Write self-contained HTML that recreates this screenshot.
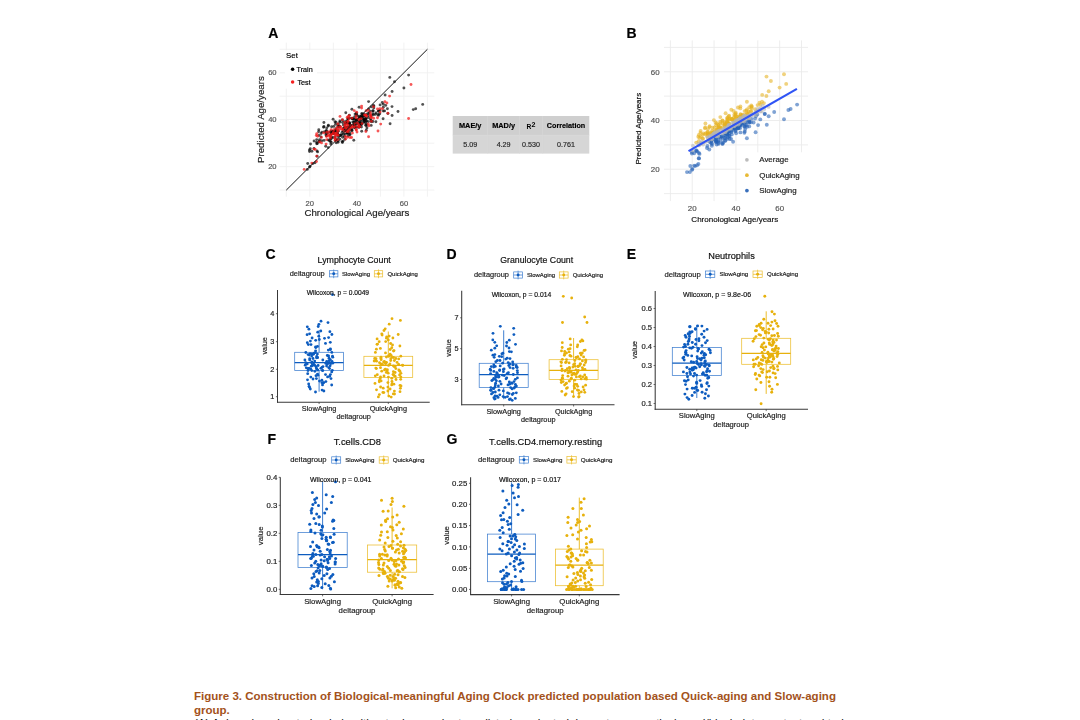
<!DOCTYPE html>
<html><head><meta charset="utf-8"><title>Figure 3</title>
<style>
html,body{margin:0;padding:0;background:#fff;}
body{width:1080px;height:720px;overflow:hidden;position:relative;font-family:'Liberation Sans', sans-serif;}
svg{position:absolute;left:0;top:0;}
svg text{font-family:'Liberation Sans', sans-serif;}
#fig{filter:blur(0.45px);}
.cap{position:absolute;left:194px;top:690.2px;width:700px;font-size:11.52px;line-height:13.7px;font-weight:bold;color:#a3521b;white-space:nowrap;}
.cap2{position:absolute;left:194px;top:716.6px;width:700px;font-size:11.52px;line-height:13.7px;color:#111;white-space:nowrap;}
</style></head>
<body>
<svg id="fig" width="1080" height="720" viewBox="0 0 1080 720">
<g id="A">
<line x1="286.30" y1="42.6" x2="286.30" y2="196.7" stroke="#f0f0f0" stroke-width="0.9"/>
<line x1="279.6" y1="190.10" x2="434.3" y2="190.10" stroke="#f0f0f0" stroke-width="0.9"/>
<line x1="309.82" y1="42.6" x2="309.82" y2="196.7" stroke="#f0f0f0" stroke-width="0.9"/>
<line x1="279.6" y1="166.63" x2="434.3" y2="166.63" stroke="#f0f0f0" stroke-width="0.9"/>
<line x1="333.34" y1="42.6" x2="333.34" y2="196.7" stroke="#f0f0f0" stroke-width="0.9"/>
<line x1="279.6" y1="143.16" x2="434.3" y2="143.16" stroke="#f0f0f0" stroke-width="0.9"/>
<line x1="356.86" y1="42.6" x2="356.86" y2="196.7" stroke="#f0f0f0" stroke-width="0.9"/>
<line x1="279.6" y1="119.69" x2="434.3" y2="119.69" stroke="#f0f0f0" stroke-width="0.9"/>
<line x1="380.38" y1="42.6" x2="380.38" y2="196.7" stroke="#f0f0f0" stroke-width="0.9"/>
<line x1="279.6" y1="96.22" x2="434.3" y2="96.22" stroke="#f0f0f0" stroke-width="0.9"/>
<line x1="403.90" y1="42.6" x2="403.90" y2="196.7" stroke="#f0f0f0" stroke-width="0.9"/>
<line x1="279.6" y1="72.75" x2="434.3" y2="72.75" stroke="#f0f0f0" stroke-width="0.9"/>
<line x1="427.42" y1="42.6" x2="427.42" y2="196.7" stroke="#f0f0f0" stroke-width="0.9"/>
<line x1="279.6" y1="49.28" x2="434.3" y2="49.28" stroke="#f0f0f0" stroke-width="0.9"/>
<rect x="284.9" y="50.3" width="32.1" height="38.4" fill="#fff"/>
<circle cx="330.4" cy="135.5" r="1.45" fill="#000" fill-opacity="0.68"/>
<circle cx="317.0" cy="150.9" r="1.45" fill="#000" fill-opacity="0.68"/>
<circle cx="356.6" cy="120.4" r="1.45" fill="#000" fill-opacity="0.68"/>
<circle cx="361.8" cy="113.5" r="1.45" fill="#000" fill-opacity="0.68"/>
<circle cx="340.1" cy="135.8" r="1.45" fill="#000" fill-opacity="0.68"/>
<circle cx="333.8" cy="131.7" r="1.45" fill="#000" fill-opacity="0.68"/>
<circle cx="349.8" cy="118.1" r="1.45" fill="#000" fill-opacity="0.68"/>
<circle cx="321.1" cy="133.5" r="1.45" fill="#000" fill-opacity="0.68"/>
<circle cx="378.4" cy="111.2" r="1.45" fill="#000" fill-opacity="0.68"/>
<circle cx="361.8" cy="124.3" r="1.45" fill="#000" fill-opacity="0.68"/>
<circle cx="331.5" cy="137.4" r="1.45" fill="#000" fill-opacity="0.68"/>
<circle cx="321.0" cy="137.0" r="1.45" fill="#000" fill-opacity="0.68"/>
<circle cx="356.7" cy="127.1" r="1.45" fill="#000" fill-opacity="0.68"/>
<circle cx="318.6" cy="131.8" r="1.45" fill="#000" fill-opacity="0.68"/>
<circle cx="337.7" cy="126.1" r="1.45" fill="#000" fill-opacity="0.68"/>
<circle cx="380.0" cy="110.4" r="1.45" fill="#000" fill-opacity="0.68"/>
<circle cx="360.9" cy="124.6" r="1.45" fill="#000" fill-opacity="0.68"/>
<circle cx="343.4" cy="134.3" r="1.45" fill="#000" fill-opacity="0.68"/>
<circle cx="348.0" cy="118.5" r="1.45" fill="#000" fill-opacity="0.68"/>
<circle cx="330.4" cy="138.9" r="1.45" fill="#000" fill-opacity="0.68"/>
<circle cx="353.8" cy="119.2" r="1.45" fill="#000" fill-opacity="0.68"/>
<circle cx="361.2" cy="123.2" r="1.45" fill="#000" fill-opacity="0.68"/>
<circle cx="343.2" cy="131.0" r="1.45" fill="#000" fill-opacity="0.68"/>
<circle cx="356.9" cy="124.1" r="1.45" fill="#000" fill-opacity="0.68"/>
<circle cx="347.1" cy="120.9" r="1.45" fill="#000" fill-opacity="0.68"/>
<circle cx="326.3" cy="131.2" r="1.45" fill="#000" fill-opacity="0.68"/>
<circle cx="378.5" cy="115.4" r="1.45" fill="#000" fill-opacity="0.68"/>
<circle cx="362.0" cy="114.1" r="1.45" fill="#000" fill-opacity="0.68"/>
<circle cx="373.0" cy="110.7" r="1.45" fill="#000" fill-opacity="0.68"/>
<circle cx="352.8" cy="118.6" r="1.45" fill="#000" fill-opacity="0.68"/>
<circle cx="345.3" cy="126.6" r="1.45" fill="#000" fill-opacity="0.68"/>
<circle cx="361.8" cy="117.0" r="1.45" fill="#000" fill-opacity="0.68"/>
<circle cx="331.6" cy="126.7" r="1.45" fill="#000" fill-opacity="0.68"/>
<circle cx="363.5" cy="119.6" r="1.45" fill="#000" fill-opacity="0.68"/>
<circle cx="329.3" cy="140.6" r="1.45" fill="#000" fill-opacity="0.68"/>
<circle cx="378.6" cy="110.9" r="1.45" fill="#000" fill-opacity="0.68"/>
<circle cx="357.5" cy="115.9" r="1.45" fill="#000" fill-opacity="0.68"/>
<circle cx="368.7" cy="109.0" r="1.45" fill="#000" fill-opacity="0.68"/>
<circle cx="365.9" cy="118.6" r="1.45" fill="#000" fill-opacity="0.68"/>
<circle cx="365.7" cy="118.9" r="1.45" fill="#000" fill-opacity="0.68"/>
<circle cx="371.1" cy="120.5" r="1.45" fill="#000" fill-opacity="0.68"/>
<circle cx="366.3" cy="130.3" r="1.45" fill="#000" fill-opacity="0.68"/>
<circle cx="349.3" cy="115.2" r="1.45" fill="#000" fill-opacity="0.68"/>
<circle cx="349.6" cy="127.1" r="1.45" fill="#000" fill-opacity="0.68"/>
<circle cx="325.7" cy="146.2" r="1.45" fill="#000" fill-opacity="0.68"/>
<circle cx="338.4" cy="131.1" r="1.45" fill="#000" fill-opacity="0.68"/>
<circle cx="366.9" cy="127.9" r="1.45" fill="#000" fill-opacity="0.68"/>
<circle cx="338.1" cy="136.5" r="1.45" fill="#000" fill-opacity="0.68"/>
<circle cx="335.7" cy="139.2" r="1.45" fill="#000" fill-opacity="0.68"/>
<circle cx="332.8" cy="131.4" r="1.45" fill="#000" fill-opacity="0.68"/>
<circle cx="339.8" cy="126.1" r="1.45" fill="#000" fill-opacity="0.68"/>
<circle cx="356.4" cy="120.0" r="1.45" fill="#000" fill-opacity="0.68"/>
<circle cx="345.6" cy="130.8" r="1.45" fill="#000" fill-opacity="0.68"/>
<circle cx="359.1" cy="107.2" r="1.45" fill="#000" fill-opacity="0.68"/>
<circle cx="384.6" cy="110.9" r="1.45" fill="#000" fill-opacity="0.68"/>
<circle cx="332.9" cy="133.7" r="1.45" fill="#000" fill-opacity="0.68"/>
<circle cx="349.9" cy="127.0" r="1.45" fill="#000" fill-opacity="0.68"/>
<circle cx="366.4" cy="118.0" r="1.45" fill="#000" fill-opacity="0.68"/>
<circle cx="368.1" cy="115.6" r="1.45" fill="#000" fill-opacity="0.68"/>
<circle cx="337.4" cy="133.5" r="1.45" fill="#000" fill-opacity="0.68"/>
<circle cx="330.4" cy="141.4" r="1.45" fill="#000" fill-opacity="0.68"/>
<circle cx="323.9" cy="126.5" r="1.45" fill="#000" fill-opacity="0.68"/>
<circle cx="347.2" cy="123.1" r="1.45" fill="#000" fill-opacity="0.68"/>
<circle cx="351.7" cy="125.6" r="1.45" fill="#000" fill-opacity="0.68"/>
<circle cx="326.7" cy="133.7" r="1.45" fill="#000" fill-opacity="0.68"/>
<circle cx="344.9" cy="139.3" r="1.45" fill="#000" fill-opacity="0.68"/>
<circle cx="349.6" cy="132.4" r="1.45" fill="#000" fill-opacity="0.68"/>
<circle cx="342.6" cy="137.2" r="1.45" fill="#000" fill-opacity="0.68"/>
<circle cx="358.6" cy="120.6" r="1.45" fill="#000" fill-opacity="0.68"/>
<circle cx="349.2" cy="122.3" r="1.45" fill="#000" fill-opacity="0.68"/>
<circle cx="344.6" cy="121.6" r="1.45" fill="#000" fill-opacity="0.68"/>
<circle cx="345.8" cy="112.7" r="1.45" fill="#000" fill-opacity="0.68"/>
<circle cx="351.9" cy="109.3" r="1.45" fill="#000" fill-opacity="0.68"/>
<circle cx="368.6" cy="117.5" r="1.45" fill="#000" fill-opacity="0.68"/>
<circle cx="345.2" cy="123.9" r="1.45" fill="#000" fill-opacity="0.68"/>
<circle cx="350.1" cy="134.6" r="1.45" fill="#000" fill-opacity="0.68"/>
<circle cx="344.5" cy="136.4" r="1.45" fill="#000" fill-opacity="0.68"/>
<circle cx="371.3" cy="121.8" r="1.45" fill="#000" fill-opacity="0.68"/>
<circle cx="363.9" cy="114.0" r="1.45" fill="#000" fill-opacity="0.68"/>
<circle cx="361.7" cy="131.2" r="1.45" fill="#000" fill-opacity="0.68"/>
<circle cx="361.0" cy="116.5" r="1.45" fill="#000" fill-opacity="0.68"/>
<circle cx="324.1" cy="140.4" r="1.45" fill="#000" fill-opacity="0.68"/>
<circle cx="347.9" cy="126.9" r="1.45" fill="#000" fill-opacity="0.68"/>
<circle cx="347.8" cy="130.9" r="1.45" fill="#000" fill-opacity="0.68"/>
<circle cx="331.0" cy="134.0" r="1.45" fill="#000" fill-opacity="0.68"/>
<circle cx="359.6" cy="118.0" r="1.45" fill="#000" fill-opacity="0.68"/>
<circle cx="359.9" cy="124.2" r="1.45" fill="#000" fill-opacity="0.68"/>
<circle cx="371.4" cy="115.7" r="1.45" fill="#000" fill-opacity="0.68"/>
<circle cx="335.3" cy="130.7" r="1.45" fill="#000" fill-opacity="0.68"/>
<circle cx="356.4" cy="115.1" r="1.45" fill="#000" fill-opacity="0.68"/>
<circle cx="359.7" cy="122.6" r="1.45" fill="#000" fill-opacity="0.68"/>
<circle cx="372.9" cy="121.5" r="1.45" fill="#000" fill-opacity="0.68"/>
<circle cx="344.4" cy="127.8" r="1.45" fill="#000" fill-opacity="0.68"/>
<circle cx="332.8" cy="131.6" r="1.45" fill="#000" fill-opacity="0.68"/>
<circle cx="335.0" cy="121.7" r="1.45" fill="#000" fill-opacity="0.68"/>
<circle cx="355.1" cy="126.4" r="1.45" fill="#000" fill-opacity="0.68"/>
<circle cx="363.7" cy="122.5" r="1.45" fill="#000" fill-opacity="0.68"/>
<circle cx="375.5" cy="114.4" r="1.45" fill="#000" fill-opacity="0.68"/>
<circle cx="349.2" cy="124.0" r="1.45" fill="#000" fill-opacity="0.68"/>
<circle cx="337.9" cy="131.4" r="1.45" fill="#000" fill-opacity="0.68"/>
<circle cx="375.9" cy="121.7" r="1.45" fill="#000" fill-opacity="0.68"/>
<circle cx="347.8" cy="133.4" r="1.45" fill="#000" fill-opacity="0.68"/>
<circle cx="333.1" cy="132.2" r="1.45" fill="#000" fill-opacity="0.68"/>
<circle cx="364.1" cy="120.3" r="1.45" fill="#000" fill-opacity="0.68"/>
<circle cx="333.2" cy="133.2" r="1.45" fill="#000" fill-opacity="0.68"/>
<circle cx="361.6" cy="117.6" r="1.45" fill="#000" fill-opacity="0.68"/>
<circle cx="341.0" cy="135.3" r="1.45" fill="#000" fill-opacity="0.68"/>
<circle cx="360.9" cy="119.8" r="1.45" fill="#000" fill-opacity="0.68"/>
<circle cx="336.2" cy="142.8" r="1.45" fill="#000" fill-opacity="0.68"/>
<circle cx="348.1" cy="135.9" r="1.45" fill="#000" fill-opacity="0.68"/>
<circle cx="345.0" cy="134.1" r="1.45" fill="#000" fill-opacity="0.68"/>
<circle cx="323.6" cy="127.2" r="1.45" fill="#000" fill-opacity="0.68"/>
<circle cx="344.8" cy="128.7" r="1.45" fill="#000" fill-opacity="0.68"/>
<circle cx="348.0" cy="118.6" r="1.45" fill="#000" fill-opacity="0.68"/>
<circle cx="343.4" cy="128.6" r="1.45" fill="#000" fill-opacity="0.68"/>
<circle cx="363.9" cy="120.1" r="1.45" fill="#000" fill-opacity="0.68"/>
<circle cx="354.7" cy="127.8" r="1.45" fill="#000" fill-opacity="0.68"/>
<circle cx="356.6" cy="122.5" r="1.45" fill="#000" fill-opacity="0.68"/>
<circle cx="354.9" cy="125.4" r="1.45" fill="#000" fill-opacity="0.68"/>
<circle cx="338.7" cy="135.2" r="1.45" fill="#000" fill-opacity="0.68"/>
<circle cx="349.4" cy="124.0" r="1.45" fill="#000" fill-opacity="0.68"/>
<circle cx="352.4" cy="118.7" r="1.45" fill="#000" fill-opacity="0.68"/>
<circle cx="361.2" cy="115.9" r="1.45" fill="#000" fill-opacity="0.68"/>
<circle cx="353.9" cy="122.3" r="1.45" fill="#000" fill-opacity="0.68"/>
<circle cx="383.1" cy="118.7" r="1.45" fill="#000" fill-opacity="0.68"/>
<circle cx="365.8" cy="120.8" r="1.45" fill="#000" fill-opacity="0.68"/>
<circle cx="350.0" cy="127.4" r="1.45" fill="#000" fill-opacity="0.68"/>
<circle cx="361.4" cy="121.6" r="1.45" fill="#000" fill-opacity="0.68"/>
<circle cx="358.6" cy="127.4" r="1.45" fill="#000" fill-opacity="0.68"/>
<circle cx="318.8" cy="129.8" r="1.45" fill="#000" fill-opacity="0.68"/>
<circle cx="354.4" cy="124.7" r="1.45" fill="#000" fill-opacity="0.68"/>
<circle cx="364.3" cy="121.8" r="1.45" fill="#000" fill-opacity="0.68"/>
<circle cx="343.4" cy="125.0" r="1.45" fill="#000" fill-opacity="0.68"/>
<circle cx="383.3" cy="111.0" r="1.45" fill="#000" fill-opacity="0.68"/>
<circle cx="354.1" cy="124.2" r="1.45" fill="#000" fill-opacity="0.68"/>
<circle cx="337.9" cy="134.5" r="1.45" fill="#000" fill-opacity="0.68"/>
<circle cx="359.6" cy="118.3" r="1.45" fill="#000" fill-opacity="0.68"/>
<circle cx="345.3" cy="123.4" r="1.45" fill="#000" fill-opacity="0.68"/>
<circle cx="380.1" cy="104.9" r="1.45" fill="#000" fill-opacity="0.68"/>
<circle cx="368.9" cy="113.5" r="1.45" fill="#000" fill-opacity="0.68"/>
<circle cx="352.3" cy="118.6" r="1.45" fill="#000" fill-opacity="0.68"/>
<circle cx="359.3" cy="125.9" r="1.45" fill="#000" fill-opacity="0.68"/>
<circle cx="373.4" cy="105.2" r="1.45" fill="#000" fill-opacity="0.68"/>
<circle cx="387.9" cy="113.5" r="1.45" fill="#000" fill-opacity="0.68"/>
<circle cx="349.8" cy="123.1" r="1.45" fill="#000" fill-opacity="0.68"/>
<circle cx="359.9" cy="119.1" r="1.45" fill="#000" fill-opacity="0.68"/>
<circle cx="366.8" cy="121.0" r="1.45" fill="#000" fill-opacity="0.68"/>
<circle cx="328.2" cy="140.0" r="1.45" fill="#000" fill-opacity="0.68"/>
<circle cx="356.5" cy="119.6" r="1.45" fill="#000" fill-opacity="0.68"/>
<circle cx="342.1" cy="132.3" r="1.45" fill="#000" fill-opacity="0.68"/>
<circle cx="333.1" cy="119.3" r="1.45" fill="#000" fill-opacity="0.68"/>
<circle cx="338.6" cy="126.2" r="1.45" fill="#000" fill-opacity="0.68"/>
<circle cx="392.0" cy="106.6" r="1.45" fill="#000" fill-opacity="0.68"/>
<circle cx="373.5" cy="114.7" r="1.45" fill="#000" fill-opacity="0.68"/>
<circle cx="373.1" cy="111.0" r="1.45" fill="#000" fill-opacity="0.68"/>
<circle cx="359.2" cy="117.8" r="1.45" fill="#000" fill-opacity="0.68"/>
<circle cx="366.7" cy="114.2" r="1.45" fill="#000" fill-opacity="0.68"/>
<circle cx="352.8" cy="121.9" r="1.45" fill="#000" fill-opacity="0.68"/>
<circle cx="343.3" cy="128.8" r="1.45" fill="#000" fill-opacity="0.68"/>
<circle cx="352.0" cy="129.0" r="1.45" fill="#000" fill-opacity="0.68"/>
<circle cx="354.1" cy="127.1" r="1.45" fill="#000" fill-opacity="0.68"/>
<circle cx="342.1" cy="141.6" r="1.45" fill="#000" fill-opacity="0.68"/>
<circle cx="331.2" cy="138.7" r="1.45" fill="#000" fill-opacity="0.68"/>
<circle cx="326.2" cy="132.5" r="1.45" fill="#000" fill-opacity="0.68"/>
<circle cx="330.3" cy="132.1" r="1.45" fill="#000" fill-opacity="0.68"/>
<circle cx="336.1" cy="131.9" r="1.45" fill="#000" fill-opacity="0.68"/>
<circle cx="363.3" cy="115.0" r="1.45" fill="#000" fill-opacity="0.68"/>
<circle cx="390.1" cy="123.7" r="1.45" fill="#000" fill-opacity="0.68"/>
<circle cx="368.6" cy="101.6" r="1.45" fill="#000" fill-opacity="0.68"/>
<circle cx="359.6" cy="123.5" r="1.45" fill="#000" fill-opacity="0.68"/>
<circle cx="349.8" cy="124.7" r="1.45" fill="#000" fill-opacity="0.68"/>
<circle cx="363.4" cy="115.9" r="1.45" fill="#000" fill-opacity="0.68"/>
<circle cx="351.7" cy="130.3" r="1.45" fill="#000" fill-opacity="0.68"/>
<circle cx="368.8" cy="112.6" r="1.45" fill="#000" fill-opacity="0.68"/>
<circle cx="366.4" cy="124.0" r="1.45" fill="#000" fill-opacity="0.68"/>
<circle cx="335.5" cy="124.3" r="1.45" fill="#000" fill-opacity="0.68"/>
<circle cx="354.7" cy="121.8" r="1.45" fill="#000" fill-opacity="0.68"/>
<circle cx="335.9" cy="128.8" r="1.45" fill="#000" fill-opacity="0.68"/>
<circle cx="346.8" cy="127.6" r="1.45" fill="#000" fill-opacity="0.68"/>
<circle cx="347.1" cy="122.5" r="1.45" fill="#000" fill-opacity="0.68"/>
<circle cx="361.7" cy="124.1" r="1.45" fill="#000" fill-opacity="0.68"/>
<circle cx="383.3" cy="104.2" r="1.45" fill="#000" fill-opacity="0.68"/>
<circle cx="365.6" cy="122.4" r="1.45" fill="#000" fill-opacity="0.68"/>
<circle cx="359.4" cy="126.8" r="1.45" fill="#000" fill-opacity="0.68"/>
<circle cx="342.4" cy="120.0" r="1.45" fill="#000" fill-opacity="0.68"/>
<circle cx="356.2" cy="113.0" r="1.45" fill="#000" fill-opacity="0.68"/>
<circle cx="361.1" cy="117.6" r="1.45" fill="#000" fill-opacity="0.68"/>
<circle cx="346.8" cy="128.8" r="1.45" fill="#000" fill-opacity="0.68"/>
<circle cx="363.2" cy="117.7" r="1.45" fill="#000" fill-opacity="0.68"/>
<circle cx="319.6" cy="139.7" r="1.45" fill="#000" fill-opacity="0.68"/>
<circle cx="359.5" cy="126.8" r="1.45" fill="#000" fill-opacity="0.68"/>
<circle cx="378.1" cy="114.5" r="1.45" fill="#000" fill-opacity="0.68"/>
<circle cx="335.4" cy="130.4" r="1.45" fill="#000" fill-opacity="0.68"/>
<circle cx="347.8" cy="127.2" r="1.45" fill="#000" fill-opacity="0.68"/>
<circle cx="364.5" cy="119.7" r="1.45" fill="#000" fill-opacity="0.68"/>
<circle cx="333.5" cy="132.3" r="1.45" fill="#000" fill-opacity="0.68"/>
<circle cx="392.1" cy="115.5" r="1.45" fill="#000" fill-opacity="0.68"/>
<circle cx="338.0" cy="142.3" r="1.45" fill="#000" fill-opacity="0.68"/>
<circle cx="335.3" cy="134.3" r="1.45" fill="#000" fill-opacity="0.68"/>
<circle cx="354.8" cy="123.5" r="1.45" fill="#000" fill-opacity="0.68"/>
<circle cx="339.8" cy="139.3" r="1.45" fill="#000" fill-opacity="0.68"/>
<circle cx="326.7" cy="128.0" r="1.45" fill="#000" fill-opacity="0.68"/>
<circle cx="385.7" cy="105.4" r="1.45" fill="#000" fill-opacity="0.68"/>
<circle cx="371.2" cy="125.4" r="1.45" fill="#000" fill-opacity="0.68"/>
<circle cx="349.5" cy="129.9" r="1.45" fill="#000" fill-opacity="0.68"/>
<circle cx="363.6" cy="119.0" r="1.45" fill="#000" fill-opacity="0.68"/>
<circle cx="338.7" cy="127.2" r="1.45" fill="#000" fill-opacity="0.68"/>
<circle cx="365.6" cy="125.2" r="1.45" fill="#000" fill-opacity="0.68"/>
<circle cx="319.0" cy="135.4" r="1.45" fill="#000" fill-opacity="0.68"/>
<circle cx="353.8" cy="140.3" r="1.45" fill="#000" fill-opacity="0.68"/>
<circle cx="314.1" cy="141.0" r="1.45" fill="#000" fill-opacity="0.68"/>
<circle cx="328.3" cy="126.0" r="1.45" fill="#000" fill-opacity="0.68"/>
<circle cx="347.7" cy="122.9" r="1.45" fill="#000" fill-opacity="0.68"/>
<circle cx="370.4" cy="111.1" r="1.45" fill="#000" fill-opacity="0.68"/>
<circle cx="338.2" cy="141.0" r="1.45" fill="#000" fill-opacity="0.68"/>
<circle cx="368.4" cy="121.6" r="1.45" fill="#000" fill-opacity="0.68"/>
<circle cx="352.2" cy="118.2" r="1.45" fill="#000" fill-opacity="0.68"/>
<circle cx="349.6" cy="134.5" r="1.45" fill="#000" fill-opacity="0.68"/>
<circle cx="371.2" cy="106.9" r="1.45" fill="#000" fill-opacity="0.68"/>
<circle cx="359.6" cy="116.1" r="1.45" fill="#000" fill-opacity="0.68"/>
<circle cx="354.8" cy="119.1" r="1.45" fill="#000" fill-opacity="0.68"/>
<circle cx="356.5" cy="119.9" r="1.45" fill="#000" fill-opacity="0.68"/>
<circle cx="379.8" cy="113.8" r="1.45" fill="#000" fill-opacity="0.68"/>
<circle cx="364.6" cy="116.1" r="1.45" fill="#000" fill-opacity="0.68"/>
<circle cx="347.0" cy="133.3" r="1.45" fill="#000" fill-opacity="0.68"/>
<circle cx="321.9" cy="132.1" r="1.45" fill="#000" fill-opacity="0.68"/>
<circle cx="335.2" cy="137.1" r="1.45" fill="#000" fill-opacity="0.68"/>
<circle cx="324.5" cy="131.8" r="1.45" fill="#000" fill-opacity="0.68"/>
<circle cx="343.1" cy="141.1" r="1.45" fill="#000" fill-opacity="0.68"/>
<circle cx="366.5" cy="125.8" r="1.45" fill="#000" fill-opacity="0.68"/>
<circle cx="339.8" cy="122.3" r="1.45" fill="#000" fill-opacity="0.68"/>
<circle cx="331.2" cy="131.2" r="1.45" fill="#000" fill-opacity="0.68"/>
<circle cx="328.2" cy="147.6" r="1.45" fill="#000" fill-opacity="0.68"/>
<circle cx="352.1" cy="130.7" r="1.45" fill="#000" fill-opacity="0.68"/>
<circle cx="372.8" cy="113.7" r="1.45" fill="#000" fill-opacity="0.68"/>
<circle cx="370.4" cy="119.1" r="1.45" fill="#000" fill-opacity="0.68"/>
<circle cx="319.2" cy="141.9" r="1.45" fill="#000" fill-opacity="0.68"/>
<circle cx="361.4" cy="127.0" r="1.45" fill="#000" fill-opacity="0.68"/>
<circle cx="356.7" cy="113.9" r="1.45" fill="#000" fill-opacity="0.68"/>
<circle cx="346.8" cy="120.9" r="1.45" fill="#000" fill-opacity="0.68"/>
<circle cx="355.1" cy="114.1" r="1.45" fill="#000" fill-opacity="0.68"/>
<circle cx="373.8" cy="107.9" r="1.45" fill="#000" fill-opacity="0.68"/>
<circle cx="325.9" cy="134.8" r="1.45" fill="#000" fill-opacity="0.68"/>
<circle cx="333.8" cy="126.4" r="1.45" fill="#000" fill-opacity="0.68"/>
<circle cx="342.6" cy="122.5" r="1.45" fill="#000" fill-opacity="0.68"/>
<circle cx="341.0" cy="134.8" r="1.45" fill="#000" fill-opacity="0.68"/>
<circle cx="383.3" cy="107.3" r="1.45" fill="#000" fill-opacity="0.68"/>
<circle cx="382.3" cy="102.5" r="1.45" fill="#000" fill-opacity="0.68"/>
<circle cx="331.2" cy="142.3" r="1.45" fill="#000" fill-opacity="0.68"/>
<circle cx="328.2" cy="132.6" r="1.45" fill="#000" fill-opacity="0.68"/>
<circle cx="319.1" cy="141.3" r="1.45" fill="#000" fill-opacity="0.68"/>
<circle cx="326.3" cy="135.9" r="1.45" fill="#000" fill-opacity="0.68"/>
<circle cx="387.4" cy="108.7" r="1.45" fill="#000" fill-opacity="0.68"/>
<circle cx="330.8" cy="144.1" r="1.45" fill="#000" fill-opacity="0.68"/>
<circle cx="357.1" cy="123.3" r="1.45" fill="#000" fill-opacity="0.68"/>
<circle cx="375.9" cy="112.9" r="1.45" fill="#000" fill-opacity="0.68"/>
<circle cx="323.9" cy="122.5" r="1.45" fill="#000" fill-opacity="0.68"/>
<circle cx="354.8" cy="124.7" r="1.45" fill="#000" fill-opacity="0.68"/>
<circle cx="328.4" cy="125.2" r="1.45" fill="#000" fill-opacity="0.68"/>
<circle cx="316.5" cy="142.1" r="1.45" fill="#000" fill-opacity="0.68"/>
<circle cx="347.2" cy="132.9" r="1.45" fill="#000" fill-opacity="0.68"/>
<circle cx="321.8" cy="140.8" r="1.45" fill="#000" fill-opacity="0.68"/>
<circle cx="373.9" cy="106.1" r="1.45" fill="#000" fill-opacity="0.68"/>
<circle cx="354.7" cy="116.6" r="1.45" fill="#000" fill-opacity="0.68"/>
<circle cx="338.2" cy="124.2" r="1.45" fill="#000" fill-opacity="0.68"/>
<circle cx="331.4" cy="133.5" r="1.45" fill="#000" fill-opacity="0.68"/>
<circle cx="355.0" cy="127.0" r="1.45" fill="#000" fill-opacity="0.68"/>
<circle cx="333.1" cy="137.5" r="1.45" fill="#000" fill-opacity="0.68"/>
<circle cx="345.3" cy="130.6" r="1.45" fill="#000" fill-opacity="0.68"/>
<circle cx="359.8" cy="118.8" r="1.45" fill="#000" fill-opacity="0.68"/>
<circle cx="326.4" cy="130.4" r="1.45" fill="#000" fill-opacity="0.68"/>
<circle cx="339.9" cy="121.0" r="1.45" fill="#000" fill-opacity="0.68"/>
<circle cx="336.0" cy="122.3" r="1.45" fill="#000" fill-opacity="0.68"/>
<circle cx="359.4" cy="122.0" r="1.45" fill="#000" fill-opacity="0.68"/>
<circle cx="342.4" cy="142.5" r="1.45" fill="#000" fill-opacity="0.68"/>
<circle cx="307.3" cy="169.4" r="1.45" fill="#000" fill-opacity="0.68"/>
<circle cx="317.1" cy="156.2" r="1.45" fill="#000" fill-opacity="0.68"/>
<circle cx="307.7" cy="163.5" r="1.45" fill="#000" fill-opacity="0.68"/>
<circle cx="315.0" cy="162.8" r="1.45" fill="#000" fill-opacity="0.68"/>
<circle cx="312.9" cy="163.6" r="1.45" fill="#000" fill-opacity="0.68"/>
<circle cx="310.0" cy="166.3" r="1.45" fill="#000" fill-opacity="0.68"/>
<circle cx="309.6" cy="167.1" r="1.45" fill="#000" fill-opacity="0.68"/>
<circle cx="309.4" cy="150.0" r="1.45" fill="#000" fill-opacity="0.68"/>
<circle cx="317.6" cy="151.9" r="1.45" fill="#000" fill-opacity="0.68"/>
<circle cx="317.4" cy="143.5" r="1.45" fill="#000" fill-opacity="0.68"/>
<circle cx="311.9" cy="151.2" r="1.45" fill="#000" fill-opacity="0.68"/>
<circle cx="316.7" cy="139.6" r="1.45" fill="#000" fill-opacity="0.68"/>
<circle cx="309.5" cy="151.6" r="1.45" fill="#000" fill-opacity="0.68"/>
<circle cx="314.0" cy="148.4" r="1.45" fill="#000" fill-opacity="0.68"/>
<circle cx="316.7" cy="143.7" r="1.45" fill="#000" fill-opacity="0.68"/>
<circle cx="310.3" cy="148.7" r="1.45" fill="#000" fill-opacity="0.68"/>
<circle cx="310.5" cy="144.0" r="1.45" fill="#000" fill-opacity="0.68"/>
<circle cx="389.8" cy="77.4" r="1.45" fill="#000" fill-opacity="0.68"/>
<circle cx="394.5" cy="81.7" r="1.45" fill="#000" fill-opacity="0.68"/>
<circle cx="408.6" cy="75.1" r="1.45" fill="#000" fill-opacity="0.68"/>
<circle cx="403.9" cy="88.0" r="1.45" fill="#000" fill-opacity="0.68"/>
<circle cx="413.3" cy="109.6" r="1.45" fill="#000" fill-opacity="0.68"/>
<circle cx="415.7" cy="108.7" r="1.45" fill="#000" fill-opacity="0.68"/>
<circle cx="422.7" cy="104.4" r="1.45" fill="#000" fill-opacity="0.68"/>
<circle cx="398.0" cy="111.5" r="1.45" fill="#000" fill-opacity="0.68"/>
<circle cx="392.1" cy="91.5" r="1.45" fill="#000" fill-opacity="0.68"/>
<circle cx="385.1" cy="95.0" r="1.45" fill="#000" fill-opacity="0.68"/>
<circle cx="345.3" cy="124.9" r="1.45" fill="#f21818" fill-opacity="0.72"/>
<circle cx="370.4" cy="115.0" r="1.45" fill="#f21818" fill-opacity="0.72"/>
<circle cx="316.3" cy="135.4" r="1.45" fill="#f21818" fill-opacity="0.72"/>
<circle cx="357.4" cy="123.0" r="1.45" fill="#f21818" fill-opacity="0.72"/>
<circle cx="342.1" cy="129.6" r="1.45" fill="#f21818" fill-opacity="0.72"/>
<circle cx="348.1" cy="131.8" r="1.45" fill="#f21818" fill-opacity="0.72"/>
<circle cx="370.5" cy="115.5" r="1.45" fill="#f21818" fill-opacity="0.72"/>
<circle cx="379.9" cy="108.6" r="1.45" fill="#f21818" fill-opacity="0.72"/>
<circle cx="315.2" cy="149.4" r="1.45" fill="#f21818" fill-opacity="0.72"/>
<circle cx="368.9" cy="125.8" r="1.45" fill="#f21818" fill-opacity="0.72"/>
<circle cx="361.2" cy="118.6" r="1.45" fill="#f21818" fill-opacity="0.72"/>
<circle cx="351.5" cy="125.9" r="1.45" fill="#f21818" fill-opacity="0.72"/>
<circle cx="356.3" cy="129.5" r="1.45" fill="#f21818" fill-opacity="0.72"/>
<circle cx="355.0" cy="126.4" r="1.45" fill="#f21818" fill-opacity="0.72"/>
<circle cx="361.6" cy="106.1" r="1.45" fill="#f21818" fill-opacity="0.72"/>
<circle cx="321.4" cy="137.4" r="1.45" fill="#f21818" fill-opacity="0.72"/>
<circle cx="344.7" cy="122.5" r="1.45" fill="#f21818" fill-opacity="0.72"/>
<circle cx="380.7" cy="124.1" r="1.45" fill="#f21818" fill-opacity="0.72"/>
<circle cx="377.5" cy="117.8" r="1.45" fill="#f21818" fill-opacity="0.72"/>
<circle cx="345.6" cy="139.1" r="1.45" fill="#f21818" fill-opacity="0.72"/>
<circle cx="370.9" cy="117.6" r="1.45" fill="#f21818" fill-opacity="0.72"/>
<circle cx="357.5" cy="126.6" r="1.45" fill="#f21818" fill-opacity="0.72"/>
<circle cx="370.4" cy="112.7" r="1.45" fill="#f21818" fill-opacity="0.72"/>
<circle cx="382.4" cy="108.7" r="1.45" fill="#f21818" fill-opacity="0.72"/>
<circle cx="335.1" cy="140.5" r="1.45" fill="#f21818" fill-opacity="0.72"/>
<circle cx="365.9" cy="131.5" r="1.45" fill="#f21818" fill-opacity="0.72"/>
<circle cx="335.1" cy="136.5" r="1.45" fill="#f21818" fill-opacity="0.72"/>
<circle cx="354.5" cy="123.5" r="1.45" fill="#f21818" fill-opacity="0.72"/>
<circle cx="333.0" cy="133.8" r="1.45" fill="#f21818" fill-opacity="0.72"/>
<circle cx="368.3" cy="124.0" r="1.45" fill="#f21818" fill-opacity="0.72"/>
<circle cx="356.2" cy="116.0" r="1.45" fill="#f21818" fill-opacity="0.72"/>
<circle cx="365.6" cy="115.3" r="1.45" fill="#f21818" fill-opacity="0.72"/>
<circle cx="336.4" cy="128.7" r="1.45" fill="#f21818" fill-opacity="0.72"/>
<circle cx="337.7" cy="139.5" r="1.45" fill="#f21818" fill-opacity="0.72"/>
<circle cx="326.5" cy="136.5" r="1.45" fill="#f21818" fill-opacity="0.72"/>
<circle cx="346.9" cy="131.5" r="1.45" fill="#f21818" fill-opacity="0.72"/>
<circle cx="352.4" cy="133.1" r="1.45" fill="#f21818" fill-opacity="0.72"/>
<circle cx="346.8" cy="127.3" r="1.45" fill="#f21818" fill-opacity="0.72"/>
<circle cx="335.9" cy="140.2" r="1.45" fill="#f21818" fill-opacity="0.72"/>
<circle cx="328.6" cy="136.0" r="1.45" fill="#f21818" fill-opacity="0.72"/>
<circle cx="340.0" cy="116.4" r="1.45" fill="#f21818" fill-opacity="0.72"/>
<circle cx="373.6" cy="118.2" r="1.45" fill="#f21818" fill-opacity="0.72"/>
<circle cx="348.1" cy="125.1" r="1.45" fill="#f21818" fill-opacity="0.72"/>
<circle cx="330.5" cy="136.3" r="1.45" fill="#f21818" fill-opacity="0.72"/>
<circle cx="361.6" cy="108.1" r="1.45" fill="#f21818" fill-opacity="0.72"/>
<circle cx="340.0" cy="129.0" r="1.45" fill="#f21818" fill-opacity="0.72"/>
<circle cx="344.7" cy="125.8" r="1.45" fill="#f21818" fill-opacity="0.72"/>
<circle cx="330.4" cy="138.1" r="1.45" fill="#f21818" fill-opacity="0.72"/>
<circle cx="347.1" cy="124.2" r="1.45" fill="#f21818" fill-opacity="0.72"/>
<circle cx="347.6" cy="121.5" r="1.45" fill="#f21818" fill-opacity="0.72"/>
<circle cx="377.5" cy="108.9" r="1.45" fill="#f21818" fill-opacity="0.72"/>
<circle cx="358.7" cy="124.8" r="1.45" fill="#f21818" fill-opacity="0.72"/>
<circle cx="335.1" cy="138.2" r="1.45" fill="#f21818" fill-opacity="0.72"/>
<circle cx="326.1" cy="144.1" r="1.45" fill="#f21818" fill-opacity="0.72"/>
<circle cx="338.0" cy="135.2" r="1.45" fill="#f21818" fill-opacity="0.72"/>
<circle cx="337.6" cy="127.3" r="1.45" fill="#f21818" fill-opacity="0.72"/>
<circle cx="348.1" cy="121.4" r="1.45" fill="#f21818" fill-opacity="0.72"/>
<circle cx="349.1" cy="127.6" r="1.45" fill="#f21818" fill-opacity="0.72"/>
<circle cx="347.2" cy="117.4" r="1.45" fill="#f21818" fill-opacity="0.72"/>
<circle cx="319.6" cy="141.9" r="1.45" fill="#f21818" fill-opacity="0.72"/>
<circle cx="365.9" cy="115.3" r="1.45" fill="#f21818" fill-opacity="0.72"/>
<circle cx="354.2" cy="110.6" r="1.45" fill="#f21818" fill-opacity="0.72"/>
<circle cx="350.0" cy="137.5" r="1.45" fill="#f21818" fill-opacity="0.72"/>
<circle cx="349.4" cy="129.9" r="1.45" fill="#f21818" fill-opacity="0.72"/>
<circle cx="349.2" cy="118.7" r="1.45" fill="#f21818" fill-opacity="0.72"/>
<circle cx="348.1" cy="116.6" r="1.45" fill="#f21818" fill-opacity="0.72"/>
<circle cx="344.8" cy="131.4" r="1.45" fill="#f21818" fill-opacity="0.72"/>
<circle cx="356.2" cy="130.0" r="1.45" fill="#f21818" fill-opacity="0.72"/>
<circle cx="331.2" cy="129.6" r="1.45" fill="#f21818" fill-opacity="0.72"/>
<circle cx="366.1" cy="110.7" r="1.45" fill="#f21818" fill-opacity="0.72"/>
<circle cx="340.7" cy="127.1" r="1.45" fill="#f21818" fill-opacity="0.72"/>
<circle cx="316.8" cy="133.6" r="1.45" fill="#f21818" fill-opacity="0.72"/>
<circle cx="371.4" cy="121.2" r="1.45" fill="#f21818" fill-opacity="0.72"/>
<circle cx="330.5" cy="134.9" r="1.45" fill="#f21818" fill-opacity="0.72"/>
<circle cx="350.3" cy="127.5" r="1.45" fill="#f21818" fill-opacity="0.72"/>
<circle cx="338.0" cy="130.1" r="1.45" fill="#f21818" fill-opacity="0.72"/>
<circle cx="345.3" cy="128.1" r="1.45" fill="#f21818" fill-opacity="0.72"/>
<circle cx="347.5" cy="137.2" r="1.45" fill="#f21818" fill-opacity="0.72"/>
<circle cx="331.6" cy="134.4" r="1.45" fill="#f21818" fill-opacity="0.72"/>
<circle cx="366.6" cy="116.3" r="1.45" fill="#f21818" fill-opacity="0.72"/>
<circle cx="362.0" cy="123.6" r="1.45" fill="#f21818" fill-opacity="0.72"/>
<circle cx="387.9" cy="113.3" r="1.45" fill="#f21818" fill-opacity="0.72"/>
<circle cx="347.8" cy="130.4" r="1.45" fill="#f21818" fill-opacity="0.72"/>
<circle cx="335.4" cy="139.7" r="1.45" fill="#f21818" fill-opacity="0.72"/>
<circle cx="351.6" cy="137.5" r="1.45" fill="#f21818" fill-opacity="0.72"/>
<circle cx="342.4" cy="119.7" r="1.45" fill="#f21818" fill-opacity="0.72"/>
<circle cx="337.9" cy="124.0" r="1.45" fill="#f21818" fill-opacity="0.72"/>
<circle cx="345.5" cy="136.5" r="1.45" fill="#f21818" fill-opacity="0.72"/>
<circle cx="328.3" cy="134.8" r="1.45" fill="#f21818" fill-opacity="0.72"/>
<circle cx="326.8" cy="132.2" r="1.45" fill="#f21818" fill-opacity="0.72"/>
<circle cx="386.9" cy="103.0" r="1.45" fill="#f21818" fill-opacity="0.72"/>
<circle cx="384.9" cy="101.7" r="1.45" fill="#f21818" fill-opacity="0.72"/>
<circle cx="358.7" cy="119.2" r="1.45" fill="#f21818" fill-opacity="0.72"/>
<circle cx="337.5" cy="134.7" r="1.45" fill="#f21818" fill-opacity="0.72"/>
<circle cx="336.2" cy="133.1" r="1.45" fill="#f21818" fill-opacity="0.72"/>
<circle cx="353.8" cy="127.1" r="1.45" fill="#f21818" fill-opacity="0.72"/>
<circle cx="333.9" cy="129.7" r="1.45" fill="#f21818" fill-opacity="0.72"/>
<circle cx="351.7" cy="125.7" r="1.45" fill="#f21818" fill-opacity="0.72"/>
<circle cx="364.5" cy="114.9" r="1.45" fill="#f21818" fill-opacity="0.72"/>
<circle cx="337.8" cy="131.6" r="1.45" fill="#f21818" fill-opacity="0.72"/>
<circle cx="359.1" cy="119.2" r="1.45" fill="#f21818" fill-opacity="0.72"/>
<circle cx="321.5" cy="142.9" r="1.45" fill="#f21818" fill-opacity="0.72"/>
<circle cx="357.0" cy="132.0" r="1.45" fill="#f21818" fill-opacity="0.72"/>
<circle cx="389.6" cy="96.1" r="1.45" fill="#f21818" fill-opacity="0.72"/>
<circle cx="323.7" cy="132.9" r="1.45" fill="#f21818" fill-opacity="0.72"/>
<circle cx="356.7" cy="112.2" r="1.45" fill="#f21818" fill-opacity="0.72"/>
<circle cx="333.4" cy="132.2" r="1.45" fill="#f21818" fill-opacity="0.72"/>
<circle cx="359.7" cy="126.5" r="1.45" fill="#f21818" fill-opacity="0.72"/>
<circle cx="340.3" cy="126.8" r="1.45" fill="#f21818" fill-opacity="0.72"/>
<circle cx="380.1" cy="112.1" r="1.45" fill="#f21818" fill-opacity="0.72"/>
<circle cx="373.5" cy="106.7" r="1.45" fill="#f21818" fill-opacity="0.72"/>
<circle cx="351.6" cy="127.4" r="1.45" fill="#f21818" fill-opacity="0.72"/>
<circle cx="337.8" cy="130.0" r="1.45" fill="#f21818" fill-opacity="0.72"/>
<circle cx="335.3" cy="133.7" r="1.45" fill="#f21818" fill-opacity="0.72"/>
<circle cx="342.7" cy="128.9" r="1.45" fill="#f21818" fill-opacity="0.72"/>
<circle cx="329.1" cy="131.7" r="1.45" fill="#f21818" fill-opacity="0.72"/>
<circle cx="359.2" cy="127.1" r="1.45" fill="#f21818" fill-opacity="0.72"/>
<circle cx="356.2" cy="117.9" r="1.45" fill="#f21818" fill-opacity="0.72"/>
<circle cx="335.9" cy="134.8" r="1.45" fill="#f21818" fill-opacity="0.72"/>
<circle cx="326.7" cy="139.6" r="1.45" fill="#f21818" fill-opacity="0.72"/>
<circle cx="368.0" cy="110.2" r="1.45" fill="#f21818" fill-opacity="0.72"/>
<circle cx="352.0" cy="118.1" r="1.45" fill="#f21818" fill-opacity="0.72"/>
<circle cx="347.0" cy="129.5" r="1.45" fill="#f21818" fill-opacity="0.72"/>
<circle cx="349.3" cy="115.6" r="1.45" fill="#f21818" fill-opacity="0.72"/>
<circle cx="371.3" cy="117.3" r="1.45" fill="#f21818" fill-opacity="0.72"/>
<circle cx="304.2" cy="169.4" r="1.45" fill="#f21818" fill-opacity="0.72"/>
<circle cx="316.8" cy="156.1" r="1.45" fill="#f21818" fill-opacity="0.72"/>
<circle cx="311.8" cy="163.1" r="1.45" fill="#f21818" fill-opacity="0.72"/>
<circle cx="316.5" cy="161.5" r="1.45" fill="#f21818" fill-opacity="0.72"/>
<circle cx="317.6" cy="136.2" r="1.45" fill="#f21818" fill-opacity="0.72"/>
<circle cx="314.0" cy="149.1" r="1.45" fill="#f21818" fill-opacity="0.72"/>
<circle cx="411.0" cy="84.5" r="1.45" fill="#f21818" fill-opacity="0.72"/>
<circle cx="408.6" cy="118.5" r="1.45" fill="#f21818" fill-opacity="0.72"/>
<circle cx="368.6" cy="136.8" r="1.45" fill="#f21818" fill-opacity="0.72"/>
<circle cx="378.0" cy="131.0" r="1.45" fill="#f21818" fill-opacity="0.72"/>
<line x1="286.30" y1="190.10" x2="427.42" y2="49.28" stroke="#111" stroke-width="1.0"/>
<text x="286.10" y="57.80" font-size="7.8" fill="#000" stroke="#000" stroke-width="0.18" text-anchor="start" font-weight="normal">Set</text>
<circle cx="292.6" cy="69.3" r="1.75" fill="#000"/>
<circle cx="292.6" cy="82.0" r="1.75" fill="#f52020"/>
<text x="296.60" y="72.40" font-size="7.2" fill="#000" stroke="#000" stroke-width="0.18" text-anchor="start" font-weight="normal">Train</text>
<text x="297.50" y="84.70" font-size="7.2" fill="#000" stroke="#000" stroke-width="0.18" text-anchor="start" font-weight="normal">Test</text>
<text x="309.82" y="206.30" font-size="7.6" fill="#555" stroke="#555" stroke-width="0.18" text-anchor="middle" font-weight="normal">20</text>
<text x="276.60" y="169.33" font-size="7.6" fill="#555" stroke="#555" stroke-width="0.18" text-anchor="end" font-weight="normal">20</text>
<text x="356.86" y="206.30" font-size="7.6" fill="#555" stroke="#555" stroke-width="0.18" text-anchor="middle" font-weight="normal">40</text>
<text x="276.60" y="122.39" font-size="7.6" fill="#555" stroke="#555" stroke-width="0.18" text-anchor="end" font-weight="normal">40</text>
<text x="403.90" y="206.30" font-size="7.6" fill="#555" stroke="#555" stroke-width="0.18" text-anchor="middle" font-weight="normal">60</text>
<text x="276.60" y="75.45" font-size="7.6" fill="#555" stroke="#555" stroke-width="0.18" text-anchor="end" font-weight="normal">60</text>
<text x="356.90" y="216.30" font-size="9.7" fill="#222" stroke="#222" stroke-width="0.18" text-anchor="middle" font-weight="normal">Chronological Age/years</text>
<text x="263.70" y="119.60" font-size="9.7" fill="#222" stroke="#222" stroke-width="0.18" text-anchor="middle" font-weight="normal" transform="rotate(-90 263.70 119.60)">Predicted Age/years</text>
<text x="268.20" y="38.00" font-size="14" fill="#000" stroke="#000" stroke-width="0.18" text-anchor="start" font-weight="bold">A</text>
</g>
<g id="T">
<rect x="452.7" y="116" width="136.6" height="19.1" fill="#cfcfcf"/>
<rect x="452.7" y="135.1" width="136.6" height="18.5" fill="#d6d6d6"/>
<line x1="487.7" y1="116" x2="487.7" y2="153.6" stroke="#d9d9d9" stroke-width="0.7"/>
<line x1="519.4" y1="116" x2="519.4" y2="153.6" stroke="#d9d9d9" stroke-width="0.7"/>
<line x1="542.7" y1="116" x2="542.7" y2="153.6" stroke="#d9d9d9" stroke-width="0.7"/>
<line x1="452.7" y1="135.1" x2="589.3" y2="135.1" stroke="#d4d4d4" stroke-width="0.6"/>
<text x="470.20" y="128.10" font-size="7.35" fill="#000" stroke="#000" stroke-width="0.18" text-anchor="middle" font-weight="bold">MAE/y</text>
<text x="470.20" y="146.90" font-size="7.15" fill="#2a2a2a" stroke="#2a2a2a" stroke-width="0.18" text-anchor="middle" font-weight="normal">5.09</text>
<text x="503.60" y="128.10" font-size="7.35" fill="#000" stroke="#000" stroke-width="0.18" text-anchor="middle" font-weight="bold">MAD/y</text>
<text x="503.60" y="146.90" font-size="7.15" fill="#2a2a2a" stroke="#2a2a2a" stroke-width="0.18" text-anchor="middle" font-weight="normal">4.29</text>
<text x="531.0" y="129.3" font-size="6.7" fill="#000" text-anchor="middle" font-weight="bold">R<tspan dy="-2.2" font-size="7.1">2</tspan></text>
<text x="531.00" y="146.90" font-size="7.15" fill="#2a2a2a" stroke="#2a2a2a" stroke-width="0.18" text-anchor="middle" font-weight="normal">0.530</text>
<text x="566.00" y="128.10" font-size="7.2" fill="#000" stroke="#000" stroke-width="0.18" text-anchor="middle" font-weight="bold">Correlation</text>
<text x="566.00" y="146.90" font-size="7.15" fill="#2a2a2a" stroke="#2a2a2a" stroke-width="0.18" text-anchor="middle" font-weight="normal">0.761</text>
</g>
<g id="B">
<line x1="670.40" y1="40.4" x2="670.40" y2="201.1" stroke="#ebebeb" stroke-width="0.9"/>
<line x1="664" y1="193.60" x2="808" y2="193.60" stroke="#ebebeb" stroke-width="0.9"/>
<line x1="692.25" y1="40.4" x2="692.25" y2="201.1" stroke="#ebebeb" stroke-width="0.9"/>
<line x1="664" y1="169.23" x2="808" y2="169.23" stroke="#ebebeb" stroke-width="0.9"/>
<line x1="714.10" y1="40.4" x2="714.10" y2="201.1" stroke="#ebebeb" stroke-width="0.9"/>
<line x1="664" y1="144.86" x2="808" y2="144.86" stroke="#ebebeb" stroke-width="0.9"/>
<line x1="735.95" y1="40.4" x2="735.95" y2="201.1" stroke="#ebebeb" stroke-width="0.9"/>
<line x1="664" y1="120.49" x2="808" y2="120.49" stroke="#ebebeb" stroke-width="0.9"/>
<line x1="757.80" y1="40.4" x2="757.80" y2="201.1" stroke="#ebebeb" stroke-width="0.9"/>
<line x1="664" y1="96.12" x2="808" y2="96.12" stroke="#ebebeb" stroke-width="0.9"/>
<line x1="779.65" y1="40.4" x2="779.65" y2="201.1" stroke="#ebebeb" stroke-width="0.9"/>
<line x1="664" y1="71.75" x2="808" y2="71.75" stroke="#ebebeb" stroke-width="0.9"/>
<line x1="801.50" y1="40.4" x2="801.50" y2="201.1" stroke="#ebebeb" stroke-width="0.9"/>
<line x1="664" y1="47.38" x2="808" y2="47.38" stroke="#ebebeb" stroke-width="0.9"/>
<circle cx="725.2" cy="125.9" r="1.95" fill="#e5b220" fill-opacity="0.58"/>
<circle cx="698.3" cy="136.8" r="1.95" fill="#e5b220" fill-opacity="0.58"/>
<circle cx="740.5" cy="114.1" r="1.95" fill="#e5b220" fill-opacity="0.58"/>
<circle cx="729.4" cy="118.8" r="1.95" fill="#e5b220" fill-opacity="0.58"/>
<circle cx="702.7" cy="134.8" r="1.95" fill="#e5b220" fill-opacity="0.58"/>
<circle cx="702.6" cy="138.4" r="1.95" fill="#e5b220" fill-opacity="0.58"/>
<circle cx="700.4" cy="133.0" r="1.95" fill="#e5b220" fill-opacity="0.58"/>
<circle cx="718.2" cy="127.1" r="1.95" fill="#e5b220" fill-opacity="0.58"/>
<circle cx="727.7" cy="119.3" r="1.95" fill="#e5b220" fill-opacity="0.58"/>
<circle cx="733.1" cy="120.0" r="1.95" fill="#e5b220" fill-opacity="0.58"/>
<circle cx="740.4" cy="106.4" r="1.95" fill="#e5b220" fill-opacity="0.58"/>
<circle cx="726.9" cy="121.7" r="1.95" fill="#e5b220" fill-opacity="0.58"/>
<circle cx="707.6" cy="132.4" r="1.95" fill="#e5b220" fill-opacity="0.58"/>
<circle cx="740.7" cy="114.7" r="1.95" fill="#e5b220" fill-opacity="0.58"/>
<circle cx="703.0" cy="138.8" r="1.95" fill="#e5b220" fill-opacity="0.58"/>
<circle cx="750.9" cy="111.1" r="1.95" fill="#e5b220" fill-opacity="0.58"/>
<circle cx="732.2" cy="119.3" r="1.95" fill="#e5b220" fill-opacity="0.58"/>
<circle cx="724.7" cy="123.4" r="1.95" fill="#e5b220" fill-opacity="0.58"/>
<circle cx="740.5" cy="117.7" r="1.95" fill="#e5b220" fill-opacity="0.58"/>
<circle cx="712.5" cy="127.7" r="1.95" fill="#e5b220" fill-opacity="0.58"/>
<circle cx="736.6" cy="116.6" r="1.95" fill="#e5b220" fill-opacity="0.58"/>
<circle cx="746.9" cy="109.4" r="1.95" fill="#e5b220" fill-opacity="0.58"/>
<circle cx="729.0" cy="115.8" r="1.95" fill="#e5b220" fill-opacity="0.58"/>
<circle cx="713.6" cy="132.7" r="1.95" fill="#e5b220" fill-opacity="0.58"/>
<circle cx="720.1" cy="127.1" r="1.95" fill="#e5b220" fill-opacity="0.58"/>
<circle cx="738.0" cy="107.5" r="1.95" fill="#e5b220" fill-opacity="0.58"/>
<circle cx="748.5" cy="113.2" r="1.95" fill="#e5b220" fill-opacity="0.58"/>
<circle cx="705.3" cy="127.5" r="1.95" fill="#e5b220" fill-opacity="0.58"/>
<circle cx="727.0" cy="124.0" r="1.95" fill="#e5b220" fill-opacity="0.58"/>
<circle cx="708.0" cy="135.1" r="1.95" fill="#e5b220" fill-opacity="0.58"/>
<circle cx="728.9" cy="123.2" r="1.95" fill="#e5b220" fill-opacity="0.58"/>
<circle cx="724.6" cy="122.4" r="1.95" fill="#e5b220" fill-opacity="0.58"/>
<circle cx="725.6" cy="113.3" r="1.95" fill="#e5b220" fill-opacity="0.58"/>
<circle cx="731.3" cy="109.7" r="1.95" fill="#e5b220" fill-opacity="0.58"/>
<circle cx="735.3" cy="116.6" r="1.95" fill="#e5b220" fill-opacity="0.58"/>
<circle cx="725.1" cy="124.8" r="1.95" fill="#e5b220" fill-opacity="0.58"/>
<circle cx="716.9" cy="129.9" r="1.95" fill="#e5b220" fill-opacity="0.58"/>
<circle cx="742.5" cy="114.6" r="1.95" fill="#e5b220" fill-opacity="0.58"/>
<circle cx="739.8" cy="117.1" r="1.95" fill="#e5b220" fill-opacity="0.58"/>
<circle cx="738.5" cy="118.8" r="1.95" fill="#e5b220" fill-opacity="0.58"/>
<circle cx="735.5" cy="115.7" r="1.95" fill="#e5b220" fill-opacity="0.58"/>
<circle cx="713.6" cy="132.9" r="1.95" fill="#e5b220" fill-opacity="0.58"/>
<circle cx="715.6" cy="122.5" r="1.95" fill="#e5b220" fill-opacity="0.58"/>
<circle cx="720.3" cy="117.1" r="1.95" fill="#e5b220" fill-opacity="0.58"/>
<circle cx="740.3" cy="108.4" r="1.95" fill="#e5b220" fill-opacity="0.58"/>
<circle cx="724.7" cy="126.8" r="1.95" fill="#e5b220" fill-opacity="0.58"/>
<circle cx="726.9" cy="125.2" r="1.95" fill="#e5b220" fill-opacity="0.58"/>
<circle cx="727.3" cy="122.4" r="1.95" fill="#e5b220" fill-opacity="0.58"/>
<circle cx="755.1" cy="109.3" r="1.95" fill="#e5b220" fill-opacity="0.58"/>
<circle cx="705.0" cy="128.3" r="1.95" fill="#e5b220" fill-opacity="0.58"/>
<circle cx="727.7" cy="119.4" r="1.95" fill="#e5b220" fill-opacity="0.58"/>
<circle cx="731.8" cy="119.5" r="1.95" fill="#e5b220" fill-opacity="0.58"/>
<circle cx="739.9" cy="116.5" r="1.95" fill="#e5b220" fill-opacity="0.58"/>
<circle cx="718.0" cy="128.4" r="1.95" fill="#e5b220" fill-opacity="0.58"/>
<circle cx="727.8" cy="122.3" r="1.95" fill="#e5b220" fill-opacity="0.58"/>
<circle cx="700.6" cy="131.0" r="1.95" fill="#e5b220" fill-opacity="0.58"/>
<circle cx="723.4" cy="126.0" r="1.95" fill="#e5b220" fill-opacity="0.58"/>
<circle cx="727.0" cy="118.2" r="1.95" fill="#e5b220" fill-opacity="0.58"/>
<circle cx="738.5" cy="119.0" r="1.95" fill="#e5b220" fill-opacity="0.58"/>
<circle cx="725.2" cy="124.4" r="1.95" fill="#e5b220" fill-opacity="0.58"/>
<circle cx="757.6" cy="105.1" r="1.95" fill="#e5b220" fill-opacity="0.58"/>
<circle cx="733.5" cy="111.0" r="1.95" fill="#e5b220" fill-opacity="0.58"/>
<circle cx="747.2" cy="114.1" r="1.95" fill="#e5b220" fill-opacity="0.58"/>
<circle cx="731.7" cy="119.4" r="1.95" fill="#e5b220" fill-opacity="0.58"/>
<circle cx="751.3" cy="105.5" r="1.95" fill="#e5b220" fill-opacity="0.58"/>
<circle cx="729.4" cy="124.0" r="1.95" fill="#e5b220" fill-opacity="0.58"/>
<circle cx="728.8" cy="119.5" r="1.95" fill="#e5b220" fill-opacity="0.58"/>
<circle cx="727.8" cy="117.2" r="1.95" fill="#e5b220" fill-opacity="0.58"/>
<circle cx="735.6" cy="120.4" r="1.95" fill="#e5b220" fill-opacity="0.58"/>
<circle cx="712.1" cy="130.8" r="1.95" fill="#e5b220" fill-opacity="0.58"/>
<circle cx="744.6" cy="111.1" r="1.95" fill="#e5b220" fill-opacity="0.58"/>
<circle cx="713.9" cy="120.1" r="1.95" fill="#e5b220" fill-opacity="0.58"/>
<circle cx="718.9" cy="127.3" r="1.95" fill="#e5b220" fill-opacity="0.58"/>
<circle cx="721.0" cy="128.1" r="1.95" fill="#e5b220" fill-opacity="0.58"/>
<circle cx="698.8" cy="134.9" r="1.95" fill="#e5b220" fill-opacity="0.58"/>
<circle cx="751.1" cy="111.5" r="1.95" fill="#e5b220" fill-opacity="0.58"/>
<circle cx="738.2" cy="118.5" r="1.95" fill="#e5b220" fill-opacity="0.58"/>
<circle cx="745.1" cy="114.8" r="1.95" fill="#e5b220" fill-opacity="0.58"/>
<circle cx="707.4" cy="133.8" r="1.95" fill="#e5b220" fill-opacity="0.58"/>
<circle cx="711.3" cy="133.4" r="1.95" fill="#e5b220" fill-opacity="0.58"/>
<circle cx="742.0" cy="115.6" r="1.95" fill="#e5b220" fill-opacity="0.58"/>
<circle cx="746.9" cy="101.7" r="1.95" fill="#e5b220" fill-opacity="0.58"/>
<circle cx="742.1" cy="116.6" r="1.95" fill="#e5b220" fill-opacity="0.58"/>
<circle cx="747.1" cy="113.2" r="1.95" fill="#e5b220" fill-opacity="0.58"/>
<circle cx="716.1" cy="125.3" r="1.95" fill="#e5b220" fill-opacity="0.58"/>
<circle cx="716.4" cy="130.0" r="1.95" fill="#e5b220" fill-opacity="0.58"/>
<circle cx="726.8" cy="123.4" r="1.95" fill="#e5b220" fill-opacity="0.58"/>
<circle cx="722.5" cy="120.5" r="1.95" fill="#e5b220" fill-opacity="0.58"/>
<circle cx="760.5" cy="104.4" r="1.95" fill="#e5b220" fill-opacity="0.58"/>
<circle cx="722.5" cy="120.8" r="1.95" fill="#e5b220" fill-opacity="0.58"/>
<circle cx="718.3" cy="125.0" r="1.95" fill="#e5b220" fill-opacity="0.58"/>
<circle cx="735.3" cy="113.6" r="1.95" fill="#e5b220" fill-opacity="0.58"/>
<circle cx="716.0" cy="131.6" r="1.95" fill="#e5b220" fill-opacity="0.58"/>
<circle cx="708.0" cy="133.5" r="1.95" fill="#e5b220" fill-opacity="0.58"/>
<circle cx="763.9" cy="103.1" r="1.95" fill="#e5b220" fill-opacity="0.58"/>
<circle cx="762.0" cy="101.8" r="1.95" fill="#e5b220" fill-opacity="0.58"/>
<circle cx="708.0" cy="129.1" r="1.95" fill="#e5b220" fill-opacity="0.58"/>
<circle cx="719.1" cy="128.3" r="1.95" fill="#e5b220" fill-opacity="0.58"/>
<circle cx="700.8" cy="136.8" r="1.95" fill="#e5b220" fill-opacity="0.58"/>
<circle cx="696.2" cy="142.6" r="1.95" fill="#e5b220" fill-opacity="0.58"/>
<circle cx="709.4" cy="127.1" r="1.95" fill="#e5b220" fill-opacity="0.58"/>
<circle cx="727.5" cy="123.8" r="1.95" fill="#e5b220" fill-opacity="0.58"/>
<circle cx="748.5" cy="111.5" r="1.95" fill="#e5b220" fill-opacity="0.58"/>
<circle cx="714.6" cy="130.9" r="1.95" fill="#e5b220" fill-opacity="0.58"/>
<circle cx="731.6" cy="119.0" r="1.95" fill="#e5b220" fill-opacity="0.58"/>
<circle cx="749.3" cy="107.2" r="1.95" fill="#e5b220" fill-opacity="0.58"/>
<circle cx="738.5" cy="116.7" r="1.95" fill="#e5b220" fill-opacity="0.58"/>
<circle cx="743.0" cy="115.5" r="1.95" fill="#e5b220" fill-opacity="0.58"/>
<circle cx="734.0" cy="119.8" r="1.95" fill="#e5b220" fill-opacity="0.58"/>
<circle cx="735.6" cy="120.7" r="1.95" fill="#e5b220" fill-opacity="0.58"/>
<circle cx="703.4" cy="133.4" r="1.95" fill="#e5b220" fill-opacity="0.58"/>
<circle cx="705.9" cy="133.1" r="1.95" fill="#e5b220" fill-opacity="0.58"/>
<circle cx="720.1" cy="123.2" r="1.95" fill="#e5b220" fill-opacity="0.58"/>
<circle cx="712.1" cy="132.4" r="1.95" fill="#e5b220" fill-opacity="0.58"/>
<circle cx="735.8" cy="114.5" r="1.95" fill="#e5b220" fill-opacity="0.58"/>
<circle cx="766.4" cy="96.0" r="1.95" fill="#e5b220" fill-opacity="0.58"/>
<circle cx="726.6" cy="121.8" r="1.95" fill="#e5b220" fill-opacity="0.58"/>
<circle cx="705.2" cy="134.2" r="1.95" fill="#e5b220" fill-opacity="0.58"/>
<circle cx="734.3" cy="114.7" r="1.95" fill="#e5b220" fill-opacity="0.58"/>
<circle cx="735.8" cy="112.7" r="1.95" fill="#e5b220" fill-opacity="0.58"/>
<circle cx="751.7" cy="108.3" r="1.95" fill="#e5b220" fill-opacity="0.58"/>
<circle cx="707.2" cy="136.2" r="1.95" fill="#e5b220" fill-opacity="0.58"/>
<circle cx="714.5" cy="127.4" r="1.95" fill="#e5b220" fill-opacity="0.58"/>
<circle cx="720.6" cy="127.9" r="1.95" fill="#e5b220" fill-opacity="0.58"/>
<circle cx="722.7" cy="123.4" r="1.95" fill="#e5b220" fill-opacity="0.58"/>
<circle cx="751.4" cy="107.0" r="1.95" fill="#e5b220" fill-opacity="0.58"/>
<circle cx="759.5" cy="102.7" r="1.95" fill="#e5b220" fill-opacity="0.58"/>
<circle cx="709.3" cy="133.9" r="1.95" fill="#e5b220" fill-opacity="0.58"/>
<circle cx="705.4" cy="123.5" r="1.95" fill="#e5b220" fill-opacity="0.58"/>
<circle cx="709.6" cy="126.2" r="1.95" fill="#e5b220" fill-opacity="0.58"/>
<circle cx="710.2" cy="133.0" r="1.95" fill="#e5b220" fill-opacity="0.58"/>
<circle cx="751.8" cy="106.4" r="1.95" fill="#e5b220" fill-opacity="0.58"/>
<circle cx="735.3" cy="118.7" r="1.95" fill="#e5b220" fill-opacity="0.58"/>
<circle cx="734.0" cy="117.2" r="1.95" fill="#e5b220" fill-opacity="0.58"/>
<circle cx="718.6" cy="125.1" r="1.95" fill="#e5b220" fill-opacity="0.58"/>
<circle cx="746.3" cy="110.7" r="1.95" fill="#e5b220" fill-opacity="0.58"/>
<circle cx="707.7" cy="131.6" r="1.95" fill="#e5b220" fill-opacity="0.58"/>
<circle cx="731.5" cy="118.8" r="1.95" fill="#e5b220" fill-opacity="0.58"/>
<circle cx="720.2" cy="121.8" r="1.95" fill="#e5b220" fill-opacity="0.58"/>
<circle cx="728.9" cy="116.2" r="1.95" fill="#e5b220" fill-opacity="0.58"/>
<circle cx="716.6" cy="123.2" r="1.95" fill="#e5b220" fill-opacity="0.58"/>
<circle cx="699.5" cy="137.7" r="1.95" fill="#e5b220" fill-opacity="0.58"/>
<circle cx="698.6" cy="141.2" r="1.95" fill="#e5b220" fill-opacity="0.58"/>
<circle cx="766.5" cy="76.6" r="1.95" fill="#e5b220" fill-opacity="0.58"/>
<circle cx="770.9" cy="81.0" r="1.95" fill="#e5b220" fill-opacity="0.58"/>
<circle cx="784.0" cy="74.2" r="1.95" fill="#e5b220" fill-opacity="0.58"/>
<circle cx="786.2" cy="83.9" r="1.95" fill="#e5b220" fill-opacity="0.58"/>
<circle cx="779.6" cy="87.6" r="1.95" fill="#e5b220" fill-opacity="0.58"/>
<circle cx="768.7" cy="91.2" r="1.95" fill="#e5b220" fill-opacity="0.58"/>
<circle cx="762.2" cy="94.9" r="1.95" fill="#e5b220" fill-opacity="0.58"/>
<circle cx="698.9" cy="152.9" r="1.95" fill="#2560b5" fill-opacity="0.58"/>
<circle cx="720.4" cy="137.2" r="1.95" fill="#2560b5" fill-opacity="0.58"/>
<circle cx="727.8" cy="133.1" r="1.95" fill="#2560b5" fill-opacity="0.58"/>
<circle cx="740.6" cy="125.3" r="1.95" fill="#2560b5" fill-opacity="0.58"/>
<circle cx="735.8" cy="128.2" r="1.95" fill="#2560b5" fill-opacity="0.58"/>
<circle cx="697.2" cy="151.3" r="1.95" fill="#2560b5" fill-opacity="0.58"/>
<circle cx="739.7" cy="125.6" r="1.95" fill="#2560b5" fill-opacity="0.58"/>
<circle cx="723.4" cy="135.6" r="1.95" fill="#2560b5" fill-opacity="0.58"/>
<circle cx="747.1" cy="126.8" r="1.95" fill="#2560b5" fill-opacity="0.58"/>
<circle cx="711.4" cy="140.5" r="1.95" fill="#2560b5" fill-opacity="0.58"/>
<circle cx="740.0" cy="124.1" r="1.95" fill="#2560b5" fill-opacity="0.58"/>
<circle cx="735.4" cy="130.6" r="1.95" fill="#2560b5" fill-opacity="0.58"/>
<circle cx="734.2" cy="127.4" r="1.95" fill="#2560b5" fill-opacity="0.58"/>
<circle cx="756.0" cy="116.0" r="1.95" fill="#2560b5" fill-opacity="0.58"/>
<circle cx="710.3" cy="142.2" r="1.95" fill="#2560b5" fill-opacity="0.58"/>
<circle cx="758.1" cy="125.1" r="1.95" fill="#2560b5" fill-opacity="0.58"/>
<circle cx="755.1" cy="118.5" r="1.95" fill="#2560b5" fill-opacity="0.58"/>
<circle cx="725.5" cy="140.6" r="1.95" fill="#2560b5" fill-opacity="0.58"/>
<circle cx="749.2" cy="121.3" r="1.95" fill="#2560b5" fill-opacity="0.58"/>
<circle cx="744.7" cy="131.5" r="1.95" fill="#2560b5" fill-opacity="0.58"/>
<circle cx="707.0" cy="148.0" r="1.95" fill="#2560b5" fill-opacity="0.58"/>
<circle cx="745.2" cy="129.0" r="1.95" fill="#2560b5" fill-opacity="0.58"/>
<circle cx="718.5" cy="137.9" r="1.95" fill="#2560b5" fill-opacity="0.58"/>
<circle cx="716.3" cy="140.7" r="1.95" fill="#2560b5" fill-opacity="0.58"/>
<circle cx="736.5" cy="127.6" r="1.95" fill="#2560b5" fill-opacity="0.58"/>
<circle cx="715.7" cy="142.1" r="1.95" fill="#2560b5" fill-opacity="0.58"/>
<circle cx="711.4" cy="143.0" r="1.95" fill="#2560b5" fill-opacity="0.58"/>
<circle cx="744.4" cy="132.7" r="1.95" fill="#2560b5" fill-opacity="0.58"/>
<circle cx="715.8" cy="137.9" r="1.95" fill="#2560b5" fill-opacity="0.58"/>
<circle cx="724.9" cy="140.9" r="1.95" fill="#2560b5" fill-opacity="0.58"/>
<circle cx="729.2" cy="133.6" r="1.95" fill="#2560b5" fill-opacity="0.58"/>
<circle cx="722.7" cy="138.7" r="1.95" fill="#2560b5" fill-opacity="0.58"/>
<circle cx="746.6" cy="125.0" r="1.95" fill="#2560b5" fill-opacity="0.58"/>
<circle cx="729.7" cy="136.0" r="1.95" fill="#2560b5" fill-opacity="0.58"/>
<circle cx="724.4" cy="137.9" r="1.95" fill="#2560b5" fill-opacity="0.58"/>
<circle cx="749.4" cy="122.6" r="1.95" fill="#2560b5" fill-opacity="0.58"/>
<circle cx="740.4" cy="132.4" r="1.95" fill="#2560b5" fill-opacity="0.58"/>
<circle cx="718.1" cy="141.1" r="1.95" fill="#2560b5" fill-opacity="0.58"/>
<circle cx="726.7" cy="132.7" r="1.95" fill="#2560b5" fill-opacity="0.58"/>
<circle cx="727.5" cy="132.2" r="1.95" fill="#2560b5" fill-opacity="0.58"/>
<circle cx="731.8" cy="134.4" r="1.95" fill="#2560b5" fill-opacity="0.58"/>
<circle cx="716.5" cy="141.8" r="1.95" fill="#2560b5" fill-opacity="0.58"/>
<circle cx="738.8" cy="125.1" r="1.95" fill="#2560b5" fill-opacity="0.58"/>
<circle cx="750.9" cy="122.4" r="1.95" fill="#2560b5" fill-opacity="0.58"/>
<circle cx="734.3" cy="127.4" r="1.95" fill="#2560b5" fill-opacity="0.58"/>
<circle cx="742.3" cy="123.4" r="1.95" fill="#2560b5" fill-opacity="0.58"/>
<circle cx="753.6" cy="122.5" r="1.95" fill="#2560b5" fill-opacity="0.58"/>
<circle cx="751.5" cy="118.9" r="1.95" fill="#2560b5" fill-opacity="0.58"/>
<circle cx="727.5" cy="134.8" r="1.95" fill="#2560b5" fill-opacity="0.58"/>
<circle cx="721.3" cy="136.7" r="1.95" fill="#2560b5" fill-opacity="0.58"/>
<circle cx="716.7" cy="144.5" r="1.95" fill="#2560b5" fill-opacity="0.58"/>
<circle cx="727.8" cy="137.3" r="1.95" fill="#2560b5" fill-opacity="0.58"/>
<circle cx="725.0" cy="135.4" r="1.95" fill="#2560b5" fill-opacity="0.58"/>
<circle cx="737.6" cy="125.8" r="1.95" fill="#2560b5" fill-opacity="0.58"/>
<circle cx="715.8" cy="139.7" r="1.95" fill="#2560b5" fill-opacity="0.58"/>
<circle cx="707.4" cy="145.9" r="1.95" fill="#2560b5" fill-opacity="0.58"/>
<circle cx="734.0" cy="128.9" r="1.95" fill="#2560b5" fill-opacity="0.58"/>
<circle cx="719.1" cy="136.5" r="1.95" fill="#2560b5" fill-opacity="0.58"/>
<circle cx="718.5" cy="136.6" r="1.95" fill="#2560b5" fill-opacity="0.58"/>
<circle cx="760.3" cy="119.4" r="1.95" fill="#2560b5" fill-opacity="0.58"/>
<circle cx="737.5" cy="128.5" r="1.95" fill="#2560b5" fill-opacity="0.58"/>
<circle cx="742.8" cy="122.7" r="1.95" fill="#2560b5" fill-opacity="0.58"/>
<circle cx="729.6" cy="139.0" r="1.95" fill="#2560b5" fill-opacity="0.58"/>
<circle cx="738.2" cy="126.9" r="1.95" fill="#2560b5" fill-opacity="0.58"/>
<circle cx="729.1" cy="131.0" r="1.95" fill="#2560b5" fill-opacity="0.58"/>
<circle cx="764.8" cy="114.1" r="1.95" fill="#2560b5" fill-opacity="0.58"/>
<circle cx="745.2" cy="121.9" r="1.95" fill="#2560b5" fill-opacity="0.58"/>
<circle cx="709.4" cy="141.6" r="1.95" fill="#2560b5" fill-opacity="0.58"/>
<circle cx="724.8" cy="132.7" r="1.95" fill="#2560b5" fill-opacity="0.58"/>
<circle cx="735.4" cy="131.2" r="1.95" fill="#2560b5" fill-opacity="0.58"/>
<circle cx="749.5" cy="122.0" r="1.95" fill="#2560b5" fill-opacity="0.58"/>
<circle cx="731.5" cy="130.1" r="1.95" fill="#2560b5" fill-opacity="0.58"/>
<circle cx="733.4" cy="128.2" r="1.95" fill="#2560b5" fill-opacity="0.58"/>
<circle cx="722.2" cy="143.3" r="1.95" fill="#2560b5" fill-opacity="0.58"/>
<circle cx="712.1" cy="140.2" r="1.95" fill="#2560b5" fill-opacity="0.58"/>
<circle cx="727.2" cy="138.7" r="1.95" fill="#2560b5" fill-opacity="0.58"/>
<circle cx="766.8" cy="124.7" r="1.95" fill="#2560b5" fill-opacity="0.58"/>
<circle cx="740.7" cy="124.5" r="1.95" fill="#2560b5" fill-opacity="0.58"/>
<circle cx="731.1" cy="131.5" r="1.95" fill="#2560b5" fill-opacity="0.58"/>
<circle cx="744.8" cy="125.0" r="1.95" fill="#2560b5" fill-opacity="0.58"/>
<circle cx="764.7" cy="113.8" r="1.95" fill="#2560b5" fill-opacity="0.58"/>
<circle cx="727.5" cy="131.6" r="1.95" fill="#2560b5" fill-opacity="0.58"/>
<circle cx="716.0" cy="141.3" r="1.95" fill="#2560b5" fill-opacity="0.58"/>
<circle cx="731.1" cy="139.0" r="1.95" fill="#2560b5" fill-opacity="0.58"/>
<circle cx="740.5" cy="125.0" r="1.95" fill="#2560b5" fill-opacity="0.58"/>
<circle cx="744.0" cy="123.3" r="1.95" fill="#2560b5" fill-opacity="0.58"/>
<circle cx="738.3" cy="127.9" r="1.95" fill="#2560b5" fill-opacity="0.58"/>
<circle cx="725.4" cy="138.0" r="1.95" fill="#2560b5" fill-opacity="0.58"/>
<circle cx="738.4" cy="127.9" r="1.95" fill="#2560b5" fill-opacity="0.58"/>
<circle cx="768.7" cy="116.2" r="1.95" fill="#2560b5" fill-opacity="0.58"/>
<circle cx="718.4" cy="143.9" r="1.95" fill="#2560b5" fill-opacity="0.58"/>
<circle cx="720.1" cy="140.8" r="1.95" fill="#2560b5" fill-opacity="0.58"/>
<circle cx="749.2" cy="126.4" r="1.95" fill="#2560b5" fill-opacity="0.58"/>
<circle cx="729.2" cy="131.1" r="1.95" fill="#2560b5" fill-opacity="0.58"/>
<circle cx="744.1" cy="126.3" r="1.95" fill="#2560b5" fill-opacity="0.58"/>
<circle cx="733.1" cy="128.2" r="1.95" fill="#2560b5" fill-opacity="0.58"/>
<circle cx="733.1" cy="141.8" r="1.95" fill="#2560b5" fill-opacity="0.58"/>
<circle cx="718.6" cy="142.7" r="1.95" fill="#2560b5" fill-opacity="0.58"/>
<circle cx="746.7" cy="122.5" r="1.95" fill="#2560b5" fill-opacity="0.58"/>
<circle cx="729.2" cy="135.9" r="1.95" fill="#2560b5" fill-opacity="0.58"/>
<circle cx="757.3" cy="114.4" r="1.95" fill="#2560b5" fill-opacity="0.58"/>
<circle cx="726.8" cy="134.6" r="1.95" fill="#2560b5" fill-opacity="0.58"/>
<circle cx="715.8" cy="138.5" r="1.95" fill="#2560b5" fill-opacity="0.58"/>
<circle cx="723.2" cy="142.8" r="1.95" fill="#2560b5" fill-opacity="0.58"/>
<circle cx="744.9" cy="126.8" r="1.95" fill="#2560b5" fill-opacity="0.58"/>
<circle cx="736.1" cy="133.3" r="1.95" fill="#2560b5" fill-opacity="0.58"/>
<circle cx="709.3" cy="149.5" r="1.95" fill="#2560b5" fill-opacity="0.58"/>
<circle cx="731.6" cy="131.9" r="1.95" fill="#2560b5" fill-opacity="0.58"/>
<circle cx="748.5" cy="119.9" r="1.95" fill="#2560b5" fill-opacity="0.58"/>
<circle cx="740.2" cy="128.1" r="1.95" fill="#2560b5" fill-opacity="0.58"/>
<circle cx="738.6" cy="127.6" r="1.95" fill="#2560b5" fill-opacity="0.58"/>
<circle cx="721.2" cy="136.2" r="1.95" fill="#2560b5" fill-opacity="0.58"/>
<circle cx="712.1" cy="144.0" r="1.95" fill="#2560b5" fill-opacity="0.58"/>
<circle cx="711.8" cy="145.8" r="1.95" fill="#2560b5" fill-opacity="0.58"/>
<circle cx="738.1" cy="128.2" r="1.95" fill="#2560b5" fill-opacity="0.58"/>
<circle cx="727.0" cy="134.2" r="1.95" fill="#2560b5" fill-opacity="0.58"/>
<circle cx="734.2" cy="128.1" r="1.95" fill="#2560b5" fill-opacity="0.58"/>
<circle cx="713.8" cy="138.9" r="1.95" fill="#2560b5" fill-opacity="0.58"/>
<circle cx="722.5" cy="144.1" r="1.95" fill="#2560b5" fill-opacity="0.58"/>
<circle cx="687.0" cy="172.1" r="1.95" fill="#2560b5" fill-opacity="0.58"/>
<circle cx="689.9" cy="172.1" r="1.95" fill="#2560b5" fill-opacity="0.58"/>
<circle cx="699.0" cy="158.4" r="1.95" fill="#2560b5" fill-opacity="0.58"/>
<circle cx="698.8" cy="158.3" r="1.95" fill="#2560b5" fill-opacity="0.58"/>
<circle cx="690.3" cy="166.0" r="1.95" fill="#2560b5" fill-opacity="0.58"/>
<circle cx="697.1" cy="165.3" r="1.95" fill="#2560b5" fill-opacity="0.58"/>
<circle cx="694.1" cy="165.6" r="1.95" fill="#2560b5" fill-opacity="0.58"/>
<circle cx="695.1" cy="166.1" r="1.95" fill="#2560b5" fill-opacity="0.58"/>
<circle cx="692.4" cy="168.9" r="1.95" fill="#2560b5" fill-opacity="0.58"/>
<circle cx="692.0" cy="169.7" r="1.95" fill="#2560b5" fill-opacity="0.58"/>
<circle cx="698.4" cy="163.9" r="1.95" fill="#2560b5" fill-opacity="0.58"/>
<circle cx="691.8" cy="151.9" r="1.95" fill="#2560b5" fill-opacity="0.58"/>
<circle cx="699.5" cy="153.9" r="1.95" fill="#2560b5" fill-opacity="0.58"/>
<circle cx="694.2" cy="153.2" r="1.95" fill="#2560b5" fill-opacity="0.58"/>
<circle cx="691.9" cy="153.6" r="1.95" fill="#2560b5" fill-opacity="0.58"/>
<circle cx="696.1" cy="150.3" r="1.95" fill="#2560b5" fill-opacity="0.58"/>
<circle cx="696.1" cy="151.0" r="1.95" fill="#2560b5" fill-opacity="0.58"/>
<circle cx="784.0" cy="119.3" r="1.95" fill="#2560b5" fill-opacity="0.58"/>
<circle cx="788.4" cy="110.0" r="1.95" fill="#2560b5" fill-opacity="0.58"/>
<circle cx="790.6" cy="109.0" r="1.95" fill="#2560b5" fill-opacity="0.58"/>
<circle cx="797.1" cy="104.6" r="1.95" fill="#2560b5" fill-opacity="0.58"/>
<circle cx="774.2" cy="112.0" r="1.95" fill="#2560b5" fill-opacity="0.58"/>
<circle cx="746.9" cy="138.3" r="1.95" fill="#2560b5" fill-opacity="0.58"/>
<circle cx="755.6" cy="132.2" r="1.95" fill="#2560b5" fill-opacity="0.58"/>
<circle cx="711.3" cy="136.9" r="1.95" fill="#b5b5b5" fill-opacity="0.58"/>
<circle cx="748.5" cy="115.6" r="1.95" fill="#b5b5b5" fill-opacity="0.58"/>
<circle cx="736.4" cy="123.9" r="1.95" fill="#b5b5b5" fill-opacity="0.58"/>
<circle cx="735.7" cy="121.2" r="1.95" fill="#b5b5b5" fill-opacity="0.58"/>
<circle cx="722.3" cy="130.8" r="1.95" fill="#b5b5b5" fill-opacity="0.58"/>
<circle cx="714.5" cy="133.0" r="1.95" fill="#b5b5b5" fill-opacity="0.58"/>
<circle cx="756.0" cy="111.6" r="1.95" fill="#b5b5b5" fill-opacity="0.58"/>
<circle cx="712.4" cy="138.9" r="1.95" fill="#b5b5b5" fill-opacity="0.58"/>
<circle cx="748.6" cy="116.2" r="1.95" fill="#b5b5b5" fill-opacity="0.58"/>
<circle cx="757.3" cy="109.0" r="1.95" fill="#b5b5b5" fill-opacity="0.58"/>
<circle cx="757.5" cy="110.8" r="1.95" fill="#b5b5b5" fill-opacity="0.58"/>
<circle cx="739.9" cy="119.3" r="1.95" fill="#b5b5b5" fill-opacity="0.58"/>
<circle cx="730.9" cy="126.9" r="1.95" fill="#b5b5b5" fill-opacity="0.58"/>
<circle cx="723.3" cy="132.3" r="1.95" fill="#b5b5b5" fill-opacity="0.58"/>
<circle cx="736.0" cy="125.1" r="1.95" fill="#b5b5b5" fill-opacity="0.58"/>
<circle cx="725.2" cy="127.7" r="1.95" fill="#b5b5b5" fill-opacity="0.58"/>
<circle cx="742.1" cy="120.4" r="1.95" fill="#b5b5b5" fill-opacity="0.58"/>
<circle cx="756.1" cy="111.4" r="1.95" fill="#b5b5b5" fill-opacity="0.58"/>
<circle cx="744.3" cy="119.4" r="1.95" fill="#b5b5b5" fill-opacity="0.58"/>
<circle cx="744.2" cy="119.7" r="1.95" fill="#b5b5b5" fill-opacity="0.58"/>
<circle cx="749.0" cy="118.3" r="1.95" fill="#b5b5b5" fill-opacity="0.58"/>
<circle cx="729.2" cy="128.1" r="1.95" fill="#b5b5b5" fill-opacity="0.58"/>
<circle cx="718.8" cy="132.3" r="1.95" fill="#b5b5b5" fill-opacity="0.58"/>
<circle cx="735.5" cy="120.9" r="1.95" fill="#b5b5b5" fill-opacity="0.58"/>
<circle cx="725.5" cy="132.0" r="1.95" fill="#b5b5b5" fill-opacity="0.58"/>
<circle cx="761.7" cy="111.4" r="1.95" fill="#b5b5b5" fill-opacity="0.58"/>
<circle cx="713.7" cy="135.1" r="1.95" fill="#b5b5b5" fill-opacity="0.58"/>
<circle cx="729.5" cy="128.1" r="1.95" fill="#b5b5b5" fill-opacity="0.58"/>
<circle cx="744.9" cy="118.7" r="1.95" fill="#b5b5b5" fill-opacity="0.58"/>
<circle cx="759.7" cy="109.1" r="1.95" fill="#b5b5b5" fill-opacity="0.58"/>
<circle cx="746.4" cy="116.2" r="1.95" fill="#b5b5b5" fill-opacity="0.58"/>
<circle cx="717.9" cy="134.8" r="1.95" fill="#b5b5b5" fill-opacity="0.58"/>
<circle cx="733.8" cy="124.4" r="1.95" fill="#b5b5b5" fill-opacity="0.58"/>
<circle cx="713.8" cy="135.2" r="1.95" fill="#b5b5b5" fill-opacity="0.58"/>
<circle cx="731.2" cy="126.7" r="1.95" fill="#b5b5b5" fill-opacity="0.58"/>
<circle cx="737.6" cy="121.5" r="1.95" fill="#b5b5b5" fill-opacity="0.58"/>
<circle cx="746.8" cy="118.2" r="1.95" fill="#b5b5b5" fill-opacity="0.58"/>
<circle cx="744.1" cy="116.0" r="1.95" fill="#b5b5b5" fill-opacity="0.58"/>
<circle cx="705.5" cy="142.0" r="1.95" fill="#b5b5b5" fill-opacity="0.58"/>
<circle cx="727.6" cy="128.0" r="1.95" fill="#b5b5b5" fill-opacity="0.58"/>
<circle cx="707.8" cy="137.9" r="1.95" fill="#b5b5b5" fill-opacity="0.58"/>
<circle cx="711.9" cy="135.4" r="1.95" fill="#b5b5b5" fill-opacity="0.58"/>
<circle cx="726.6" cy="128.4" r="1.95" fill="#b5b5b5" fill-opacity="0.58"/>
<circle cx="709.7" cy="137.4" r="1.95" fill="#b5b5b5" fill-opacity="0.58"/>
<circle cx="749.5" cy="116.4" r="1.95" fill="#b5b5b5" fill-opacity="0.58"/>
<circle cx="715.9" cy="131.9" r="1.95" fill="#b5b5b5" fill-opacity="0.58"/>
<circle cx="738.6" cy="123.5" r="1.95" fill="#b5b5b5" fill-opacity="0.58"/>
<circle cx="724.4" cy="129.0" r="1.95" fill="#b5b5b5" fill-opacity="0.58"/>
<circle cx="753.2" cy="115.0" r="1.95" fill="#b5b5b5" fill-opacity="0.58"/>
<circle cx="728.9" cy="125.0" r="1.95" fill="#b5b5b5" fill-opacity="0.58"/>
<circle cx="718.3" cy="132.6" r="1.95" fill="#b5b5b5" fill-opacity="0.58"/>
<circle cx="727.8" cy="126.1" r="1.95" fill="#b5b5b5" fill-opacity="0.58"/>
<circle cx="713.8" cy="133.5" r="1.95" fill="#b5b5b5" fill-opacity="0.58"/>
<circle cx="742.7" cy="121.1" r="1.95" fill="#b5b5b5" fill-opacity="0.58"/>
<circle cx="711.5" cy="137.8" r="1.95" fill="#b5b5b5" fill-opacity="0.58"/>
<circle cx="720.3" cy="130.2" r="1.95" fill="#b5b5b5" fill-opacity="0.58"/>
<circle cx="714.0" cy="134.5" r="1.95" fill="#b5b5b5" fill-opacity="0.58"/>
<circle cx="711.3" cy="139.6" r="1.95" fill="#b5b5b5" fill-opacity="0.58"/>
<circle cx="740.3" cy="118.3" r="1.95" fill="#b5b5b5" fill-opacity="0.58"/>
<circle cx="739.7" cy="120.6" r="1.95" fill="#b5b5b5" fill-opacity="0.58"/>
<circle cx="724.8" cy="129.8" r="1.95" fill="#b5b5b5" fill-opacity="0.58"/>
<circle cx="723.4" cy="129.7" r="1.95" fill="#b5b5b5" fill-opacity="0.58"/>
<circle cx="742.5" cy="120.9" r="1.95" fill="#b5b5b5" fill-opacity="0.58"/>
<circle cx="735.7" cy="123.4" r="1.95" fill="#b5b5b5" fill-opacity="0.58"/>
<circle cx="734.2" cy="126.4" r="1.95" fill="#b5b5b5" fill-opacity="0.58"/>
<circle cx="729.0" cy="125.0" r="1.95" fill="#b5b5b5" fill-opacity="0.58"/>
<circle cx="733.2" cy="123.2" r="1.95" fill="#b5b5b5" fill-opacity="0.58"/>
<circle cx="744.3" cy="121.6" r="1.95" fill="#b5b5b5" fill-opacity="0.58"/>
<circle cx="729.6" cy="128.5" r="1.95" fill="#b5b5b5" fill-opacity="0.58"/>
<circle cx="740.1" cy="122.4" r="1.95" fill="#b5b5b5" fill-opacity="0.58"/>
<circle cx="733.6" cy="125.7" r="1.95" fill="#b5b5b5" fill-opacity="0.58"/>
<circle cx="728.8" cy="128.7" r="1.95" fill="#b5b5b5" fill-opacity="0.58"/>
<circle cx="760.5" cy="111.5" r="1.95" fill="#b5b5b5" fill-opacity="0.58"/>
<circle cx="733.4" cy="125.2" r="1.95" fill="#b5b5b5" fill-opacity="0.58"/>
<circle cx="718.4" cy="135.9" r="1.95" fill="#b5b5b5" fill-opacity="0.58"/>
<circle cx="701.4" cy="143.5" r="1.95" fill="#b5b5b5" fill-opacity="0.58"/>
<circle cx="744.4" cy="115.9" r="1.95" fill="#b5b5b5" fill-opacity="0.58"/>
<circle cx="738.8" cy="119.8" r="1.95" fill="#b5b5b5" fill-opacity="0.58"/>
<circle cx="722.2" cy="133.6" r="1.95" fill="#b5b5b5" fill-opacity="0.58"/>
<circle cx="768.6" cy="106.9" r="1.95" fill="#b5b5b5" fill-opacity="0.58"/>
<circle cx="751.4" cy="115.3" r="1.95" fill="#b5b5b5" fill-opacity="0.58"/>
<circle cx="732.2" cy="122.8" r="1.95" fill="#b5b5b5" fill-opacity="0.58"/>
<circle cx="723.4" cy="129.9" r="1.95" fill="#b5b5b5" fill-opacity="0.58"/>
<circle cx="711.4" cy="136.3" r="1.95" fill="#b5b5b5" fill-opacity="0.58"/>
<circle cx="729.8" cy="128.6" r="1.95" fill="#b5b5b5" fill-opacity="0.58"/>
<circle cx="716.6" cy="133.1" r="1.95" fill="#b5b5b5" fill-opacity="0.58"/>
<circle cx="718.4" cy="131.3" r="1.95" fill="#b5b5b5" fill-opacity="0.58"/>
<circle cx="725.2" cy="129.2" r="1.95" fill="#b5b5b5" fill-opacity="0.58"/>
<circle cx="712.5" cy="135.7" r="1.95" fill="#b5b5b5" fill-opacity="0.58"/>
<circle cx="738.5" cy="124.5" r="1.95" fill="#b5b5b5" fill-opacity="0.58"/>
<circle cx="745.0" cy="117.0" r="1.95" fill="#b5b5b5" fill-opacity="0.58"/>
<circle cx="729.4" cy="125.7" r="1.95" fill="#b5b5b5" fill-opacity="0.58"/>
<circle cx="733.9" cy="122.7" r="1.95" fill="#b5b5b5" fill-opacity="0.58"/>
<circle cx="726.6" cy="128.8" r="1.95" fill="#b5b5b5" fill-opacity="0.58"/>
<circle cx="739.9" cy="118.3" r="1.95" fill="#b5b5b5" fill-opacity="0.58"/>
<circle cx="726.6" cy="129.9" r="1.95" fill="#b5b5b5" fill-opacity="0.58"/>
<circle cx="741.9" cy="118.4" r="1.95" fill="#b5b5b5" fill-opacity="0.58"/>
<circle cx="701.3" cy="141.2" r="1.95" fill="#b5b5b5" fill-opacity="0.58"/>
<circle cx="709.4" cy="136.2" r="1.95" fill="#b5b5b5" fill-opacity="0.58"/>
<circle cx="755.7" cy="115.1" r="1.95" fill="#b5b5b5" fill-opacity="0.58"/>
<circle cx="727.5" cy="128.3" r="1.95" fill="#b5b5b5" fill-opacity="0.58"/>
<circle cx="743.0" cy="120.5" r="1.95" fill="#b5b5b5" fill-opacity="0.58"/>
<circle cx="714.3" cy="133.6" r="1.95" fill="#b5b5b5" fill-opacity="0.58"/>
<circle cx="715.9" cy="135.7" r="1.95" fill="#b5b5b5" fill-opacity="0.58"/>
<circle cx="734.0" cy="124.4" r="1.95" fill="#b5b5b5" fill-opacity="0.58"/>
<circle cx="762.7" cy="105.6" r="1.95" fill="#b5b5b5" fill-opacity="0.58"/>
<circle cx="737.6" cy="119.9" r="1.95" fill="#b5b5b5" fill-opacity="0.58"/>
<circle cx="717.9" cy="136.1" r="1.95" fill="#b5b5b5" fill-opacity="0.58"/>
<circle cx="742.2" cy="119.8" r="1.95" fill="#b5b5b5" fill-opacity="0.58"/>
<circle cx="716.8" cy="134.4" r="1.95" fill="#b5b5b5" fill-opacity="0.58"/>
<circle cx="731.2" cy="126.7" r="1.95" fill="#b5b5b5" fill-opacity="0.58"/>
<circle cx="718.2" cy="132.8" r="1.95" fill="#b5b5b5" fill-opacity="0.58"/>
<circle cx="743.1" cy="116.8" r="1.95" fill="#b5b5b5" fill-opacity="0.58"/>
<circle cx="738.0" cy="119.9" r="1.95" fill="#b5b5b5" fill-opacity="0.58"/>
<circle cx="703.1" cy="144.6" r="1.95" fill="#b5b5b5" fill-opacity="0.58"/>
<circle cx="750.8" cy="114.2" r="1.95" fill="#b5b5b5" fill-opacity="0.58"/>
<circle cx="701.0" cy="143.5" r="1.95" fill="#b5b5b5" fill-opacity="0.58"/>
<circle cx="714.2" cy="133.5" r="1.95" fill="#b5b5b5" fill-opacity="0.58"/>
<circle cx="757.5" cy="112.6" r="1.95" fill="#b5b5b5" fill-opacity="0.58"/>
<circle cx="760.5" cy="107.6" r="1.95" fill="#b5b5b5" fill-opacity="0.58"/>
<circle cx="731.1" cy="128.5" r="1.95" fill="#b5b5b5" fill-opacity="0.58"/>
<circle cx="718.3" cy="131.2" r="1.95" fill="#b5b5b5" fill-opacity="0.58"/>
<circle cx="700.9" cy="143.0" r="1.95" fill="#b5b5b5" fill-opacity="0.58"/>
<circle cx="715.9" cy="135.1" r="1.95" fill="#b5b5b5" fill-opacity="0.58"/>
<circle cx="722.8" cy="130.1" r="1.95" fill="#b5b5b5" fill-opacity="0.58"/>
<circle cx="707.6" cy="137.4" r="1.95" fill="#b5b5b5" fill-opacity="0.58"/>
<circle cx="764.3" cy="109.1" r="1.95" fill="#b5b5b5" fill-opacity="0.58"/>
<circle cx="736.1" cy="124.3" r="1.95" fill="#b5b5b5" fill-opacity="0.58"/>
<circle cx="753.7" cy="113.5" r="1.95" fill="#b5b5b5" fill-opacity="0.58"/>
<circle cx="734.1" cy="125.7" r="1.95" fill="#b5b5b5" fill-opacity="0.58"/>
<circle cx="698.4" cy="143.8" r="1.95" fill="#b5b5b5" fill-opacity="0.58"/>
<circle cx="703.4" cy="142.4" r="1.95" fill="#b5b5b5" fill-opacity="0.58"/>
<circle cx="716.5" cy="136.2" r="1.95" fill="#b5b5b5" fill-opacity="0.58"/>
<circle cx="707.9" cy="141.2" r="1.95" fill="#b5b5b5" fill-opacity="0.58"/>
<circle cx="712.3" cy="134.9" r="1.95" fill="#b5b5b5" fill-opacity="0.58"/>
<circle cx="725.2" cy="131.8" r="1.95" fill="#b5b5b5" fill-opacity="0.58"/>
<circle cx="738.7" cy="119.6" r="1.95" fill="#b5b5b5" fill-opacity="0.58"/>
<circle cx="726.8" cy="130.6" r="1.95" fill="#b5b5b5" fill-opacity="0.58"/>
<circle cx="749.4" cy="118.0" r="1.95" fill="#b5b5b5" fill-opacity="0.58"/>
<circle cx="738.3" cy="122.9" r="1.95" fill="#b5b5b5" fill-opacity="0.58"/>
<circle cx="699.3" cy="145.3" r="1.95" fill="#b5b5b5" fill-opacity="0.58"/>
<circle cx="698.6" cy="145.4" r="1.95" fill="#b5b5b5" fill-opacity="0.58"/>
<circle cx="692.7" cy="150.6" r="1.95" fill="#b5b5b5" fill-opacity="0.58"/>
<circle cx="692.9" cy="145.7" r="1.95" fill="#b5b5b5" fill-opacity="0.58"/>
<line x1="688.54" y1="151.07" x2="796.91" y2="88.81" stroke="#2f54f5" stroke-width="2.1"/>
<rect x="740.5" y="152.3" width="70" height="49.5" fill="#fff"/>
<circle cx="746.9" cy="159.8" r="1.85" fill="#b5b5b5" fill-opacity="0.9"/>
<text x="759.30" y="162.30" font-size="7.9" fill="#222" stroke="#222" stroke-width="0.18" text-anchor="start" font-weight="normal">Average</text>
<circle cx="746.9" cy="175.2" r="1.85" fill="#e5b220" fill-opacity="0.9"/>
<text x="759.30" y="177.70" font-size="7.9" fill="#222" stroke="#222" stroke-width="0.18" text-anchor="start" font-weight="normal">QuickAging</text>
<circle cx="746.9" cy="190.6" r="1.85" fill="#2560b5" fill-opacity="0.9"/>
<text x="759.30" y="193.10" font-size="7.9" fill="#222" stroke="#222" stroke-width="0.18" text-anchor="start" font-weight="normal">SlowAging</text>
<text x="692.25" y="210.90" font-size="7.9" fill="#555" stroke="#555" stroke-width="0.18" text-anchor="middle" font-weight="normal">20</text>
<text x="659.60" y="172.03" font-size="7.9" fill="#555" stroke="#555" stroke-width="0.18" text-anchor="end" font-weight="normal">20</text>
<text x="735.95" y="210.90" font-size="7.9" fill="#555" stroke="#555" stroke-width="0.18" text-anchor="middle" font-weight="normal">40</text>
<text x="659.60" y="123.29" font-size="7.9" fill="#555" stroke="#555" stroke-width="0.18" text-anchor="end" font-weight="normal">40</text>
<text x="779.65" y="210.90" font-size="7.9" fill="#555" stroke="#555" stroke-width="0.18" text-anchor="middle" font-weight="normal">60</text>
<text x="659.60" y="74.55" font-size="7.9" fill="#555" stroke="#555" stroke-width="0.18" text-anchor="end" font-weight="normal">60</text>
<text x="734.80" y="221.70" font-size="8.03" fill="#111" stroke="#111" stroke-width="0.18" text-anchor="middle" font-weight="normal">Chronological Age/years</text>
<text x="641.40" y="128.60" font-size="8.03" fill="#111" stroke="#111" stroke-width="0.18" text-anchor="middle" font-weight="normal" transform="rotate(-90 641.40 128.60)">Predicted Age/years</text>
<text x="626.60" y="37.70" font-size="14" fill="#000" stroke="#000" stroke-width="0.18" text-anchor="start" font-weight="bold">B</text>
</g>
<g id="C">
<line x1="319.10" y1="330.00" x2="319.10" y2="352.30" stroke="#3f7fd0" stroke-width="1.0"/>
<line x1="319.10" y1="370.50" x2="319.10" y2="391.70" stroke="#3f7fd0" stroke-width="1.0"/>
<rect x="294.70" y="352.30" width="48.80" height="18.20" fill="none" stroke="#3f7fd0" stroke-width="0.75"/>
<line x1="294.70" y1="362.70" x2="343.50" y2="362.70" stroke="#0d5cbf" stroke-width="1.25"/>
<circle cx="321.0" cy="321.2" r="1.42" fill="#0d5cbf"/>
<circle cx="328.0" cy="322.6" r="1.42" fill="#0d5cbf"/>
<circle cx="318.9" cy="324.3" r="1.42" fill="#0d5cbf"/>
<circle cx="318.2" cy="326.5" r="1.42" fill="#0d5cbf"/>
<circle cx="307.3" cy="326.8" r="1.42" fill="#0d5cbf"/>
<circle cx="308.9" cy="329.2" r="1.42" fill="#0d5cbf"/>
<circle cx="320.8" cy="331.0" r="1.42" fill="#0d5cbf"/>
<circle cx="329.9" cy="331.7" r="1.42" fill="#0d5cbf"/>
<circle cx="317.7" cy="332.2" r="1.42" fill="#0d5cbf"/>
<circle cx="309.6" cy="333.8" r="1.42" fill="#0d5cbf"/>
<circle cx="331.9" cy="334.5" r="1.42" fill="#0d5cbf"/>
<circle cx="307.1" cy="334.7" r="1.42" fill="#0d5cbf"/>
<circle cx="318.8" cy="336.2" r="1.42" fill="#0d5cbf"/>
<circle cx="328.6" cy="337.6" r="1.42" fill="#0d5cbf"/>
<circle cx="324.5" cy="338.3" r="1.42" fill="#0d5cbf"/>
<circle cx="312.1" cy="338.0" r="1.42" fill="#0d5cbf"/>
<circle cx="319.3" cy="339.5" r="1.42" fill="#0d5cbf"/>
<circle cx="315.7" cy="340.3" r="1.42" fill="#0d5cbf"/>
<circle cx="310.4" cy="341.1" r="1.42" fill="#0d5cbf"/>
<circle cx="307.3" cy="342.7" r="1.42" fill="#0d5cbf"/>
<circle cx="330.3" cy="342.3" r="1.42" fill="#0d5cbf"/>
<circle cx="325.5" cy="343.4" r="1.42" fill="#0d5cbf"/>
<circle cx="308.3" cy="344.6" r="1.42" fill="#0d5cbf"/>
<circle cx="311.0" cy="344.6" r="1.42" fill="#0d5cbf"/>
<circle cx="317.5" cy="346.4" r="1.42" fill="#0d5cbf"/>
<circle cx="315.6" cy="347.0" r="1.42" fill="#0d5cbf"/>
<circle cx="315.8" cy="347.5" r="1.42" fill="#0d5cbf"/>
<circle cx="330.4" cy="348.8" r="1.42" fill="#0d5cbf"/>
<circle cx="330.4" cy="349.7" r="1.42" fill="#0d5cbf"/>
<circle cx="328.3" cy="350.1" r="1.42" fill="#0d5cbf"/>
<circle cx="315.6" cy="350.8" r="1.42" fill="#0d5cbf"/>
<circle cx="331.8" cy="352.4" r="1.42" fill="#0d5cbf"/>
<circle cx="305.8" cy="352.5" r="1.42" fill="#0d5cbf"/>
<circle cx="314.2" cy="353.1" r="1.42" fill="#0d5cbf"/>
<circle cx="315.4" cy="352.6" r="1.42" fill="#0d5cbf"/>
<circle cx="310.2" cy="353.6" r="1.42" fill="#0d5cbf"/>
<circle cx="317.4" cy="354.1" r="1.42" fill="#0d5cbf"/>
<circle cx="312.0" cy="353.9" r="1.42" fill="#0d5cbf"/>
<circle cx="313.4" cy="354.3" r="1.42" fill="#0d5cbf"/>
<circle cx="308.1" cy="354.6" r="1.42" fill="#0d5cbf"/>
<circle cx="309.3" cy="355.0" r="1.42" fill="#0d5cbf"/>
<circle cx="327.3" cy="355.5" r="1.42" fill="#0d5cbf"/>
<circle cx="328.6" cy="355.9" r="1.42" fill="#0d5cbf"/>
<circle cx="332.5" cy="356.2" r="1.42" fill="#0d5cbf"/>
<circle cx="311.7" cy="356.1" r="1.42" fill="#0d5cbf"/>
<circle cx="316.7" cy="356.5" r="1.42" fill="#0d5cbf"/>
<circle cx="332.8" cy="357.2" r="1.42" fill="#0d5cbf"/>
<circle cx="317.4" cy="357.4" r="1.42" fill="#0d5cbf"/>
<circle cx="317.5" cy="357.7" r="1.42" fill="#0d5cbf"/>
<circle cx="313.0" cy="358.5" r="1.42" fill="#0d5cbf"/>
<circle cx="316.5" cy="357.8" r="1.42" fill="#0d5cbf"/>
<circle cx="329.0" cy="358.2" r="1.42" fill="#0d5cbf"/>
<circle cx="309.7" cy="358.7" r="1.42" fill="#0d5cbf"/>
<circle cx="330.3" cy="359.6" r="1.42" fill="#0d5cbf"/>
<circle cx="309.7" cy="359.9" r="1.42" fill="#0d5cbf"/>
<circle cx="322.8" cy="360.0" r="1.42" fill="#0d5cbf"/>
<circle cx="304.9" cy="360.0" r="1.42" fill="#0d5cbf"/>
<circle cx="329.0" cy="360.7" r="1.42" fill="#0d5cbf"/>
<circle cx="314.7" cy="361.1" r="1.42" fill="#0d5cbf"/>
<circle cx="332.0" cy="361.3" r="1.42" fill="#0d5cbf"/>
<circle cx="326.7" cy="361.3" r="1.42" fill="#0d5cbf"/>
<circle cx="311.8" cy="361.9" r="1.42" fill="#0d5cbf"/>
<circle cx="305.7" cy="362.7" r="1.42" fill="#0d5cbf"/>
<circle cx="329.5" cy="362.7" r="1.42" fill="#0d5cbf"/>
<circle cx="332.7" cy="363.2" r="1.42" fill="#0d5cbf"/>
<circle cx="311.7" cy="362.8" r="1.42" fill="#0d5cbf"/>
<circle cx="327.2" cy="363.8" r="1.42" fill="#0d5cbf"/>
<circle cx="330.6" cy="363.7" r="1.42" fill="#0d5cbf"/>
<circle cx="325.8" cy="363.4" r="1.42" fill="#0d5cbf"/>
<circle cx="327.9" cy="363.6" r="1.42" fill="#0d5cbf"/>
<circle cx="307.2" cy="363.9" r="1.42" fill="#0d5cbf"/>
<circle cx="313.7" cy="364.2" r="1.42" fill="#0d5cbf"/>
<circle cx="305.2" cy="365.2" r="1.42" fill="#0d5cbf"/>
<circle cx="312.2" cy="365.4" r="1.42" fill="#0d5cbf"/>
<circle cx="318.1" cy="365.5" r="1.42" fill="#0d5cbf"/>
<circle cx="314.8" cy="365.4" r="1.42" fill="#0d5cbf"/>
<circle cx="312.6" cy="365.3" r="1.42" fill="#0d5cbf"/>
<circle cx="326.6" cy="366.1" r="1.42" fill="#0d5cbf"/>
<circle cx="330.1" cy="365.8" r="1.42" fill="#0d5cbf"/>
<circle cx="311.3" cy="366.2" r="1.42" fill="#0d5cbf"/>
<circle cx="316.1" cy="366.7" r="1.42" fill="#0d5cbf"/>
<circle cx="323.0" cy="366.6" r="1.42" fill="#0d5cbf"/>
<circle cx="322.0" cy="367.4" r="1.42" fill="#0d5cbf"/>
<circle cx="306.3" cy="367.8" r="1.42" fill="#0d5cbf"/>
<circle cx="328.7" cy="367.6" r="1.42" fill="#0d5cbf"/>
<circle cx="320.9" cy="368.3" r="1.42" fill="#0d5cbf"/>
<circle cx="316.3" cy="368.1" r="1.42" fill="#0d5cbf"/>
<circle cx="309.1" cy="368.3" r="1.42" fill="#0d5cbf"/>
<circle cx="329.6" cy="368.6" r="1.42" fill="#0d5cbf"/>
<circle cx="308.1" cy="368.5" r="1.42" fill="#0d5cbf"/>
<circle cx="310.7" cy="368.9" r="1.42" fill="#0d5cbf"/>
<circle cx="316.9" cy="369.2" r="1.42" fill="#0d5cbf"/>
<circle cx="317.8" cy="370.1" r="1.42" fill="#0d5cbf"/>
<circle cx="332.3" cy="370.3" r="1.42" fill="#0d5cbf"/>
<circle cx="322.5" cy="370.4" r="1.42" fill="#0d5cbf"/>
<circle cx="322.7" cy="370.6" r="1.42" fill="#0d5cbf"/>
<circle cx="308.0" cy="370.5" r="1.42" fill="#0d5cbf"/>
<circle cx="311.8" cy="370.6" r="1.42" fill="#0d5cbf"/>
<circle cx="314.9" cy="371.3" r="1.42" fill="#0d5cbf"/>
<circle cx="331.7" cy="371.9" r="1.42" fill="#0d5cbf"/>
<circle cx="307.7" cy="373.7" r="1.42" fill="#0d5cbf"/>
<circle cx="317.5" cy="374.1" r="1.42" fill="#0d5cbf"/>
<circle cx="330.4" cy="374.6" r="1.42" fill="#0d5cbf"/>
<circle cx="325.5" cy="374.6" r="1.42" fill="#0d5cbf"/>
<circle cx="317.9" cy="375.2" r="1.42" fill="#0d5cbf"/>
<circle cx="316.0" cy="375.7" r="1.42" fill="#0d5cbf"/>
<circle cx="329.6" cy="376.3" r="1.42" fill="#0d5cbf"/>
<circle cx="327.6" cy="376.9" r="1.42" fill="#0d5cbf"/>
<circle cx="310.8" cy="377.1" r="1.42" fill="#0d5cbf"/>
<circle cx="316.4" cy="378.6" r="1.42" fill="#0d5cbf"/>
<circle cx="331.0" cy="378.6" r="1.42" fill="#0d5cbf"/>
<circle cx="313.0" cy="379.0" r="1.42" fill="#0d5cbf"/>
<circle cx="307.5" cy="379.8" r="1.42" fill="#0d5cbf"/>
<circle cx="321.9" cy="380.2" r="1.42" fill="#0d5cbf"/>
<circle cx="319.5" cy="381.1" r="1.42" fill="#0d5cbf"/>
<circle cx="325.9" cy="381.6" r="1.42" fill="#0d5cbf"/>
<circle cx="323.7" cy="382.6" r="1.42" fill="#0d5cbf"/>
<circle cx="323.4" cy="382.8" r="1.42" fill="#0d5cbf"/>
<circle cx="321.9" cy="382.7" r="1.42" fill="#0d5cbf"/>
<circle cx="308.7" cy="384.0" r="1.42" fill="#0d5cbf"/>
<circle cx="331.7" cy="385.0" r="1.42" fill="#0d5cbf"/>
<circle cx="322.5" cy="384.9" r="1.42" fill="#0d5cbf"/>
<circle cx="309.1" cy="386.3" r="1.42" fill="#0d5cbf"/>
<circle cx="309.5" cy="387.3" r="1.42" fill="#0d5cbf"/>
<circle cx="310.3" cy="389.0" r="1.42" fill="#0d5cbf"/>
<circle cx="322.1" cy="390.1" r="1.42" fill="#0d5cbf"/>
<circle cx="323.9" cy="391.0" r="1.42" fill="#0d5cbf"/>
<circle cx="315.5" cy="392.0" r="1.42" fill="#0d5cbf"/>
<circle cx="332.5" cy="294.7" r="1.42" fill="#0d5cbf"/>
<line x1="388.30" y1="331.50" x2="388.30" y2="356.30" stroke="#ecbe2e" stroke-width="1.0"/>
<line x1="388.30" y1="377.50" x2="388.30" y2="397.00" stroke="#ecbe2e" stroke-width="1.0"/>
<rect x="363.90" y="356.30" width="48.80" height="21.20" fill="none" stroke="#ecbe2e" stroke-width="0.75"/>
<line x1="363.90" y1="365.30" x2="412.70" y2="365.30" stroke="#e7b10c" stroke-width="1.25"/>
<circle cx="392.0" cy="318.7" r="1.42" fill="#e7b10c"/>
<circle cx="400.4" cy="320.4" r="1.42" fill="#e7b10c"/>
<circle cx="389.2" cy="324.2" r="1.42" fill="#e7b10c"/>
<circle cx="385.2" cy="328.8" r="1.42" fill="#e7b10c"/>
<circle cx="384.0" cy="330.5" r="1.42" fill="#e7b10c"/>
<circle cx="381.8" cy="333.8" r="1.42" fill="#e7b10c"/>
<circle cx="398.2" cy="334.5" r="1.42" fill="#e7b10c"/>
<circle cx="382.1" cy="335.0" r="1.42" fill="#e7b10c"/>
<circle cx="389.2" cy="336.1" r="1.42" fill="#e7b10c"/>
<circle cx="386.7" cy="336.8" r="1.42" fill="#e7b10c"/>
<circle cx="386.5" cy="338.2" r="1.42" fill="#e7b10c"/>
<circle cx="392.9" cy="338.0" r="1.42" fill="#e7b10c"/>
<circle cx="377.1" cy="338.9" r="1.42" fill="#e7b10c"/>
<circle cx="388.3" cy="339.9" r="1.42" fill="#e7b10c"/>
<circle cx="379.2" cy="341.7" r="1.42" fill="#e7b10c"/>
<circle cx="385.7" cy="341.6" r="1.42" fill="#e7b10c"/>
<circle cx="390.6" cy="343.5" r="1.42" fill="#e7b10c"/>
<circle cx="377.5" cy="344.1" r="1.42" fill="#e7b10c"/>
<circle cx="377.0" cy="344.3" r="1.42" fill="#e7b10c"/>
<circle cx="392.5" cy="345.0" r="1.42" fill="#e7b10c"/>
<circle cx="399.9" cy="346.0" r="1.42" fill="#e7b10c"/>
<circle cx="391.8" cy="347.7" r="1.42" fill="#e7b10c"/>
<circle cx="380.4" cy="348.4" r="1.42" fill="#e7b10c"/>
<circle cx="376.4" cy="349.2" r="1.42" fill="#e7b10c"/>
<circle cx="390.2" cy="349.5" r="1.42" fill="#e7b10c"/>
<circle cx="393.5" cy="351.0" r="1.42" fill="#e7b10c"/>
<circle cx="394.0" cy="350.6" r="1.42" fill="#e7b10c"/>
<circle cx="385.5" cy="352.9" r="1.42" fill="#e7b10c"/>
<circle cx="375.4" cy="352.4" r="1.42" fill="#e7b10c"/>
<circle cx="390.1" cy="354.1" r="1.42" fill="#e7b10c"/>
<circle cx="388.7" cy="355.7" r="1.42" fill="#e7b10c"/>
<circle cx="391.1" cy="355.3" r="1.42" fill="#e7b10c"/>
<circle cx="388.6" cy="356.4" r="1.42" fill="#e7b10c"/>
<circle cx="400.8" cy="356.2" r="1.42" fill="#e7b10c"/>
<circle cx="386.4" cy="357.0" r="1.42" fill="#e7b10c"/>
<circle cx="393.5" cy="357.5" r="1.42" fill="#e7b10c"/>
<circle cx="381.0" cy="357.2" r="1.42" fill="#e7b10c"/>
<circle cx="391.9" cy="357.3" r="1.42" fill="#e7b10c"/>
<circle cx="376.0" cy="358.7" r="1.42" fill="#e7b10c"/>
<circle cx="374.7" cy="358.4" r="1.42" fill="#e7b10c"/>
<circle cx="395.8" cy="358.5" r="1.42" fill="#e7b10c"/>
<circle cx="380.9" cy="358.4" r="1.42" fill="#e7b10c"/>
<circle cx="390.8" cy="358.8" r="1.42" fill="#e7b10c"/>
<circle cx="398.7" cy="358.9" r="1.42" fill="#e7b10c"/>
<circle cx="381.2" cy="359.7" r="1.42" fill="#e7b10c"/>
<circle cx="375.9" cy="360.7" r="1.42" fill="#e7b10c"/>
<circle cx="390.7" cy="360.6" r="1.42" fill="#e7b10c"/>
<circle cx="394.4" cy="360.5" r="1.42" fill="#e7b10c"/>
<circle cx="376.5" cy="361.2" r="1.42" fill="#e7b10c"/>
<circle cx="374.2" cy="361.0" r="1.42" fill="#e7b10c"/>
<circle cx="384.4" cy="361.5" r="1.42" fill="#e7b10c"/>
<circle cx="383.6" cy="362.1" r="1.42" fill="#e7b10c"/>
<circle cx="386.1" cy="362.6" r="1.42" fill="#e7b10c"/>
<circle cx="385.0" cy="362.5" r="1.42" fill="#e7b10c"/>
<circle cx="386.4" cy="362.5" r="1.42" fill="#e7b10c"/>
<circle cx="397.1" cy="362.4" r="1.42" fill="#e7b10c"/>
<circle cx="379.5" cy="362.7" r="1.42" fill="#e7b10c"/>
<circle cx="389.9" cy="363.8" r="1.42" fill="#e7b10c"/>
<circle cx="380.8" cy="364.0" r="1.42" fill="#e7b10c"/>
<circle cx="385.6" cy="363.7" r="1.42" fill="#e7b10c"/>
<circle cx="382.4" cy="364.4" r="1.42" fill="#e7b10c"/>
<circle cx="398.7" cy="364.3" r="1.42" fill="#e7b10c"/>
<circle cx="402.7" cy="365.4" r="1.42" fill="#e7b10c"/>
<circle cx="402.5" cy="365.1" r="1.42" fill="#e7b10c"/>
<circle cx="388.6" cy="365.4" r="1.42" fill="#e7b10c"/>
<circle cx="393.5" cy="366.0" r="1.42" fill="#e7b10c"/>
<circle cx="395.1" cy="366.4" r="1.42" fill="#e7b10c"/>
<circle cx="394.6" cy="366.3" r="1.42" fill="#e7b10c"/>
<circle cx="394.4" cy="366.4" r="1.42" fill="#e7b10c"/>
<circle cx="380.5" cy="367.7" r="1.42" fill="#e7b10c"/>
<circle cx="375.8" cy="368.1" r="1.42" fill="#e7b10c"/>
<circle cx="395.8" cy="368.6" r="1.42" fill="#e7b10c"/>
<circle cx="376.4" cy="368.6" r="1.42" fill="#e7b10c"/>
<circle cx="385.4" cy="369.2" r="1.42" fill="#e7b10c"/>
<circle cx="387.3" cy="369.6" r="1.42" fill="#e7b10c"/>
<circle cx="398.8" cy="369.9" r="1.42" fill="#e7b10c"/>
<circle cx="384.5" cy="369.9" r="1.42" fill="#e7b10c"/>
<circle cx="399.7" cy="370.8" r="1.42" fill="#e7b10c"/>
<circle cx="387.2" cy="370.9" r="1.42" fill="#e7b10c"/>
<circle cx="399.9" cy="371.3" r="1.42" fill="#e7b10c"/>
<circle cx="381.7" cy="371.2" r="1.42" fill="#e7b10c"/>
<circle cx="393.4" cy="371.7" r="1.42" fill="#e7b10c"/>
<circle cx="386.3" cy="372.4" r="1.42" fill="#e7b10c"/>
<circle cx="395.1" cy="372.5" r="1.42" fill="#e7b10c"/>
<circle cx="400.9" cy="373.3" r="1.42" fill="#e7b10c"/>
<circle cx="388.2" cy="373.2" r="1.42" fill="#e7b10c"/>
<circle cx="393.1" cy="374.3" r="1.42" fill="#e7b10c"/>
<circle cx="377.3" cy="374.7" r="1.42" fill="#e7b10c"/>
<circle cx="399.6" cy="374.9" r="1.42" fill="#e7b10c"/>
<circle cx="393.8" cy="375.3" r="1.42" fill="#e7b10c"/>
<circle cx="375.3" cy="375.8" r="1.42" fill="#e7b10c"/>
<circle cx="384.0" cy="376.0" r="1.42" fill="#e7b10c"/>
<circle cx="395.1" cy="376.2" r="1.42" fill="#e7b10c"/>
<circle cx="380.5" cy="376.9" r="1.42" fill="#e7b10c"/>
<circle cx="400.8" cy="376.8" r="1.42" fill="#e7b10c"/>
<circle cx="388.4" cy="377.1" r="1.42" fill="#e7b10c"/>
<circle cx="391.8" cy="378.3" r="1.42" fill="#e7b10c"/>
<circle cx="380.2" cy="378.6" r="1.42" fill="#e7b10c"/>
<circle cx="396.0" cy="379.5" r="1.42" fill="#e7b10c"/>
<circle cx="400.7" cy="379.3" r="1.42" fill="#e7b10c"/>
<circle cx="379.4" cy="380.5" r="1.42" fill="#e7b10c"/>
<circle cx="381.1" cy="380.9" r="1.42" fill="#e7b10c"/>
<circle cx="379.3" cy="381.8" r="1.42" fill="#e7b10c"/>
<circle cx="392.0" cy="381.5" r="1.42" fill="#e7b10c"/>
<circle cx="387.9" cy="382.6" r="1.42" fill="#e7b10c"/>
<circle cx="375.0" cy="383.4" r="1.42" fill="#e7b10c"/>
<circle cx="392.1" cy="383.6" r="1.42" fill="#e7b10c"/>
<circle cx="393.9" cy="384.2" r="1.42" fill="#e7b10c"/>
<circle cx="391.7" cy="384.9" r="1.42" fill="#e7b10c"/>
<circle cx="400.0" cy="385.4" r="1.42" fill="#e7b10c"/>
<circle cx="401.0" cy="386.0" r="1.42" fill="#e7b10c"/>
<circle cx="380.6" cy="387.0" r="1.42" fill="#e7b10c"/>
<circle cx="387.9" cy="387.1" r="1.42" fill="#e7b10c"/>
<circle cx="383.2" cy="388.2" r="1.42" fill="#e7b10c"/>
<circle cx="400.4" cy="388.3" r="1.42" fill="#e7b10c"/>
<circle cx="390.1" cy="389.0" r="1.42" fill="#e7b10c"/>
<circle cx="376.5" cy="389.8" r="1.42" fill="#e7b10c"/>
<circle cx="387.9" cy="391.0" r="1.42" fill="#e7b10c"/>
<circle cx="394.4" cy="391.1" r="1.42" fill="#e7b10c"/>
<circle cx="400.0" cy="391.7" r="1.42" fill="#e7b10c"/>
<circle cx="383.8" cy="392.6" r="1.42" fill="#e7b10c"/>
<circle cx="382.9" cy="392.4" r="1.42" fill="#e7b10c"/>
<circle cx="393.3" cy="393.9" r="1.42" fill="#e7b10c"/>
<circle cx="394.5" cy="394.0" r="1.42" fill="#e7b10c"/>
<circle cx="379.4" cy="394.6" r="1.42" fill="#e7b10c"/>
<circle cx="388.9" cy="396.1" r="1.42" fill="#e7b10c"/>
<circle cx="378.4" cy="396.9" r="1.42" fill="#e7b10c"/>
<circle cx="391.2" cy="397.1" r="1.42" fill="#e7b10c"/>
<line x1="277.50" y1="290.00" x2="277.50" y2="402.70" stroke="#383838" stroke-width="1.05"/>
<line x1="277.00" y1="402.20" x2="429.70" y2="402.20" stroke="#383838" stroke-width="1.05"/>
<line x1="275.90" y1="396.70" x2="277.50" y2="396.70" stroke="#333" stroke-width="0.7"/>
<text x="274.30" y="399.30" font-size="7.3" fill="#222" stroke="#222" stroke-width="0.18" text-anchor="end" font-weight="normal">1</text>
<line x1="275.90" y1="369.30" x2="277.50" y2="369.30" stroke="#333" stroke-width="0.7"/>
<text x="274.30" y="371.90" font-size="7.3" fill="#222" stroke="#222" stroke-width="0.18" text-anchor="end" font-weight="normal">2</text>
<line x1="275.90" y1="341.70" x2="277.50" y2="341.70" stroke="#333" stroke-width="0.7"/>
<text x="274.30" y="344.30" font-size="7.3" fill="#222" stroke="#222" stroke-width="0.18" text-anchor="end" font-weight="normal">3</text>
<line x1="275.90" y1="313.70" x2="277.50" y2="313.70" stroke="#333" stroke-width="0.7"/>
<text x="274.30" y="316.30" font-size="7.3" fill="#222" stroke="#222" stroke-width="0.18" text-anchor="end" font-weight="normal">4</text>
<line x1="319.10" y1="402.20" x2="319.10" y2="404.00" stroke="#333" stroke-width="0.7"/>
<text x="319.10" y="410.90" font-size="7.3" fill="#222" stroke="#222" stroke-width="0.18" text-anchor="middle" font-weight="normal">SlowAging</text>
<line x1="388.30" y1="402.20" x2="388.30" y2="404.00" stroke="#333" stroke-width="0.7"/>
<text x="388.30" y="410.90" font-size="7.3" fill="#222" stroke="#222" stroke-width="0.18" text-anchor="middle" font-weight="normal">QuickAging</text>
<text x="353.70" y="419.00" font-size="7.3" fill="#222" stroke="#222" stroke-width="0.18" text-anchor="middle" font-weight="normal">deltagroup</text>
<text x="267.20" y="345.80" font-size="7.3" fill="#222" stroke="#222" stroke-width="0.18" text-anchor="middle" font-weight="normal" transform="rotate(-90 267.20 345.80)">value</text>
<text x="354.20" y="263.18" font-size="8.82" fill="#111" stroke="#111" stroke-width="0.18" text-anchor="middle" font-weight="normal">Lymphocyte Count</text>
<text x="306.70" y="295.20" font-size="6.66" fill="#111" stroke="#111" stroke-width="0.18" text-anchor="start" font-weight="normal">Wilcoxon, p = 0.0049</text>
<text x="289.70" y="276.00" font-size="7.4" fill="#222" stroke="#222" stroke-width="0.18" text-anchor="start" font-weight="normal">deltagroup</text>
<rect x="329.50" y="270.70" width="8.40" height="6.20" fill="none" stroke="#3f7fd0" stroke-width="0.7"/>
<line x1="333.70" y1="269.40" x2="333.70" y2="278.20" stroke="#3f7fd0" stroke-width="0.7"/>
<line x1="329.50" y1="273.80" x2="337.90" y2="273.80" stroke="#3f7fd0" stroke-width="0.8"/>
<circle cx="333.70" cy="273.80" r="1.45" fill="#0d5cbf"/>
<rect x="374.30" y="270.70" width="8.40" height="6.20" fill="none" stroke="#ecbe2e" stroke-width="0.7"/>
<line x1="378.50" y1="269.40" x2="378.50" y2="278.20" stroke="#ecbe2e" stroke-width="0.7"/>
<line x1="374.30" y1="273.80" x2="382.70" y2="273.80" stroke="#ecbe2e" stroke-width="0.8"/>
<circle cx="378.50" cy="273.80" r="1.45" fill="#e7b10c"/>
<text x="342.00" y="275.70" font-size="5.95" fill="#222" stroke="#222" stroke-width="0.18" text-anchor="start" font-weight="normal">SlowAging</text>
<text x="387.50" y="275.70" font-size="5.95" fill="#222" stroke="#222" stroke-width="0.18" text-anchor="start" font-weight="normal">QuickAging</text>
<text x="265.60" y="258.90" font-size="14" fill="#000" stroke="#000" stroke-width="0.18" text-anchor="start" font-weight="bold">C</text>
</g>
<g id="D">
<line x1="503.70" y1="330.30" x2="503.70" y2="363.30" stroke="#3f7fd0" stroke-width="1.0"/>
<line x1="503.70" y1="387.50" x2="503.70" y2="399.20" stroke="#3f7fd0" stroke-width="1.0"/>
<rect x="479.20" y="363.30" width="49.00" height="24.20" fill="none" stroke="#3f7fd0" stroke-width="0.75"/>
<line x1="479.20" y1="374.70" x2="528.20" y2="374.70" stroke="#0d5cbf" stroke-width="1.25"/>
<circle cx="500.3" cy="326.3" r="1.42" fill="#0d5cbf"/>
<circle cx="513.7" cy="328.3" r="1.42" fill="#0d5cbf"/>
<circle cx="493.0" cy="333.3" r="1.42" fill="#0d5cbf"/>
<circle cx="513.9" cy="334.6" r="1.42" fill="#0d5cbf"/>
<circle cx="492.8" cy="339.9" r="1.42" fill="#0d5cbf"/>
<circle cx="509.3" cy="340.2" r="1.42" fill="#0d5cbf"/>
<circle cx="506.8" cy="342.5" r="1.42" fill="#0d5cbf"/>
<circle cx="494.8" cy="342.3" r="1.42" fill="#0d5cbf"/>
<circle cx="515.5" cy="344.3" r="1.42" fill="#0d5cbf"/>
<circle cx="496.7" cy="345.8" r="1.42" fill="#0d5cbf"/>
<circle cx="506.5" cy="346.0" r="1.42" fill="#0d5cbf"/>
<circle cx="494.8" cy="348.2" r="1.42" fill="#0d5cbf"/>
<circle cx="509.0" cy="348.0" r="1.42" fill="#0d5cbf"/>
<circle cx="491.3" cy="350.2" r="1.42" fill="#0d5cbf"/>
<circle cx="509.4" cy="351.6" r="1.42" fill="#0d5cbf"/>
<circle cx="511.4" cy="351.8" r="1.42" fill="#0d5cbf"/>
<circle cx="502.9" cy="353.2" r="1.42" fill="#0d5cbf"/>
<circle cx="501.9" cy="353.8" r="1.42" fill="#0d5cbf"/>
<circle cx="494.8" cy="354.6" r="1.42" fill="#0d5cbf"/>
<circle cx="492.9" cy="355.2" r="1.42" fill="#0d5cbf"/>
<circle cx="499.3" cy="356.3" r="1.42" fill="#0d5cbf"/>
<circle cx="501.7" cy="356.7" r="1.42" fill="#0d5cbf"/>
<circle cx="494.2" cy="357.3" r="1.42" fill="#0d5cbf"/>
<circle cx="507.2" cy="358.2" r="1.42" fill="#0d5cbf"/>
<circle cx="510.0" cy="358.6" r="1.42" fill="#0d5cbf"/>
<circle cx="505.8" cy="359.1" r="1.42" fill="#0d5cbf"/>
<circle cx="500.0" cy="360.5" r="1.42" fill="#0d5cbf"/>
<circle cx="497.4" cy="360.5" r="1.42" fill="#0d5cbf"/>
<circle cx="495.8" cy="361.7" r="1.42" fill="#0d5cbf"/>
<circle cx="512.7" cy="362.0" r="1.42" fill="#0d5cbf"/>
<circle cx="508.2" cy="362.6" r="1.42" fill="#0d5cbf"/>
<circle cx="502.6" cy="363.2" r="1.42" fill="#0d5cbf"/>
<circle cx="510.0" cy="364.0" r="1.42" fill="#0d5cbf"/>
<circle cx="513.2" cy="364.3" r="1.42" fill="#0d5cbf"/>
<circle cx="493.8" cy="364.9" r="1.42" fill="#0d5cbf"/>
<circle cx="512.9" cy="364.9" r="1.42" fill="#0d5cbf"/>
<circle cx="516.2" cy="365.5" r="1.42" fill="#0d5cbf"/>
<circle cx="508.8" cy="365.5" r="1.42" fill="#0d5cbf"/>
<circle cx="495.3" cy="366.4" r="1.42" fill="#0d5cbf"/>
<circle cx="500.2" cy="365.9" r="1.42" fill="#0d5cbf"/>
<circle cx="491.3" cy="366.6" r="1.42" fill="#0d5cbf"/>
<circle cx="516.2" cy="367.1" r="1.42" fill="#0d5cbf"/>
<circle cx="493.7" cy="367.0" r="1.42" fill="#0d5cbf"/>
<circle cx="517.2" cy="367.5" r="1.42" fill="#0d5cbf"/>
<circle cx="510.0" cy="367.6" r="1.42" fill="#0d5cbf"/>
<circle cx="513.1" cy="368.3" r="1.42" fill="#0d5cbf"/>
<circle cx="490.2" cy="369.2" r="1.42" fill="#0d5cbf"/>
<circle cx="504.1" cy="368.9" r="1.42" fill="#0d5cbf"/>
<circle cx="503.4" cy="369.5" r="1.42" fill="#0d5cbf"/>
<circle cx="499.7" cy="369.9" r="1.42" fill="#0d5cbf"/>
<circle cx="490.7" cy="370.4" r="1.42" fill="#0d5cbf"/>
<circle cx="499.6" cy="370.6" r="1.42" fill="#0d5cbf"/>
<circle cx="517.3" cy="370.6" r="1.42" fill="#0d5cbf"/>
<circle cx="503.4" cy="371.7" r="1.42" fill="#0d5cbf"/>
<circle cx="493.9" cy="371.4" r="1.42" fill="#0d5cbf"/>
<circle cx="508.4" cy="372.7" r="1.42" fill="#0d5cbf"/>
<circle cx="496.7" cy="372.7" r="1.42" fill="#0d5cbf"/>
<circle cx="497.2" cy="373.3" r="1.42" fill="#0d5cbf"/>
<circle cx="517.5" cy="372.7" r="1.42" fill="#0d5cbf"/>
<circle cx="490.6" cy="373.6" r="1.42" fill="#0d5cbf"/>
<circle cx="507.1" cy="373.7" r="1.42" fill="#0d5cbf"/>
<circle cx="513.3" cy="374.5" r="1.42" fill="#0d5cbf"/>
<circle cx="502.3" cy="375.1" r="1.42" fill="#0d5cbf"/>
<circle cx="504.2" cy="375.5" r="1.42" fill="#0d5cbf"/>
<circle cx="498.4" cy="375.5" r="1.42" fill="#0d5cbf"/>
<circle cx="495.6" cy="375.9" r="1.42" fill="#0d5cbf"/>
<circle cx="499.0" cy="376.7" r="1.42" fill="#0d5cbf"/>
<circle cx="498.5" cy="377.2" r="1.42" fill="#0d5cbf"/>
<circle cx="496.1" cy="377.1" r="1.42" fill="#0d5cbf"/>
<circle cx="506.7" cy="377.8" r="1.42" fill="#0d5cbf"/>
<circle cx="493.8" cy="378.3" r="1.42" fill="#0d5cbf"/>
<circle cx="517.4" cy="377.9" r="1.42" fill="#0d5cbf"/>
<circle cx="506.1" cy="378.8" r="1.42" fill="#0d5cbf"/>
<circle cx="515.3" cy="379.3" r="1.42" fill="#0d5cbf"/>
<circle cx="495.3" cy="379.4" r="1.42" fill="#0d5cbf"/>
<circle cx="492.6" cy="380.1" r="1.42" fill="#0d5cbf"/>
<circle cx="496.4" cy="380.8" r="1.42" fill="#0d5cbf"/>
<circle cx="491.8" cy="380.6" r="1.42" fill="#0d5cbf"/>
<circle cx="499.9" cy="381.3" r="1.42" fill="#0d5cbf"/>
<circle cx="514.0" cy="381.6" r="1.42" fill="#0d5cbf"/>
<circle cx="509.3" cy="382.0" r="1.42" fill="#0d5cbf"/>
<circle cx="511.5" cy="382.9" r="1.42" fill="#0d5cbf"/>
<circle cx="512.2" cy="383.3" r="1.42" fill="#0d5cbf"/>
<circle cx="495.6" cy="383.2" r="1.42" fill="#0d5cbf"/>
<circle cx="501.1" cy="384.0" r="1.42" fill="#0d5cbf"/>
<circle cx="515.4" cy="384.4" r="1.42" fill="#0d5cbf"/>
<circle cx="509.7" cy="384.2" r="1.42" fill="#0d5cbf"/>
<circle cx="508.0" cy="384.9" r="1.42" fill="#0d5cbf"/>
<circle cx="495.3" cy="385.1" r="1.42" fill="#0d5cbf"/>
<circle cx="498.4" cy="386.0" r="1.42" fill="#0d5cbf"/>
<circle cx="516.4" cy="386.1" r="1.42" fill="#0d5cbf"/>
<circle cx="515.1" cy="386.9" r="1.42" fill="#0d5cbf"/>
<circle cx="495.0" cy="386.9" r="1.42" fill="#0d5cbf"/>
<circle cx="510.6" cy="387.6" r="1.42" fill="#0d5cbf"/>
<circle cx="490.9" cy="387.6" r="1.42" fill="#0d5cbf"/>
<circle cx="514.2" cy="388.0" r="1.42" fill="#0d5cbf"/>
<circle cx="493.1" cy="388.6" r="1.42" fill="#0d5cbf"/>
<circle cx="493.9" cy="388.5" r="1.42" fill="#0d5cbf"/>
<circle cx="512.1" cy="388.9" r="1.42" fill="#0d5cbf"/>
<circle cx="490.7" cy="390.2" r="1.42" fill="#0d5cbf"/>
<circle cx="491.0" cy="390.4" r="1.42" fill="#0d5cbf"/>
<circle cx="499.0" cy="390.2" r="1.42" fill="#0d5cbf"/>
<circle cx="503.3" cy="390.9" r="1.42" fill="#0d5cbf"/>
<circle cx="495.3" cy="392.0" r="1.42" fill="#0d5cbf"/>
<circle cx="493.0" cy="392.5" r="1.42" fill="#0d5cbf"/>
<circle cx="516.3" cy="392.8" r="1.42" fill="#0d5cbf"/>
<circle cx="513.3" cy="393.3" r="1.42" fill="#0d5cbf"/>
<circle cx="507.6" cy="392.9" r="1.42" fill="#0d5cbf"/>
<circle cx="509.1" cy="393.6" r="1.42" fill="#0d5cbf"/>
<circle cx="491.5" cy="393.9" r="1.42" fill="#0d5cbf"/>
<circle cx="512.3" cy="394.5" r="1.42" fill="#0d5cbf"/>
<circle cx="499.8" cy="394.8" r="1.42" fill="#0d5cbf"/>
<circle cx="495.0" cy="395.9" r="1.42" fill="#0d5cbf"/>
<circle cx="497.0" cy="396.1" r="1.42" fill="#0d5cbf"/>
<circle cx="503.1" cy="396.6" r="1.42" fill="#0d5cbf"/>
<circle cx="507.5" cy="396.6" r="1.42" fill="#0d5cbf"/>
<circle cx="505.2" cy="397.3" r="1.42" fill="#0d5cbf"/>
<circle cx="498.1" cy="397.4" r="1.42" fill="#0d5cbf"/>
<circle cx="493.9" cy="397.7" r="1.42" fill="#0d5cbf"/>
<circle cx="495.2" cy="398.7" r="1.42" fill="#0d5cbf"/>
<circle cx="515.3" cy="398.4" r="1.42" fill="#0d5cbf"/>
<circle cx="494.6" cy="399.1" r="1.42" fill="#0d5cbf"/>
<circle cx="510.4" cy="398.9" r="1.42" fill="#0d5cbf"/>
<circle cx="509.4" cy="399.5" r="1.42" fill="#0d5cbf"/>
<circle cx="512.2" cy="400.3" r="1.42" fill="#0d5cbf"/>
<line x1="573.60" y1="338.00" x2="573.60" y2="359.70" stroke="#ecbe2e" stroke-width="1.0"/>
<line x1="573.60" y1="379.50" x2="573.60" y2="396.70" stroke="#ecbe2e" stroke-width="1.0"/>
<rect x="549.10" y="359.70" width="49.00" height="19.80" fill="none" stroke="#ecbe2e" stroke-width="0.75"/>
<line x1="549.10" y1="370.30" x2="598.10" y2="370.30" stroke="#e7b10c" stroke-width="1.25"/>
<circle cx="570.2" cy="338.9" r="1.42" fill="#e7b10c"/>
<circle cx="581.9" cy="339.9" r="1.42" fill="#e7b10c"/>
<circle cx="582.9" cy="340.9" r="1.42" fill="#e7b10c"/>
<circle cx="580.4" cy="341.5" r="1.42" fill="#e7b10c"/>
<circle cx="562.3" cy="342.7" r="1.42" fill="#e7b10c"/>
<circle cx="577.7" cy="345.0" r="1.42" fill="#e7b10c"/>
<circle cx="570.7" cy="344.9" r="1.42" fill="#e7b10c"/>
<circle cx="577.3" cy="346.8" r="1.42" fill="#e7b10c"/>
<circle cx="562.2" cy="347.5" r="1.42" fill="#e7b10c"/>
<circle cx="570.1" cy="348.7" r="1.42" fill="#e7b10c"/>
<circle cx="568.3" cy="349.2" r="1.42" fill="#e7b10c"/>
<circle cx="585.2" cy="350.1" r="1.42" fill="#e7b10c"/>
<circle cx="584.1" cy="350.5" r="1.42" fill="#e7b10c"/>
<circle cx="564.7" cy="351.5" r="1.42" fill="#e7b10c"/>
<circle cx="561.5" cy="350.9" r="1.42" fill="#e7b10c"/>
<circle cx="569.2" cy="351.9" r="1.42" fill="#e7b10c"/>
<circle cx="566.5" cy="353.0" r="1.42" fill="#e7b10c"/>
<circle cx="582.3" cy="353.0" r="1.42" fill="#e7b10c"/>
<circle cx="580.4" cy="353.2" r="1.42" fill="#e7b10c"/>
<circle cx="564.6" cy="353.9" r="1.42" fill="#e7b10c"/>
<circle cx="581.2" cy="355.0" r="1.42" fill="#e7b10c"/>
<circle cx="564.4" cy="355.3" r="1.42" fill="#e7b10c"/>
<circle cx="569.9" cy="355.5" r="1.42" fill="#e7b10c"/>
<circle cx="571.0" cy="356.2" r="1.42" fill="#e7b10c"/>
<circle cx="577.8" cy="356.7" r="1.42" fill="#e7b10c"/>
<circle cx="583.6" cy="356.9" r="1.42" fill="#e7b10c"/>
<circle cx="576.8" cy="357.4" r="1.42" fill="#e7b10c"/>
<circle cx="576.0" cy="357.5" r="1.42" fill="#e7b10c"/>
<circle cx="579.5" cy="358.9" r="1.42" fill="#e7b10c"/>
<circle cx="562.4" cy="359.3" r="1.42" fill="#e7b10c"/>
<circle cx="585.7" cy="360.0" r="1.42" fill="#e7b10c"/>
<circle cx="566.5" cy="359.6" r="1.42" fill="#e7b10c"/>
<circle cx="574.8" cy="360.5" r="1.42" fill="#e7b10c"/>
<circle cx="582.4" cy="360.9" r="1.42" fill="#e7b10c"/>
<circle cx="585.9" cy="360.8" r="1.42" fill="#e7b10c"/>
<circle cx="566.4" cy="362.0" r="1.42" fill="#e7b10c"/>
<circle cx="560.9" cy="361.8" r="1.42" fill="#e7b10c"/>
<circle cx="565.6" cy="362.5" r="1.42" fill="#e7b10c"/>
<circle cx="585.5" cy="362.6" r="1.42" fill="#e7b10c"/>
<circle cx="561.5" cy="362.6" r="1.42" fill="#e7b10c"/>
<circle cx="569.1" cy="362.9" r="1.42" fill="#e7b10c"/>
<circle cx="580.1" cy="364.0" r="1.42" fill="#e7b10c"/>
<circle cx="574.7" cy="363.7" r="1.42" fill="#e7b10c"/>
<circle cx="580.5" cy="363.8" r="1.42" fill="#e7b10c"/>
<circle cx="584.2" cy="365.0" r="1.42" fill="#e7b10c"/>
<circle cx="573.6" cy="364.7" r="1.42" fill="#e7b10c"/>
<circle cx="579.7" cy="365.6" r="1.42" fill="#e7b10c"/>
<circle cx="578.0" cy="366.1" r="1.42" fill="#e7b10c"/>
<circle cx="561.1" cy="365.9" r="1.42" fill="#e7b10c"/>
<circle cx="575.2" cy="366.3" r="1.42" fill="#e7b10c"/>
<circle cx="578.1" cy="366.7" r="1.42" fill="#e7b10c"/>
<circle cx="572.9" cy="367.1" r="1.42" fill="#e7b10c"/>
<circle cx="569.4" cy="367.4" r="1.42" fill="#e7b10c"/>
<circle cx="582.4" cy="367.6" r="1.42" fill="#e7b10c"/>
<circle cx="569.7" cy="368.5" r="1.42" fill="#e7b10c"/>
<circle cx="567.3" cy="368.7" r="1.42" fill="#e7b10c"/>
<circle cx="562.1" cy="369.1" r="1.42" fill="#e7b10c"/>
<circle cx="585.0" cy="369.4" r="1.42" fill="#e7b10c"/>
<circle cx="582.8" cy="369.3" r="1.42" fill="#e7b10c"/>
<circle cx="576.0" cy="369.8" r="1.42" fill="#e7b10c"/>
<circle cx="561.9" cy="370.7" r="1.42" fill="#e7b10c"/>
<circle cx="565.6" cy="370.4" r="1.42" fill="#e7b10c"/>
<circle cx="578.3" cy="370.5" r="1.42" fill="#e7b10c"/>
<circle cx="564.9" cy="371.1" r="1.42" fill="#e7b10c"/>
<circle cx="577.7" cy="371.8" r="1.42" fill="#e7b10c"/>
<circle cx="569.9" cy="371.6" r="1.42" fill="#e7b10c"/>
<circle cx="571.2" cy="372.0" r="1.42" fill="#e7b10c"/>
<circle cx="570.0" cy="372.2" r="1.42" fill="#e7b10c"/>
<circle cx="568.3" cy="372.6" r="1.42" fill="#e7b10c"/>
<circle cx="568.0" cy="372.7" r="1.42" fill="#e7b10c"/>
<circle cx="577.2" cy="372.8" r="1.42" fill="#e7b10c"/>
<circle cx="574.1" cy="373.2" r="1.42" fill="#e7b10c"/>
<circle cx="573.3" cy="373.3" r="1.42" fill="#e7b10c"/>
<circle cx="574.2" cy="374.2" r="1.42" fill="#e7b10c"/>
<circle cx="575.1" cy="374.2" r="1.42" fill="#e7b10c"/>
<circle cx="576.0" cy="374.3" r="1.42" fill="#e7b10c"/>
<circle cx="584.7" cy="375.0" r="1.42" fill="#e7b10c"/>
<circle cx="571.9" cy="375.0" r="1.42" fill="#e7b10c"/>
<circle cx="562.7" cy="375.6" r="1.42" fill="#e7b10c"/>
<circle cx="568.0" cy="376.2" r="1.42" fill="#e7b10c"/>
<circle cx="579.4" cy="376.7" r="1.42" fill="#e7b10c"/>
<circle cx="580.3" cy="376.0" r="1.42" fill="#e7b10c"/>
<circle cx="576.4" cy="376.9" r="1.42" fill="#e7b10c"/>
<circle cx="582.8" cy="376.8" r="1.42" fill="#e7b10c"/>
<circle cx="586.2" cy="377.4" r="1.42" fill="#e7b10c"/>
<circle cx="562.2" cy="377.9" r="1.42" fill="#e7b10c"/>
<circle cx="562.6" cy="378.3" r="1.42" fill="#e7b10c"/>
<circle cx="571.4" cy="378.2" r="1.42" fill="#e7b10c"/>
<circle cx="581.2" cy="378.9" r="1.42" fill="#e7b10c"/>
<circle cx="584.9" cy="378.8" r="1.42" fill="#e7b10c"/>
<circle cx="586.4" cy="379.2" r="1.42" fill="#e7b10c"/>
<circle cx="571.0" cy="379.0" r="1.42" fill="#e7b10c"/>
<circle cx="561.0" cy="380.1" r="1.42" fill="#e7b10c"/>
<circle cx="574.7" cy="380.2" r="1.42" fill="#e7b10c"/>
<circle cx="569.3" cy="381.2" r="1.42" fill="#e7b10c"/>
<circle cx="563.1" cy="381.6" r="1.42" fill="#e7b10c"/>
<circle cx="561.3" cy="382.5" r="1.42" fill="#e7b10c"/>
<circle cx="566.4" cy="383.2" r="1.42" fill="#e7b10c"/>
<circle cx="566.0" cy="383.7" r="1.42" fill="#e7b10c"/>
<circle cx="574.9" cy="384.2" r="1.42" fill="#e7b10c"/>
<circle cx="564.6" cy="385.0" r="1.42" fill="#e7b10c"/>
<circle cx="576.8" cy="384.5" r="1.42" fill="#e7b10c"/>
<circle cx="585.6" cy="385.2" r="1.42" fill="#e7b10c"/>
<circle cx="574.1" cy="386.0" r="1.42" fill="#e7b10c"/>
<circle cx="577.7" cy="386.3" r="1.42" fill="#e7b10c"/>
<circle cx="583.1" cy="387.0" r="1.42" fill="#e7b10c"/>
<circle cx="567.4" cy="387.7" r="1.42" fill="#e7b10c"/>
<circle cx="574.6" cy="388.2" r="1.42" fill="#e7b10c"/>
<circle cx="566.5" cy="388.4" r="1.42" fill="#e7b10c"/>
<circle cx="577.4" cy="390.0" r="1.42" fill="#e7b10c"/>
<circle cx="584.0" cy="389.8" r="1.42" fill="#e7b10c"/>
<circle cx="578.6" cy="390.4" r="1.42" fill="#e7b10c"/>
<circle cx="561.8" cy="391.4" r="1.42" fill="#e7b10c"/>
<circle cx="581.3" cy="391.9" r="1.42" fill="#e7b10c"/>
<circle cx="572.2" cy="391.7" r="1.42" fill="#e7b10c"/>
<circle cx="584.8" cy="392.3" r="1.42" fill="#e7b10c"/>
<circle cx="579.0" cy="393.5" r="1.42" fill="#e7b10c"/>
<circle cx="566.1" cy="393.8" r="1.42" fill="#e7b10c"/>
<circle cx="565.2" cy="395.0" r="1.42" fill="#e7b10c"/>
<circle cx="573.5" cy="396.6" r="1.42" fill="#e7b10c"/>
<circle cx="579.1" cy="396.6" r="1.42" fill="#e7b10c"/>
<circle cx="578.7" cy="397.0" r="1.42" fill="#e7b10c"/>
<circle cx="563.3" cy="296.3" r="1.42" fill="#e7b10c"/>
<circle cx="571.7" cy="298.0" r="1.42" fill="#e7b10c"/>
<circle cx="584.7" cy="317.0" r="1.42" fill="#e7b10c"/>
<circle cx="562.5" cy="322.5" r="1.42" fill="#e7b10c"/>
<circle cx="587.0" cy="322.5" r="1.42" fill="#e7b10c"/>
<line x1="461.70" y1="290.80" x2="461.70" y2="405.20" stroke="#383838" stroke-width="1.05"/>
<line x1="461.20" y1="404.70" x2="614.50" y2="404.70" stroke="#383838" stroke-width="1.05"/>
<line x1="460.10" y1="379.50" x2="461.70" y2="379.50" stroke="#333" stroke-width="0.7"/>
<text x="458.60" y="382.10" font-size="7.3" fill="#222" stroke="#222" stroke-width="0.18" text-anchor="end" font-weight="normal">3</text>
<line x1="460.10" y1="348.70" x2="461.70" y2="348.70" stroke="#333" stroke-width="0.7"/>
<text x="458.60" y="351.30" font-size="7.3" fill="#222" stroke="#222" stroke-width="0.18" text-anchor="end" font-weight="normal">5</text>
<line x1="460.10" y1="317.80" x2="461.70" y2="317.80" stroke="#333" stroke-width="0.7"/>
<text x="458.60" y="320.40" font-size="7.3" fill="#222" stroke="#222" stroke-width="0.18" text-anchor="end" font-weight="normal">7</text>
<line x1="503.70" y1="404.70" x2="503.70" y2="406.50" stroke="#333" stroke-width="0.7"/>
<text x="503.70" y="413.90" font-size="7.3" fill="#222" stroke="#222" stroke-width="0.18" text-anchor="middle" font-weight="normal">SlowAging</text>
<line x1="573.60" y1="404.70" x2="573.60" y2="406.50" stroke="#333" stroke-width="0.7"/>
<text x="573.60" y="413.90" font-size="7.3" fill="#222" stroke="#222" stroke-width="0.18" text-anchor="middle" font-weight="normal">QuickAging</text>
<text x="538.30" y="422.00" font-size="7.3" fill="#222" stroke="#222" stroke-width="0.18" text-anchor="middle" font-weight="normal">deltagroup</text>
<text x="450.90" y="348.00" font-size="7.3" fill="#222" stroke="#222" stroke-width="0.18" text-anchor="middle" font-weight="normal" transform="rotate(-90 450.90 348.00)">value</text>
<text x="536.70" y="262.95" font-size="8.75" fill="#111" stroke="#111" stroke-width="0.18" text-anchor="middle" font-weight="normal">Granulocyte Count</text>
<text x="491.70" y="296.60" font-size="6.75" fill="#111" stroke="#111" stroke-width="0.18" text-anchor="start" font-weight="normal">Wilcoxon, p = 0.014</text>
<text x="474.00" y="277.20" font-size="7.4" fill="#222" stroke="#222" stroke-width="0.18" text-anchor="start" font-weight="normal">deltagroup</text>
<rect x="513.70" y="271.90" width="8.80" height="6.20" fill="none" stroke="#3f7fd0" stroke-width="0.7"/>
<line x1="518.10" y1="270.60" x2="518.10" y2="279.40" stroke="#3f7fd0" stroke-width="0.7"/>
<line x1="513.70" y1="275.00" x2="522.50" y2="275.00" stroke="#3f7fd0" stroke-width="0.8"/>
<circle cx="518.10" cy="275.00" r="1.45" fill="#0d5cbf"/>
<rect x="559.30" y="271.90" width="8.80" height="6.20" fill="none" stroke="#ecbe2e" stroke-width="0.7"/>
<line x1="563.70" y1="270.60" x2="563.70" y2="279.40" stroke="#ecbe2e" stroke-width="0.7"/>
<line x1="559.30" y1="275.00" x2="568.10" y2="275.00" stroke="#ecbe2e" stroke-width="0.8"/>
<circle cx="563.70" cy="275.00" r="1.45" fill="#e7b10c"/>
<text x="527.00" y="276.90" font-size="5.95" fill="#222" stroke="#222" stroke-width="0.18" text-anchor="start" font-weight="normal">SlowAging</text>
<text x="572.70" y="276.90" font-size="5.95" fill="#222" stroke="#222" stroke-width="0.18" text-anchor="start" font-weight="normal">QuickAging</text>
<text x="446.60" y="258.90" font-size="14" fill="#000" stroke="#000" stroke-width="0.18" text-anchor="start" font-weight="bold">D</text>
</g>
<g id="E">
<line x1="696.80" y1="325.20" x2="696.80" y2="347.60" stroke="#3f7fd0" stroke-width="1.0"/>
<line x1="696.80" y1="375.40" x2="696.80" y2="398.00" stroke="#3f7fd0" stroke-width="1.0"/>
<rect x="672.30" y="347.60" width="49.00" height="27.80" fill="none" stroke="#3f7fd0" stroke-width="0.75"/>
<line x1="672.30" y1="363.00" x2="721.30" y2="363.00" stroke="#0d5cbf" stroke-width="1.25"/>
<circle cx="697.6" cy="325.9" r="1.45" fill="#0d5cbf"/>
<circle cx="701.9" cy="326.1" r="1.45" fill="#0d5cbf"/>
<circle cx="689.6" cy="326.8" r="1.45" fill="#0d5cbf"/>
<circle cx="690.1" cy="326.8" r="1.45" fill="#0d5cbf"/>
<circle cx="695.4" cy="328.8" r="1.45" fill="#0d5cbf"/>
<circle cx="707.1" cy="329.4" r="1.45" fill="#0d5cbf"/>
<circle cx="695.5" cy="329.2" r="1.45" fill="#0d5cbf"/>
<circle cx="704.1" cy="331.1" r="1.45" fill="#0d5cbf"/>
<circle cx="692.1" cy="331.7" r="1.45" fill="#0d5cbf"/>
<circle cx="689.8" cy="331.9" r="1.45" fill="#0d5cbf"/>
<circle cx="690.1" cy="333.3" r="1.45" fill="#0d5cbf"/>
<circle cx="688.2" cy="333.7" r="1.45" fill="#0d5cbf"/>
<circle cx="701.7" cy="334.3" r="1.45" fill="#0d5cbf"/>
<circle cx="688.9" cy="334.4" r="1.45" fill="#0d5cbf"/>
<circle cx="685.2" cy="335.5" r="1.45" fill="#0d5cbf"/>
<circle cx="689.5" cy="336.5" r="1.45" fill="#0d5cbf"/>
<circle cx="686.0" cy="337.3" r="1.45" fill="#0d5cbf"/>
<circle cx="704.0" cy="337.3" r="1.45" fill="#0d5cbf"/>
<circle cx="689.1" cy="339.0" r="1.45" fill="#0d5cbf"/>
<circle cx="698.9" cy="338.7" r="1.45" fill="#0d5cbf"/>
<circle cx="696.0" cy="339.5" r="1.45" fill="#0d5cbf"/>
<circle cx="707.2" cy="340.6" r="1.45" fill="#0d5cbf"/>
<circle cx="698.9" cy="340.7" r="1.45" fill="#0d5cbf"/>
<circle cx="688.9" cy="340.7" r="1.45" fill="#0d5cbf"/>
<circle cx="688.3" cy="341.6" r="1.45" fill="#0d5cbf"/>
<circle cx="692.3" cy="342.5" r="1.45" fill="#0d5cbf"/>
<circle cx="705.5" cy="342.7" r="1.45" fill="#0d5cbf"/>
<circle cx="695.6" cy="344.2" r="1.45" fill="#0d5cbf"/>
<circle cx="687.9" cy="344.2" r="1.45" fill="#0d5cbf"/>
<circle cx="684.6" cy="344.5" r="1.45" fill="#0d5cbf"/>
<circle cx="702.0" cy="345.6" r="1.45" fill="#0d5cbf"/>
<circle cx="685.5" cy="346.5" r="1.45" fill="#0d5cbf"/>
<circle cx="693.0" cy="347.2" r="1.45" fill="#0d5cbf"/>
<circle cx="683.6" cy="347.1" r="1.45" fill="#0d5cbf"/>
<circle cx="691.5" cy="348.3" r="1.45" fill="#0d5cbf"/>
<circle cx="689.8" cy="347.9" r="1.45" fill="#0d5cbf"/>
<circle cx="697.9" cy="348.5" r="1.45" fill="#0d5cbf"/>
<circle cx="698.6" cy="349.0" r="1.45" fill="#0d5cbf"/>
<circle cx="709.0" cy="349.3" r="1.45" fill="#0d5cbf"/>
<circle cx="710.0" cy="350.2" r="1.45" fill="#0d5cbf"/>
<circle cx="697.7" cy="351.1" r="1.45" fill="#0d5cbf"/>
<circle cx="686.1" cy="350.6" r="1.45" fill="#0d5cbf"/>
<circle cx="702.3" cy="351.7" r="1.45" fill="#0d5cbf"/>
<circle cx="685.5" cy="352.2" r="1.45" fill="#0d5cbf"/>
<circle cx="710.4" cy="352.7" r="1.45" fill="#0d5cbf"/>
<circle cx="686.1" cy="353.1" r="1.45" fill="#0d5cbf"/>
<circle cx="701.3" cy="353.1" r="1.45" fill="#0d5cbf"/>
<circle cx="704.4" cy="353.5" r="1.45" fill="#0d5cbf"/>
<circle cx="705.7" cy="354.7" r="1.45" fill="#0d5cbf"/>
<circle cx="685.7" cy="354.4" r="1.45" fill="#0d5cbf"/>
<circle cx="687.8" cy="355.4" r="1.45" fill="#0d5cbf"/>
<circle cx="704.0" cy="355.2" r="1.45" fill="#0d5cbf"/>
<circle cx="691.7" cy="355.9" r="1.45" fill="#0d5cbf"/>
<circle cx="683.8" cy="357.1" r="1.45" fill="#0d5cbf"/>
<circle cx="697.1" cy="356.8" r="1.45" fill="#0d5cbf"/>
<circle cx="704.3" cy="357.7" r="1.45" fill="#0d5cbf"/>
<circle cx="702.0" cy="358.3" r="1.45" fill="#0d5cbf"/>
<circle cx="682.9" cy="358.1" r="1.45" fill="#0d5cbf"/>
<circle cx="697.5" cy="358.6" r="1.45" fill="#0d5cbf"/>
<circle cx="699.7" cy="358.8" r="1.45" fill="#0d5cbf"/>
<circle cx="684.2" cy="360.0" r="1.45" fill="#0d5cbf"/>
<circle cx="701.0" cy="360.1" r="1.45" fill="#0d5cbf"/>
<circle cx="705.3" cy="361.0" r="1.45" fill="#0d5cbf"/>
<circle cx="696.7" cy="361.4" r="1.45" fill="#0d5cbf"/>
<circle cx="691.3" cy="361.7" r="1.45" fill="#0d5cbf"/>
<circle cx="704.9" cy="361.8" r="1.45" fill="#0d5cbf"/>
<circle cx="693.6" cy="362.3" r="1.45" fill="#0d5cbf"/>
<circle cx="697.2" cy="363.5" r="1.45" fill="#0d5cbf"/>
<circle cx="701.1" cy="363.6" r="1.45" fill="#0d5cbf"/>
<circle cx="704.7" cy="363.4" r="1.45" fill="#0d5cbf"/>
<circle cx="706.5" cy="364.5" r="1.45" fill="#0d5cbf"/>
<circle cx="698.5" cy="364.5" r="1.45" fill="#0d5cbf"/>
<circle cx="708.9" cy="365.1" r="1.45" fill="#0d5cbf"/>
<circle cx="701.4" cy="364.9" r="1.45" fill="#0d5cbf"/>
<circle cx="704.5" cy="365.7" r="1.45" fill="#0d5cbf"/>
<circle cx="709.3" cy="365.8" r="1.45" fill="#0d5cbf"/>
<circle cx="704.9" cy="366.4" r="1.45" fill="#0d5cbf"/>
<circle cx="694.8" cy="367.1" r="1.45" fill="#0d5cbf"/>
<circle cx="699.7" cy="366.8" r="1.45" fill="#0d5cbf"/>
<circle cx="696.1" cy="368.0" r="1.45" fill="#0d5cbf"/>
<circle cx="686.9" cy="367.5" r="1.45" fill="#0d5cbf"/>
<circle cx="693.9" cy="367.7" r="1.45" fill="#0d5cbf"/>
<circle cx="692.2" cy="368.0" r="1.45" fill="#0d5cbf"/>
<circle cx="707.6" cy="368.7" r="1.45" fill="#0d5cbf"/>
<circle cx="689.7" cy="369.3" r="1.45" fill="#0d5cbf"/>
<circle cx="693.4" cy="369.6" r="1.45" fill="#0d5cbf"/>
<circle cx="692.2" cy="370.0" r="1.45" fill="#0d5cbf"/>
<circle cx="692.7" cy="369.9" r="1.45" fill="#0d5cbf"/>
<circle cx="709.5" cy="371.2" r="1.45" fill="#0d5cbf"/>
<circle cx="707.1" cy="370.8" r="1.45" fill="#0d5cbf"/>
<circle cx="706.6" cy="371.7" r="1.45" fill="#0d5cbf"/>
<circle cx="683.4" cy="371.9" r="1.45" fill="#0d5cbf"/>
<circle cx="689.9" cy="371.9" r="1.45" fill="#0d5cbf"/>
<circle cx="703.2" cy="372.7" r="1.45" fill="#0d5cbf"/>
<circle cx="703.2" cy="373.5" r="1.45" fill="#0d5cbf"/>
<circle cx="686.9" cy="373.5" r="1.45" fill="#0d5cbf"/>
<circle cx="694.5" cy="373.5" r="1.45" fill="#0d5cbf"/>
<circle cx="690.5" cy="373.9" r="1.45" fill="#0d5cbf"/>
<circle cx="702.4" cy="374.1" r="1.45" fill="#0d5cbf"/>
<circle cx="705.1" cy="375.3" r="1.45" fill="#0d5cbf"/>
<circle cx="696.6" cy="375.1" r="1.45" fill="#0d5cbf"/>
<circle cx="706.8" cy="375.2" r="1.45" fill="#0d5cbf"/>
<circle cx="693.5" cy="376.1" r="1.45" fill="#0d5cbf"/>
<circle cx="687.5" cy="376.7" r="1.45" fill="#0d5cbf"/>
<circle cx="708.7" cy="377.5" r="1.45" fill="#0d5cbf"/>
<circle cx="708.4" cy="377.6" r="1.45" fill="#0d5cbf"/>
<circle cx="707.8" cy="378.3" r="1.45" fill="#0d5cbf"/>
<circle cx="688.2" cy="379.9" r="1.45" fill="#0d5cbf"/>
<circle cx="700.1" cy="380.6" r="1.45" fill="#0d5cbf"/>
<circle cx="684.4" cy="380.8" r="1.45" fill="#0d5cbf"/>
<circle cx="686.0" cy="381.2" r="1.45" fill="#0d5cbf"/>
<circle cx="696.6" cy="382.3" r="1.45" fill="#0d5cbf"/>
<circle cx="707.2" cy="382.7" r="1.45" fill="#0d5cbf"/>
<circle cx="696.7" cy="383.4" r="1.45" fill="#0d5cbf"/>
<circle cx="706.9" cy="383.6" r="1.45" fill="#0d5cbf"/>
<circle cx="685.5" cy="384.6" r="1.45" fill="#0d5cbf"/>
<circle cx="701.4" cy="385.0" r="1.45" fill="#0d5cbf"/>
<circle cx="708.8" cy="386.1" r="1.45" fill="#0d5cbf"/>
<circle cx="701.7" cy="386.4" r="1.45" fill="#0d5cbf"/>
<circle cx="696.2" cy="387.3" r="1.45" fill="#0d5cbf"/>
<circle cx="694.4" cy="388.2" r="1.45" fill="#0d5cbf"/>
<circle cx="692.3" cy="388.3" r="1.45" fill="#0d5cbf"/>
<circle cx="687.1" cy="389.1" r="1.45" fill="#0d5cbf"/>
<circle cx="696.8" cy="389.9" r="1.45" fill="#0d5cbf"/>
<circle cx="706.5" cy="389.8" r="1.45" fill="#0d5cbf"/>
<circle cx="697.7" cy="390.5" r="1.45" fill="#0d5cbf"/>
<circle cx="694.6" cy="392.4" r="1.45" fill="#0d5cbf"/>
<circle cx="702.1" cy="392.3" r="1.45" fill="#0d5cbf"/>
<circle cx="705.4" cy="393.8" r="1.45" fill="#0d5cbf"/>
<circle cx="684.9" cy="394.1" r="1.45" fill="#0d5cbf"/>
<circle cx="692.1" cy="395.5" r="1.45" fill="#0d5cbf"/>
<circle cx="708.4" cy="396.0" r="1.45" fill="#0d5cbf"/>
<circle cx="687.1" cy="397.6" r="1.45" fill="#0d5cbf"/>
<circle cx="704.8" cy="398.2" r="1.45" fill="#0d5cbf"/>
<circle cx="688.8" cy="399.2" r="1.45" fill="#0d5cbf"/>
<line x1="766.20" y1="311.30" x2="766.20" y2="338.30" stroke="#ecbe2e" stroke-width="1.0"/>
<line x1="766.20" y1="364.30" x2="766.20" y2="393.90" stroke="#ecbe2e" stroke-width="1.0"/>
<rect x="741.70" y="338.30" width="49.00" height="26.00" fill="none" stroke="#ecbe2e" stroke-width="0.75"/>
<line x1="741.70" y1="353.30" x2="790.70" y2="353.30" stroke="#e7b10c" stroke-width="1.25"/>
<circle cx="772.0" cy="311.7" r="1.45" fill="#e7b10c"/>
<circle cx="774.4" cy="314.1" r="1.45" fill="#e7b10c"/>
<circle cx="763.8" cy="319.2" r="1.45" fill="#e7b10c"/>
<circle cx="775.0" cy="320.7" r="1.45" fill="#e7b10c"/>
<circle cx="771.9" cy="322.1" r="1.45" fill="#e7b10c"/>
<circle cx="761.1" cy="323.3" r="1.45" fill="#e7b10c"/>
<circle cx="776.6" cy="323.5" r="1.45" fill="#e7b10c"/>
<circle cx="768.0" cy="323.3" r="1.45" fill="#e7b10c"/>
<circle cx="759.2" cy="324.4" r="1.45" fill="#e7b10c"/>
<circle cx="770.6" cy="325.6" r="1.45" fill="#e7b10c"/>
<circle cx="759.3" cy="325.6" r="1.45" fill="#e7b10c"/>
<circle cx="756.8" cy="326.3" r="1.45" fill="#e7b10c"/>
<circle cx="778.0" cy="326.3" r="1.45" fill="#e7b10c"/>
<circle cx="760.8" cy="327.6" r="1.45" fill="#e7b10c"/>
<circle cx="763.3" cy="328.5" r="1.45" fill="#e7b10c"/>
<circle cx="773.1" cy="329.0" r="1.45" fill="#e7b10c"/>
<circle cx="768.9" cy="329.2" r="1.45" fill="#e7b10c"/>
<circle cx="762.6" cy="329.8" r="1.45" fill="#e7b10c"/>
<circle cx="755.4" cy="330.7" r="1.45" fill="#e7b10c"/>
<circle cx="756.5" cy="330.6" r="1.45" fill="#e7b10c"/>
<circle cx="765.1" cy="331.4" r="1.45" fill="#e7b10c"/>
<circle cx="766.3" cy="332.1" r="1.45" fill="#e7b10c"/>
<circle cx="768.7" cy="333.0" r="1.45" fill="#e7b10c"/>
<circle cx="765.4" cy="332.9" r="1.45" fill="#e7b10c"/>
<circle cx="777.6" cy="333.5" r="1.45" fill="#e7b10c"/>
<circle cx="759.1" cy="334.6" r="1.45" fill="#e7b10c"/>
<circle cx="760.5" cy="335.2" r="1.45" fill="#e7b10c"/>
<circle cx="771.8" cy="335.8" r="1.45" fill="#e7b10c"/>
<circle cx="774.4" cy="335.5" r="1.45" fill="#e7b10c"/>
<circle cx="778.3" cy="336.3" r="1.45" fill="#e7b10c"/>
<circle cx="755.9" cy="336.6" r="1.45" fill="#e7b10c"/>
<circle cx="763.8" cy="338.1" r="1.45" fill="#e7b10c"/>
<circle cx="754.3" cy="338.8" r="1.45" fill="#e7b10c"/>
<circle cx="770.4" cy="338.7" r="1.45" fill="#e7b10c"/>
<circle cx="768.2" cy="339.3" r="1.45" fill="#e7b10c"/>
<circle cx="776.5" cy="340.1" r="1.45" fill="#e7b10c"/>
<circle cx="769.3" cy="339.9" r="1.45" fill="#e7b10c"/>
<circle cx="773.2" cy="340.1" r="1.45" fill="#e7b10c"/>
<circle cx="753.1" cy="341.3" r="1.45" fill="#e7b10c"/>
<circle cx="772.8" cy="341.9" r="1.45" fill="#e7b10c"/>
<circle cx="773.2" cy="341.8" r="1.45" fill="#e7b10c"/>
<circle cx="774.0" cy="342.4" r="1.45" fill="#e7b10c"/>
<circle cx="769.3" cy="342.9" r="1.45" fill="#e7b10c"/>
<circle cx="763.9" cy="343.0" r="1.45" fill="#e7b10c"/>
<circle cx="773.0" cy="344.1" r="1.45" fill="#e7b10c"/>
<circle cx="769.7" cy="344.4" r="1.45" fill="#e7b10c"/>
<circle cx="762.2" cy="344.6" r="1.45" fill="#e7b10c"/>
<circle cx="771.5" cy="345.3" r="1.45" fill="#e7b10c"/>
<circle cx="772.1" cy="345.2" r="1.45" fill="#e7b10c"/>
<circle cx="776.1" cy="346.1" r="1.45" fill="#e7b10c"/>
<circle cx="765.8" cy="346.9" r="1.45" fill="#e7b10c"/>
<circle cx="761.2" cy="346.7" r="1.45" fill="#e7b10c"/>
<circle cx="775.9" cy="348.2" r="1.45" fill="#e7b10c"/>
<circle cx="763.1" cy="347.8" r="1.45" fill="#e7b10c"/>
<circle cx="778.4" cy="348.5" r="1.45" fill="#e7b10c"/>
<circle cx="775.0" cy="348.6" r="1.45" fill="#e7b10c"/>
<circle cx="772.5" cy="349.7" r="1.45" fill="#e7b10c"/>
<circle cx="764.4" cy="350.1" r="1.45" fill="#e7b10c"/>
<circle cx="772.6" cy="349.7" r="1.45" fill="#e7b10c"/>
<circle cx="775.0" cy="350.3" r="1.45" fill="#e7b10c"/>
<circle cx="774.0" cy="351.0" r="1.45" fill="#e7b10c"/>
<circle cx="777.8" cy="351.6" r="1.45" fill="#e7b10c"/>
<circle cx="767.9" cy="352.2" r="1.45" fill="#e7b10c"/>
<circle cx="777.5" cy="352.9" r="1.45" fill="#e7b10c"/>
<circle cx="762.1" cy="352.5" r="1.45" fill="#e7b10c"/>
<circle cx="776.8" cy="353.2" r="1.45" fill="#e7b10c"/>
<circle cx="768.2" cy="353.9" r="1.45" fill="#e7b10c"/>
<circle cx="777.8" cy="354.5" r="1.45" fill="#e7b10c"/>
<circle cx="772.3" cy="354.6" r="1.45" fill="#e7b10c"/>
<circle cx="770.4" cy="354.6" r="1.45" fill="#e7b10c"/>
<circle cx="772.3" cy="355.8" r="1.45" fill="#e7b10c"/>
<circle cx="769.2" cy="355.9" r="1.45" fill="#e7b10c"/>
<circle cx="762.9" cy="355.7" r="1.45" fill="#e7b10c"/>
<circle cx="777.1" cy="356.5" r="1.45" fill="#e7b10c"/>
<circle cx="773.0" cy="356.4" r="1.45" fill="#e7b10c"/>
<circle cx="770.3" cy="357.0" r="1.45" fill="#e7b10c"/>
<circle cx="757.8" cy="357.5" r="1.45" fill="#e7b10c"/>
<circle cx="763.5" cy="357.3" r="1.45" fill="#e7b10c"/>
<circle cx="773.8" cy="358.5" r="1.45" fill="#e7b10c"/>
<circle cx="768.4" cy="358.1" r="1.45" fill="#e7b10c"/>
<circle cx="765.3" cy="358.1" r="1.45" fill="#e7b10c"/>
<circle cx="773.4" cy="359.3" r="1.45" fill="#e7b10c"/>
<circle cx="756.3" cy="358.9" r="1.45" fill="#e7b10c"/>
<circle cx="761.3" cy="359.7" r="1.45" fill="#e7b10c"/>
<circle cx="762.9" cy="360.4" r="1.45" fill="#e7b10c"/>
<circle cx="753.3" cy="359.9" r="1.45" fill="#e7b10c"/>
<circle cx="767.9" cy="360.2" r="1.45" fill="#e7b10c"/>
<circle cx="767.2" cy="361.2" r="1.45" fill="#e7b10c"/>
<circle cx="769.3" cy="361.5" r="1.45" fill="#e7b10c"/>
<circle cx="767.8" cy="361.7" r="1.45" fill="#e7b10c"/>
<circle cx="766.4" cy="361.5" r="1.45" fill="#e7b10c"/>
<circle cx="771.9" cy="362.1" r="1.45" fill="#e7b10c"/>
<circle cx="779.3" cy="362.9" r="1.45" fill="#e7b10c"/>
<circle cx="766.7" cy="362.6" r="1.45" fill="#e7b10c"/>
<circle cx="759.2" cy="362.9" r="1.45" fill="#e7b10c"/>
<circle cx="755.2" cy="364.2" r="1.45" fill="#e7b10c"/>
<circle cx="760.7" cy="363.7" r="1.45" fill="#e7b10c"/>
<circle cx="761.8" cy="364.4" r="1.45" fill="#e7b10c"/>
<circle cx="754.0" cy="364.3" r="1.45" fill="#e7b10c"/>
<circle cx="758.6" cy="365.8" r="1.45" fill="#e7b10c"/>
<circle cx="777.5" cy="366.4" r="1.45" fill="#e7b10c"/>
<circle cx="773.0" cy="366.3" r="1.45" fill="#e7b10c"/>
<circle cx="753.6" cy="366.8" r="1.45" fill="#e7b10c"/>
<circle cx="770.7" cy="367.6" r="1.45" fill="#e7b10c"/>
<circle cx="774.1" cy="368.4" r="1.45" fill="#e7b10c"/>
<circle cx="760.8" cy="368.6" r="1.45" fill="#e7b10c"/>
<circle cx="773.7" cy="368.8" r="1.45" fill="#e7b10c"/>
<circle cx="763.1" cy="369.6" r="1.45" fill="#e7b10c"/>
<circle cx="777.8" cy="369.9" r="1.45" fill="#e7b10c"/>
<circle cx="769.4" cy="371.0" r="1.45" fill="#e7b10c"/>
<circle cx="761.7" cy="371.9" r="1.45" fill="#e7b10c"/>
<circle cx="767.2" cy="371.7" r="1.45" fill="#e7b10c"/>
<circle cx="762.5" cy="372.6" r="1.45" fill="#e7b10c"/>
<circle cx="773.1" cy="372.9" r="1.45" fill="#e7b10c"/>
<circle cx="755.5" cy="373.4" r="1.45" fill="#e7b10c"/>
<circle cx="775.1" cy="373.6" r="1.45" fill="#e7b10c"/>
<circle cx="755.2" cy="374.6" r="1.45" fill="#e7b10c"/>
<circle cx="759.0" cy="375.1" r="1.45" fill="#e7b10c"/>
<circle cx="759.8" cy="375.9" r="1.45" fill="#e7b10c"/>
<circle cx="766.7" cy="377.2" r="1.45" fill="#e7b10c"/>
<circle cx="769.9" cy="377.3" r="1.45" fill="#e7b10c"/>
<circle cx="775.7" cy="377.7" r="1.45" fill="#e7b10c"/>
<circle cx="756.8" cy="379.0" r="1.45" fill="#e7b10c"/>
<circle cx="769.0" cy="381.7" r="1.45" fill="#e7b10c"/>
<circle cx="760.9" cy="382.5" r="1.45" fill="#e7b10c"/>
<circle cx="777.4" cy="384.4" r="1.45" fill="#e7b10c"/>
<circle cx="769.6" cy="386.3" r="1.45" fill="#e7b10c"/>
<circle cx="772.0" cy="389.3" r="1.45" fill="#e7b10c"/>
<circle cx="755.8" cy="389.8" r="1.45" fill="#e7b10c"/>
<circle cx="771.7" cy="392.3" r="1.45" fill="#e7b10c"/>
<circle cx="764.8" cy="296.3" r="1.45" fill="#e7b10c"/>
<circle cx="761.1" cy="403.7" r="1.45" fill="#e7b10c"/>
<line x1="655.20" y1="291.10" x2="655.20" y2="409.80" stroke="#383838" stroke-width="1.05"/>
<line x1="654.70" y1="409.30" x2="808.00" y2="409.30" stroke="#383838" stroke-width="1.05"/>
<line x1="653.60" y1="403.50" x2="655.20" y2="403.50" stroke="#333" stroke-width="0.7"/>
<text x="652.00" y="406.10" font-size="7.6" fill="#222" stroke="#222" stroke-width="0.18" text-anchor="end" font-weight="normal">0.1</text>
<line x1="653.60" y1="384.50" x2="655.20" y2="384.50" stroke="#333" stroke-width="0.7"/>
<text x="652.00" y="387.10" font-size="7.6" fill="#222" stroke="#222" stroke-width="0.18" text-anchor="end" font-weight="normal">0.2</text>
<line x1="653.60" y1="365.50" x2="655.20" y2="365.50" stroke="#333" stroke-width="0.7"/>
<text x="652.00" y="368.10" font-size="7.6" fill="#222" stroke="#222" stroke-width="0.18" text-anchor="end" font-weight="normal">0.3</text>
<line x1="653.60" y1="346.50" x2="655.20" y2="346.50" stroke="#333" stroke-width="0.7"/>
<text x="652.00" y="349.10" font-size="7.6" fill="#222" stroke="#222" stroke-width="0.18" text-anchor="end" font-weight="normal">0.4</text>
<line x1="653.60" y1="327.50" x2="655.20" y2="327.50" stroke="#333" stroke-width="0.7"/>
<text x="652.00" y="330.10" font-size="7.6" fill="#222" stroke="#222" stroke-width="0.18" text-anchor="end" font-weight="normal">0.5</text>
<line x1="653.60" y1="308.50" x2="655.20" y2="308.50" stroke="#333" stroke-width="0.7"/>
<text x="652.00" y="311.10" font-size="7.6" fill="#222" stroke="#222" stroke-width="0.18" text-anchor="end" font-weight="normal">0.6</text>
<line x1="696.80" y1="409.30" x2="696.80" y2="411.10" stroke="#333" stroke-width="0.7"/>
<text x="696.80" y="418.30" font-size="7.6" fill="#222" stroke="#222" stroke-width="0.18" text-anchor="middle" font-weight="normal">SlowAging</text>
<line x1="766.20" y1="409.30" x2="766.20" y2="411.10" stroke="#333" stroke-width="0.7"/>
<text x="766.20" y="418.30" font-size="7.6" fill="#222" stroke="#222" stroke-width="0.18" text-anchor="middle" font-weight="normal">QuickAging</text>
<text x="731.10" y="426.80" font-size="7.6" fill="#222" stroke="#222" stroke-width="0.18" text-anchor="middle" font-weight="normal">deltagroup</text>
<text x="637.00" y="350.00" font-size="7.6" fill="#222" stroke="#222" stroke-width="0.18" text-anchor="middle" font-weight="normal" transform="rotate(-90 637.00 350.00)">value</text>
<text x="731.50" y="259.01" font-size="9.2" fill="#111" stroke="#111" stroke-width="0.18" text-anchor="middle" font-weight="normal">Neutrophils</text>
<text x="683.00" y="297.00" font-size="7.03" fill="#111" stroke="#111" stroke-width="0.18" text-anchor="start" font-weight="normal">Wilcoxon, p = 9.8e-06</text>
<text x="664.40" y="276.50" font-size="7.72" fill="#222" stroke="#222" stroke-width="0.18" text-anchor="start" font-weight="normal">deltagroup</text>
<rect x="705.60" y="271.00" width="9.20" height="6.60" fill="none" stroke="#3f7fd0" stroke-width="0.7"/>
<line x1="710.20" y1="269.70" x2="710.20" y2="278.90" stroke="#3f7fd0" stroke-width="0.7"/>
<line x1="705.60" y1="274.30" x2="714.80" y2="274.30" stroke="#3f7fd0" stroke-width="0.8"/>
<circle cx="710.20" cy="274.30" r="1.45" fill="#0d5cbf"/>
<rect x="753.00" y="271.00" width="9.20" height="6.60" fill="none" stroke="#ecbe2e" stroke-width="0.7"/>
<line x1="757.60" y1="269.70" x2="757.60" y2="278.90" stroke="#ecbe2e" stroke-width="0.7"/>
<line x1="753.00" y1="274.30" x2="762.20" y2="274.30" stroke="#ecbe2e" stroke-width="0.8"/>
<circle cx="757.60" cy="274.30" r="1.45" fill="#e7b10c"/>
<text x="719.40" y="276.20" font-size="6.1" fill="#222" stroke="#222" stroke-width="0.18" text-anchor="start" font-weight="normal">SlowAging</text>
<text x="766.90" y="276.20" font-size="6.1" fill="#222" stroke="#222" stroke-width="0.18" text-anchor="start" font-weight="normal">QuickAging</text>
<text x="626.80" y="259.00" font-size="14" fill="#000" stroke="#000" stroke-width="0.18" text-anchor="start" font-weight="bold">E</text>
</g>
<g id="F">
<line x1="322.60" y1="481.70" x2="322.60" y2="532.50" stroke="#3f7fd0" stroke-width="1.0"/>
<line x1="322.60" y1="567.50" x2="322.60" y2="589.30" stroke="#3f7fd0" stroke-width="1.0"/>
<rect x="298.00" y="532.50" width="49.20" height="35.00" fill="none" stroke="#3f7fd0" stroke-width="0.75"/>
<line x1="298.00" y1="554.50" x2="347.20" y2="554.50" stroke="#0d5cbf" stroke-width="1.25"/>
<circle cx="312.4" cy="492.5" r="1.5" fill="#0d5cbf"/>
<circle cx="326.2" cy="494.8" r="1.5" fill="#0d5cbf"/>
<circle cx="332.7" cy="496.6" r="1.5" fill="#0d5cbf"/>
<circle cx="316.7" cy="498.1" r="1.5" fill="#0d5cbf"/>
<circle cx="314.7" cy="499.5" r="1.5" fill="#0d5cbf"/>
<circle cx="331.4" cy="502.4" r="1.5" fill="#0d5cbf"/>
<circle cx="315.4" cy="502.6" r="1.5" fill="#0d5cbf"/>
<circle cx="312.9" cy="504.6" r="1.5" fill="#0d5cbf"/>
<circle cx="318.5" cy="505.5" r="1.5" fill="#0d5cbf"/>
<circle cx="312.0" cy="508.4" r="1.5" fill="#0d5cbf"/>
<circle cx="326.6" cy="509.1" r="1.5" fill="#0d5cbf"/>
<circle cx="311.2" cy="510.6" r="1.5" fill="#0d5cbf"/>
<circle cx="311.5" cy="512.9" r="1.5" fill="#0d5cbf"/>
<circle cx="324.7" cy="513.0" r="1.5" fill="#0d5cbf"/>
<circle cx="316.7" cy="514.1" r="1.5" fill="#0d5cbf"/>
<circle cx="318.9" cy="516.9" r="1.5" fill="#0d5cbf"/>
<circle cx="319.3" cy="516.8" r="1.5" fill="#0d5cbf"/>
<circle cx="314.0" cy="518.4" r="1.5" fill="#0d5cbf"/>
<circle cx="333.1" cy="520.0" r="1.5" fill="#0d5cbf"/>
<circle cx="333.8" cy="520.4" r="1.5" fill="#0d5cbf"/>
<circle cx="332.6" cy="521.3" r="1.5" fill="#0d5cbf"/>
<circle cx="315.8" cy="523.5" r="1.5" fill="#0d5cbf"/>
<circle cx="309.7" cy="524.2" r="1.5" fill="#0d5cbf"/>
<circle cx="319.2" cy="524.5" r="1.5" fill="#0d5cbf"/>
<circle cx="322.3" cy="526.0" r="1.5" fill="#0d5cbf"/>
<circle cx="322.4" cy="527.0" r="1.5" fill="#0d5cbf"/>
<circle cx="333.8" cy="528.4" r="1.5" fill="#0d5cbf"/>
<circle cx="310.9" cy="530.0" r="1.5" fill="#0d5cbf"/>
<circle cx="321.1" cy="530.2" r="1.5" fill="#0d5cbf"/>
<circle cx="310.8" cy="531.5" r="1.5" fill="#0d5cbf"/>
<circle cx="315.0" cy="532.9" r="1.5" fill="#0d5cbf"/>
<circle cx="334.1" cy="534.2" r="1.5" fill="#0d5cbf"/>
<circle cx="320.8" cy="533.8" r="1.5" fill="#0d5cbf"/>
<circle cx="322.9" cy="534.8" r="1.5" fill="#0d5cbf"/>
<circle cx="322.0" cy="535.3" r="1.5" fill="#0d5cbf"/>
<circle cx="330.3" cy="537.0" r="1.5" fill="#0d5cbf"/>
<circle cx="326.2" cy="537.3" r="1.5" fill="#0d5cbf"/>
<circle cx="330.5" cy="537.5" r="1.5" fill="#0d5cbf"/>
<circle cx="321.9" cy="538.6" r="1.5" fill="#0d5cbf"/>
<circle cx="326.1" cy="539.3" r="1.5" fill="#0d5cbf"/>
<circle cx="326.5" cy="540.8" r="1.5" fill="#0d5cbf"/>
<circle cx="326.7" cy="540.6" r="1.5" fill="#0d5cbf"/>
<circle cx="312.7" cy="542.0" r="1.5" fill="#0d5cbf"/>
<circle cx="333.3" cy="542.2" r="1.5" fill="#0d5cbf"/>
<circle cx="332.5" cy="542.5" r="1.5" fill="#0d5cbf"/>
<circle cx="328.1" cy="544.1" r="1.5" fill="#0d5cbf"/>
<circle cx="328.8" cy="544.2" r="1.5" fill="#0d5cbf"/>
<circle cx="316.6" cy="545.6" r="1.5" fill="#0d5cbf"/>
<circle cx="317.2" cy="546.8" r="1.5" fill="#0d5cbf"/>
<circle cx="310.5" cy="546.4" r="1.5" fill="#0d5cbf"/>
<circle cx="318.7" cy="546.9" r="1.5" fill="#0d5cbf"/>
<circle cx="319.1" cy="547.8" r="1.5" fill="#0d5cbf"/>
<circle cx="327.4" cy="549.5" r="1.5" fill="#0d5cbf"/>
<circle cx="314.0" cy="549.9" r="1.5" fill="#0d5cbf"/>
<circle cx="330.5" cy="550.3" r="1.5" fill="#0d5cbf"/>
<circle cx="329.8" cy="551.5" r="1.5" fill="#0d5cbf"/>
<circle cx="320.2" cy="551.3" r="1.5" fill="#0d5cbf"/>
<circle cx="330.2" cy="552.9" r="1.5" fill="#0d5cbf"/>
<circle cx="312.9" cy="553.5" r="1.5" fill="#0d5cbf"/>
<circle cx="321.9" cy="554.5" r="1.5" fill="#0d5cbf"/>
<circle cx="315.9" cy="554.6" r="1.5" fill="#0d5cbf"/>
<circle cx="320.2" cy="555.0" r="1.5" fill="#0d5cbf"/>
<circle cx="312.4" cy="556.3" r="1.5" fill="#0d5cbf"/>
<circle cx="313.3" cy="556.2" r="1.5" fill="#0d5cbf"/>
<circle cx="331.5" cy="556.0" r="1.5" fill="#0d5cbf"/>
<circle cx="324.6" cy="556.8" r="1.5" fill="#0d5cbf"/>
<circle cx="329.4" cy="556.8" r="1.5" fill="#0d5cbf"/>
<circle cx="311.3" cy="558.2" r="1.5" fill="#0d5cbf"/>
<circle cx="335.6" cy="558.5" r="1.5" fill="#0d5cbf"/>
<circle cx="329.7" cy="558.4" r="1.5" fill="#0d5cbf"/>
<circle cx="310.7" cy="558.5" r="1.5" fill="#0d5cbf"/>
<circle cx="327.1" cy="559.2" r="1.5" fill="#0d5cbf"/>
<circle cx="321.1" cy="560.1" r="1.5" fill="#0d5cbf"/>
<circle cx="327.6" cy="560.4" r="1.5" fill="#0d5cbf"/>
<circle cx="324.2" cy="560.7" r="1.5" fill="#0d5cbf"/>
<circle cx="315.8" cy="561.3" r="1.5" fill="#0d5cbf"/>
<circle cx="335.2" cy="562.0" r="1.5" fill="#0d5cbf"/>
<circle cx="335.2" cy="562.1" r="1.5" fill="#0d5cbf"/>
<circle cx="328.1" cy="562.7" r="1.5" fill="#0d5cbf"/>
<circle cx="314.7" cy="562.9" r="1.5" fill="#0d5cbf"/>
<circle cx="321.1" cy="563.7" r="1.5" fill="#0d5cbf"/>
<circle cx="335.1" cy="564.0" r="1.5" fill="#0d5cbf"/>
<circle cx="317.8" cy="564.4" r="1.5" fill="#0d5cbf"/>
<circle cx="311.4" cy="565.4" r="1.5" fill="#0d5cbf"/>
<circle cx="319.9" cy="565.4" r="1.5" fill="#0d5cbf"/>
<circle cx="319.1" cy="565.6" r="1.5" fill="#0d5cbf"/>
<circle cx="322.4" cy="566.0" r="1.5" fill="#0d5cbf"/>
<circle cx="326.4" cy="566.9" r="1.5" fill="#0d5cbf"/>
<circle cx="322.9" cy="566.6" r="1.5" fill="#0d5cbf"/>
<circle cx="326.5" cy="567.6" r="1.5" fill="#0d5cbf"/>
<circle cx="318.1" cy="567.8" r="1.5" fill="#0d5cbf"/>
<circle cx="329.5" cy="568.5" r="1.5" fill="#0d5cbf"/>
<circle cx="327.7" cy="569.6" r="1.5" fill="#0d5cbf"/>
<circle cx="319.8" cy="570.6" r="1.5" fill="#0d5cbf"/>
<circle cx="317.1" cy="570.8" r="1.5" fill="#0d5cbf"/>
<circle cx="316.0" cy="571.5" r="1.5" fill="#0d5cbf"/>
<circle cx="319.2" cy="572.9" r="1.5" fill="#0d5cbf"/>
<circle cx="313.8" cy="573.7" r="1.5" fill="#0d5cbf"/>
<circle cx="326.9" cy="573.7" r="1.5" fill="#0d5cbf"/>
<circle cx="332.9" cy="574.6" r="1.5" fill="#0d5cbf"/>
<circle cx="324.2" cy="575.6" r="1.5" fill="#0d5cbf"/>
<circle cx="331.3" cy="576.3" r="1.5" fill="#0d5cbf"/>
<circle cx="314.2" cy="576.6" r="1.5" fill="#0d5cbf"/>
<circle cx="329.9" cy="578.1" r="1.5" fill="#0d5cbf"/>
<circle cx="312.0" cy="578.0" r="1.5" fill="#0d5cbf"/>
<circle cx="321.8" cy="578.8" r="1.5" fill="#0d5cbf"/>
<circle cx="317.3" cy="579.7" r="1.5" fill="#0d5cbf"/>
<circle cx="318.4" cy="581.6" r="1.5" fill="#0d5cbf"/>
<circle cx="316.7" cy="581.9" r="1.5" fill="#0d5cbf"/>
<circle cx="334.4" cy="581.7" r="1.5" fill="#0d5cbf"/>
<circle cx="318.3" cy="583.4" r="1.5" fill="#0d5cbf"/>
<circle cx="325.2" cy="583.7" r="1.5" fill="#0d5cbf"/>
<circle cx="328.8" cy="585.5" r="1.5" fill="#0d5cbf"/>
<circle cx="317.6" cy="585.8" r="1.5" fill="#0d5cbf"/>
<circle cx="312.1" cy="585.8" r="1.5" fill="#0d5cbf"/>
<circle cx="314.2" cy="586.4" r="1.5" fill="#0d5cbf"/>
<circle cx="321.8" cy="587.5" r="1.5" fill="#0d5cbf"/>
<circle cx="330.4" cy="588.2" r="1.5" fill="#0d5cbf"/>
<circle cx="310.9" cy="588.4" r="1.5" fill="#0d5cbf"/>
<circle cx="330.7" cy="589.0" r="1.5" fill="#0d5cbf"/>
<circle cx="335.5" cy="481.8" r="1.5" fill="#0d5cbf"/>
<line x1="392.10" y1="507.50" x2="392.10" y2="545.00" stroke="#ecbe2e" stroke-width="1.0"/>
<line x1="392.10" y1="572.20" x2="392.10" y2="588.30" stroke="#ecbe2e" stroke-width="1.0"/>
<rect x="367.50" y="545.00" width="49.20" height="27.20" fill="none" stroke="#ecbe2e" stroke-width="0.75"/>
<line x1="367.50" y1="559.50" x2="416.70" y2="559.50" stroke="#e7b10c" stroke-width="1.25"/>
<circle cx="392.1" cy="498.3" r="1.5" fill="#e7b10c"/>
<circle cx="381.5" cy="500.3" r="1.5" fill="#e7b10c"/>
<circle cx="392.4" cy="501.6" r="1.5" fill="#e7b10c"/>
<circle cx="391.0" cy="504.6" r="1.5" fill="#e7b10c"/>
<circle cx="403.9" cy="506.3" r="1.5" fill="#e7b10c"/>
<circle cx="383.1" cy="511.2" r="1.5" fill="#e7b10c"/>
<circle cx="388.2" cy="510.9" r="1.5" fill="#e7b10c"/>
<circle cx="397.1" cy="514.9" r="1.5" fill="#e7b10c"/>
<circle cx="392.7" cy="517.1" r="1.5" fill="#e7b10c"/>
<circle cx="387.5" cy="518.7" r="1.5" fill="#e7b10c"/>
<circle cx="385.5" cy="520.2" r="1.5" fill="#e7b10c"/>
<circle cx="385.7" cy="521.5" r="1.5" fill="#e7b10c"/>
<circle cx="399.2" cy="522.2" r="1.5" fill="#e7b10c"/>
<circle cx="396.8" cy="524.7" r="1.5" fill="#e7b10c"/>
<circle cx="381.3" cy="525.1" r="1.5" fill="#e7b10c"/>
<circle cx="390.5" cy="526.8" r="1.5" fill="#e7b10c"/>
<circle cx="392.4" cy="527.4" r="1.5" fill="#e7b10c"/>
<circle cx="403.3" cy="529.1" r="1.5" fill="#e7b10c"/>
<circle cx="393.0" cy="530.1" r="1.5" fill="#e7b10c"/>
<circle cx="387.3" cy="531.7" r="1.5" fill="#e7b10c"/>
<circle cx="381.5" cy="532.1" r="1.5" fill="#e7b10c"/>
<circle cx="401.4" cy="533.7" r="1.5" fill="#e7b10c"/>
<circle cx="380.7" cy="535.3" r="1.5" fill="#e7b10c"/>
<circle cx="396.2" cy="535.6" r="1.5" fill="#e7b10c"/>
<circle cx="387.9" cy="537.6" r="1.5" fill="#e7b10c"/>
<circle cx="397.3" cy="537.9" r="1.5" fill="#e7b10c"/>
<circle cx="379.7" cy="539.9" r="1.5" fill="#e7b10c"/>
<circle cx="392.9" cy="541.2" r="1.5" fill="#e7b10c"/>
<circle cx="400.6" cy="541.8" r="1.5" fill="#e7b10c"/>
<circle cx="385.2" cy="543.0" r="1.5" fill="#e7b10c"/>
<circle cx="397.7" cy="544.3" r="1.5" fill="#e7b10c"/>
<circle cx="391.0" cy="545.4" r="1.5" fill="#e7b10c"/>
<circle cx="404.0" cy="545.2" r="1.5" fill="#e7b10c"/>
<circle cx="389.0" cy="546.5" r="1.5" fill="#e7b10c"/>
<circle cx="400.5" cy="546.1" r="1.5" fill="#e7b10c"/>
<circle cx="384.0" cy="547.0" r="1.5" fill="#e7b10c"/>
<circle cx="403.4" cy="547.8" r="1.5" fill="#e7b10c"/>
<circle cx="392.5" cy="548.3" r="1.5" fill="#e7b10c"/>
<circle cx="392.4" cy="548.0" r="1.5" fill="#e7b10c"/>
<circle cx="405.1" cy="549.2" r="1.5" fill="#e7b10c"/>
<circle cx="398.4" cy="549.2" r="1.5" fill="#e7b10c"/>
<circle cx="396.5" cy="550.1" r="1.5" fill="#e7b10c"/>
<circle cx="384.7" cy="549.5" r="1.5" fill="#e7b10c"/>
<circle cx="385.3" cy="550.9" r="1.5" fill="#e7b10c"/>
<circle cx="405.8" cy="550.5" r="1.5" fill="#e7b10c"/>
<circle cx="402.6" cy="551.3" r="1.5" fill="#e7b10c"/>
<circle cx="395.4" cy="552.1" r="1.5" fill="#e7b10c"/>
<circle cx="404.4" cy="552.3" r="1.5" fill="#e7b10c"/>
<circle cx="399.2" cy="553.0" r="1.5" fill="#e7b10c"/>
<circle cx="403.5" cy="553.7" r="1.5" fill="#e7b10c"/>
<circle cx="379.6" cy="554.2" r="1.5" fill="#e7b10c"/>
<circle cx="382.4" cy="554.2" r="1.5" fill="#e7b10c"/>
<circle cx="387.2" cy="554.8" r="1.5" fill="#e7b10c"/>
<circle cx="384.8" cy="555.1" r="1.5" fill="#e7b10c"/>
<circle cx="379.7" cy="556.1" r="1.5" fill="#e7b10c"/>
<circle cx="387.1" cy="556.1" r="1.5" fill="#e7b10c"/>
<circle cx="404.8" cy="557.2" r="1.5" fill="#e7b10c"/>
<circle cx="403.6" cy="557.4" r="1.5" fill="#e7b10c"/>
<circle cx="405.5" cy="558.1" r="1.5" fill="#e7b10c"/>
<circle cx="391.0" cy="558.3" r="1.5" fill="#e7b10c"/>
<circle cx="398.5" cy="559.0" r="1.5" fill="#e7b10c"/>
<circle cx="381.4" cy="558.5" r="1.5" fill="#e7b10c"/>
<circle cx="378.8" cy="560.1" r="1.5" fill="#e7b10c"/>
<circle cx="392.0" cy="560.0" r="1.5" fill="#e7b10c"/>
<circle cx="396.0" cy="560.5" r="1.5" fill="#e7b10c"/>
<circle cx="388.7" cy="560.6" r="1.5" fill="#e7b10c"/>
<circle cx="394.2" cy="561.6" r="1.5" fill="#e7b10c"/>
<circle cx="401.6" cy="561.3" r="1.5" fill="#e7b10c"/>
<circle cx="403.7" cy="561.9" r="1.5" fill="#e7b10c"/>
<circle cx="403.2" cy="562.9" r="1.5" fill="#e7b10c"/>
<circle cx="378.5" cy="562.5" r="1.5" fill="#e7b10c"/>
<circle cx="384.0" cy="563.1" r="1.5" fill="#e7b10c"/>
<circle cx="396.5" cy="564.0" r="1.5" fill="#e7b10c"/>
<circle cx="394.0" cy="564.3" r="1.5" fill="#e7b10c"/>
<circle cx="378.9" cy="564.4" r="1.5" fill="#e7b10c"/>
<circle cx="383.3" cy="565.1" r="1.5" fill="#e7b10c"/>
<circle cx="398.9" cy="565.1" r="1.5" fill="#e7b10c"/>
<circle cx="395.0" cy="565.7" r="1.5" fill="#e7b10c"/>
<circle cx="404.3" cy="565.7" r="1.5" fill="#e7b10c"/>
<circle cx="395.9" cy="566.2" r="1.5" fill="#e7b10c"/>
<circle cx="387.3" cy="566.6" r="1.5" fill="#e7b10c"/>
<circle cx="405.1" cy="567.4" r="1.5" fill="#e7b10c"/>
<circle cx="378.7" cy="567.9" r="1.5" fill="#e7b10c"/>
<circle cx="388.8" cy="568.3" r="1.5" fill="#e7b10c"/>
<circle cx="382.9" cy="569.0" r="1.5" fill="#e7b10c"/>
<circle cx="402.5" cy="568.8" r="1.5" fill="#e7b10c"/>
<circle cx="379.9" cy="569.2" r="1.5" fill="#e7b10c"/>
<circle cx="403.0" cy="569.5" r="1.5" fill="#e7b10c"/>
<circle cx="397.9" cy="570.4" r="1.5" fill="#e7b10c"/>
<circle cx="382.7" cy="570.3" r="1.5" fill="#e7b10c"/>
<circle cx="390.4" cy="570.4" r="1.5" fill="#e7b10c"/>
<circle cx="397.2" cy="570.7" r="1.5" fill="#e7b10c"/>
<circle cx="384.5" cy="571.5" r="1.5" fill="#e7b10c"/>
<circle cx="399.4" cy="571.7" r="1.5" fill="#e7b10c"/>
<circle cx="383.2" cy="573.1" r="1.5" fill="#e7b10c"/>
<circle cx="385.0" cy="573.2" r="1.5" fill="#e7b10c"/>
<circle cx="383.5" cy="573.4" r="1.5" fill="#e7b10c"/>
<circle cx="398.0" cy="574.7" r="1.5" fill="#e7b10c"/>
<circle cx="394.6" cy="574.3" r="1.5" fill="#e7b10c"/>
<circle cx="390.1" cy="575.2" r="1.5" fill="#e7b10c"/>
<circle cx="379.0" cy="575.5" r="1.5" fill="#e7b10c"/>
<circle cx="402.5" cy="576.5" r="1.5" fill="#e7b10c"/>
<circle cx="387.4" cy="576.4" r="1.5" fill="#e7b10c"/>
<circle cx="393.2" cy="576.5" r="1.5" fill="#e7b10c"/>
<circle cx="404.9" cy="577.6" r="1.5" fill="#e7b10c"/>
<circle cx="388.4" cy="578.2" r="1.5" fill="#e7b10c"/>
<circle cx="395.6" cy="578.2" r="1.5" fill="#e7b10c"/>
<circle cx="394.4" cy="578.5" r="1.5" fill="#e7b10c"/>
<circle cx="390.0" cy="579.0" r="1.5" fill="#e7b10c"/>
<circle cx="394.4" cy="580.3" r="1.5" fill="#e7b10c"/>
<circle cx="392.6" cy="580.1" r="1.5" fill="#e7b10c"/>
<circle cx="392.1" cy="580.9" r="1.5" fill="#e7b10c"/>
<circle cx="389.2" cy="581.1" r="1.5" fill="#e7b10c"/>
<circle cx="398.0" cy="581.2" r="1.5" fill="#e7b10c"/>
<circle cx="400.6" cy="582.4" r="1.5" fill="#e7b10c"/>
<circle cx="400.4" cy="582.8" r="1.5" fill="#e7b10c"/>
<circle cx="399.1" cy="582.9" r="1.5" fill="#e7b10c"/>
<circle cx="397.3" cy="583.8" r="1.5" fill="#e7b10c"/>
<circle cx="395.0" cy="584.8" r="1.5" fill="#e7b10c"/>
<circle cx="398.1" cy="584.7" r="1.5" fill="#e7b10c"/>
<circle cx="395.2" cy="585.2" r="1.5" fill="#e7b10c"/>
<circle cx="387.9" cy="586.3" r="1.5" fill="#e7b10c"/>
<circle cx="399.3" cy="586.9" r="1.5" fill="#e7b10c"/>
<circle cx="395.7" cy="587.8" r="1.5" fill="#e7b10c"/>
<circle cx="401.8" cy="588.3" r="1.5" fill="#e7b10c"/>
<line x1="280.30" y1="477.20" x2="280.30" y2="595.00" stroke="#383838" stroke-width="1.05"/>
<line x1="279.80" y1="594.50" x2="433.60" y2="594.50" stroke="#383838" stroke-width="1.05"/>
<line x1="278.70" y1="589.30" x2="280.30" y2="589.30" stroke="#333" stroke-width="0.7"/>
<text x="277.30" y="591.90" font-size="7.8" fill="#222" stroke="#222" stroke-width="0.18" text-anchor="end" font-weight="normal">0.0</text>
<line x1="278.70" y1="561.30" x2="280.30" y2="561.30" stroke="#333" stroke-width="0.7"/>
<text x="277.30" y="563.90" font-size="7.8" fill="#222" stroke="#222" stroke-width="0.18" text-anchor="end" font-weight="normal">0.1</text>
<line x1="278.70" y1="533.30" x2="280.30" y2="533.30" stroke="#333" stroke-width="0.7"/>
<text x="277.30" y="535.90" font-size="7.8" fill="#222" stroke="#222" stroke-width="0.18" text-anchor="end" font-weight="normal">0.2</text>
<line x1="278.70" y1="505.30" x2="280.30" y2="505.30" stroke="#333" stroke-width="0.7"/>
<text x="277.30" y="507.90" font-size="7.8" fill="#222" stroke="#222" stroke-width="0.18" text-anchor="end" font-weight="normal">0.3</text>
<line x1="278.70" y1="477.30" x2="280.30" y2="477.30" stroke="#333" stroke-width="0.7"/>
<text x="277.30" y="479.90" font-size="7.8" fill="#222" stroke="#222" stroke-width="0.18" text-anchor="end" font-weight="normal">0.4</text>
<line x1="322.60" y1="594.50" x2="322.60" y2="596.30" stroke="#333" stroke-width="0.7"/>
<text x="322.60" y="604.30" font-size="7.8" fill="#222" stroke="#222" stroke-width="0.18" text-anchor="middle" font-weight="normal">SlowAging</text>
<line x1="392.10" y1="594.50" x2="392.10" y2="596.30" stroke="#333" stroke-width="0.7"/>
<text x="392.10" y="604.30" font-size="7.8" fill="#222" stroke="#222" stroke-width="0.18" text-anchor="middle" font-weight="normal">QuickAging</text>
<text x="357.00" y="612.50" font-size="7.8" fill="#222" stroke="#222" stroke-width="0.18" text-anchor="middle" font-weight="normal">deltagroup</text>
<text x="263.00" y="535.80" font-size="7.8" fill="#222" stroke="#222" stroke-width="0.18" text-anchor="middle" font-weight="normal" transform="rotate(-90 263.00 535.80)">value</text>
<text x="357.30" y="445.07" font-size="9.35" fill="#111" stroke="#111" stroke-width="0.18" text-anchor="middle" font-weight="normal">T.cells.CD8</text>
<text x="310.00" y="482.10" font-size="6.98" fill="#111" stroke="#111" stroke-width="0.18" text-anchor="start" font-weight="normal">Wilcoxon, p = 0.041</text>
<text x="290.30" y="462.20" font-size="7.7" fill="#222" stroke="#222" stroke-width="0.18" text-anchor="start" font-weight="normal">deltagroup</text>
<rect x="331.70" y="456.80" width="9.00" height="6.40" fill="none" stroke="#3f7fd0" stroke-width="0.7"/>
<line x1="336.20" y1="455.50" x2="336.20" y2="464.50" stroke="#3f7fd0" stroke-width="0.7"/>
<line x1="331.70" y1="460.00" x2="340.70" y2="460.00" stroke="#3f7fd0" stroke-width="0.8"/>
<circle cx="336.20" cy="460.00" r="1.45" fill="#0d5cbf"/>
<rect x="379.20" y="456.80" width="9.00" height="6.40" fill="none" stroke="#ecbe2e" stroke-width="0.7"/>
<line x1="383.70" y1="455.50" x2="383.70" y2="464.50" stroke="#ecbe2e" stroke-width="0.7"/>
<line x1="379.20" y1="460.00" x2="388.20" y2="460.00" stroke="#ecbe2e" stroke-width="0.8"/>
<circle cx="383.70" cy="460.00" r="1.45" fill="#e7b10c"/>
<text x="345.20" y="461.90" font-size="6.2" fill="#222" stroke="#222" stroke-width="0.18" text-anchor="start" font-weight="normal">SlowAging</text>
<text x="392.70" y="461.90" font-size="6.2" fill="#222" stroke="#222" stroke-width="0.18" text-anchor="start" font-weight="normal">QuickAging</text>
<text x="267.40" y="443.90" font-size="14" fill="#000" stroke="#000" stroke-width="0.18" text-anchor="start" font-weight="bold">F</text>
</g>
<g id="G">
<line x1="511.60" y1="482.40" x2="511.60" y2="534.10" stroke="#3f7fd0" stroke-width="1.0"/>
<line x1="511.60" y1="581.70" x2="511.60" y2="589.40" stroke="#3f7fd0" stroke-width="1.0"/>
<rect x="487.60" y="534.10" width="48.00" height="47.60" fill="none" stroke="#3f7fd0" stroke-width="0.75"/>
<line x1="487.60" y1="554.10" x2="535.60" y2="554.10" stroke="#0d5cbf" stroke-width="1.25"/>
<circle cx="518.4" cy="484.6" r="1.5" fill="#0d5cbf"/>
<circle cx="512.1" cy="485.4" r="1.5" fill="#0d5cbf"/>
<circle cx="518.1" cy="487.2" r="1.5" fill="#0d5cbf"/>
<circle cx="502.9" cy="490.9" r="1.5" fill="#0d5cbf"/>
<circle cx="513.1" cy="492.9" r="1.5" fill="#0d5cbf"/>
<circle cx="518.5" cy="496.4" r="1.5" fill="#0d5cbf"/>
<circle cx="514.5" cy="497.7" r="1.5" fill="#0d5cbf"/>
<circle cx="506.7" cy="500.2" r="1.5" fill="#0d5cbf"/>
<circle cx="508.8" cy="504.0" r="1.5" fill="#0d5cbf"/>
<circle cx="517.1" cy="504.7" r="1.5" fill="#0d5cbf"/>
<circle cx="505.0" cy="507.5" r="1.5" fill="#0d5cbf"/>
<circle cx="522.7" cy="510.3" r="1.5" fill="#0d5cbf"/>
<circle cx="503.1" cy="512.7" r="1.5" fill="#0d5cbf"/>
<circle cx="518.1" cy="514.6" r="1.5" fill="#0d5cbf"/>
<circle cx="500.6" cy="515.4" r="1.5" fill="#0d5cbf"/>
<circle cx="509.7" cy="517.5" r="1.5" fill="#0d5cbf"/>
<circle cx="503.8" cy="519.4" r="1.5" fill="#0d5cbf"/>
<circle cx="501.5" cy="519.8" r="1.5" fill="#0d5cbf"/>
<circle cx="507.4" cy="521.2" r="1.5" fill="#0d5cbf"/>
<circle cx="510.7" cy="523.8" r="1.5" fill="#0d5cbf"/>
<circle cx="508.1" cy="524.5" r="1.5" fill="#0d5cbf"/>
<circle cx="502.2" cy="527.5" r="1.5" fill="#0d5cbf"/>
<circle cx="509.3" cy="529.2" r="1.5" fill="#0d5cbf"/>
<circle cx="499.8" cy="530.3" r="1.5" fill="#0d5cbf"/>
<circle cx="503.2" cy="532.7" r="1.5" fill="#0d5cbf"/>
<circle cx="514.8" cy="534.5" r="1.5" fill="#0d5cbf"/>
<circle cx="514.7" cy="534.7" r="1.5" fill="#0d5cbf"/>
<circle cx="512.8" cy="536.0" r="1.5" fill="#0d5cbf"/>
<circle cx="510.1" cy="536.0" r="1.5" fill="#0d5cbf"/>
<circle cx="515.7" cy="536.8" r="1.5" fill="#0d5cbf"/>
<circle cx="500.1" cy="537.4" r="1.5" fill="#0d5cbf"/>
<circle cx="511.5" cy="538.8" r="1.5" fill="#0d5cbf"/>
<circle cx="515.3" cy="539.1" r="1.5" fill="#0d5cbf"/>
<circle cx="516.8" cy="540.5" r="1.5" fill="#0d5cbf"/>
<circle cx="508.0" cy="541.6" r="1.5" fill="#0d5cbf"/>
<circle cx="508.5" cy="541.5" r="1.5" fill="#0d5cbf"/>
<circle cx="511.1" cy="542.4" r="1.5" fill="#0d5cbf"/>
<circle cx="502.8" cy="543.8" r="1.5" fill="#0d5cbf"/>
<circle cx="524.4" cy="544.0" r="1.5" fill="#0d5cbf"/>
<circle cx="514.6" cy="544.7" r="1.5" fill="#0d5cbf"/>
<circle cx="507.1" cy="545.2" r="1.5" fill="#0d5cbf"/>
<circle cx="519.4" cy="546.5" r="1.5" fill="#0d5cbf"/>
<circle cx="512.8" cy="547.0" r="1.5" fill="#0d5cbf"/>
<circle cx="524.3" cy="548.6" r="1.5" fill="#0d5cbf"/>
<circle cx="499.8" cy="549.0" r="1.5" fill="#0d5cbf"/>
<circle cx="509.4" cy="549.0" r="1.5" fill="#0d5cbf"/>
<circle cx="516.9" cy="550.1" r="1.5" fill="#0d5cbf"/>
<circle cx="502.1" cy="550.7" r="1.5" fill="#0d5cbf"/>
<circle cx="514.4" cy="552.0" r="1.5" fill="#0d5cbf"/>
<circle cx="519.6" cy="552.9" r="1.5" fill="#0d5cbf"/>
<circle cx="508.2" cy="552.9" r="1.5" fill="#0d5cbf"/>
<circle cx="506.4" cy="554.1" r="1.5" fill="#0d5cbf"/>
<circle cx="518.9" cy="554.4" r="1.5" fill="#0d5cbf"/>
<circle cx="511.6" cy="555.8" r="1.5" fill="#0d5cbf"/>
<circle cx="516.6" cy="557.4" r="1.5" fill="#0d5cbf"/>
<circle cx="515.3" cy="558.0" r="1.5" fill="#0d5cbf"/>
<circle cx="516.7" cy="559.1" r="1.5" fill="#0d5cbf"/>
<circle cx="520.2" cy="560.1" r="1.5" fill="#0d5cbf"/>
<circle cx="514.2" cy="561.2" r="1.5" fill="#0d5cbf"/>
<circle cx="522.8" cy="562.7" r="1.5" fill="#0d5cbf"/>
<circle cx="520.7" cy="563.3" r="1.5" fill="#0d5cbf"/>
<circle cx="510.2" cy="563.8" r="1.5" fill="#0d5cbf"/>
<circle cx="519.0" cy="564.2" r="1.5" fill="#0d5cbf"/>
<circle cx="514.1" cy="566.2" r="1.5" fill="#0d5cbf"/>
<circle cx="506.3" cy="567.0" r="1.5" fill="#0d5cbf"/>
<circle cx="523.1" cy="568.5" r="1.5" fill="#0d5cbf"/>
<circle cx="515.2" cy="569.5" r="1.5" fill="#0d5cbf"/>
<circle cx="503.2" cy="570.2" r="1.5" fill="#0d5cbf"/>
<circle cx="520.5" cy="571.2" r="1.5" fill="#0d5cbf"/>
<circle cx="500.7" cy="571.6" r="1.5" fill="#0d5cbf"/>
<circle cx="506.7" cy="573.2" r="1.5" fill="#0d5cbf"/>
<circle cx="508.7" cy="574.1" r="1.5" fill="#0d5cbf"/>
<circle cx="504.6" cy="575.7" r="1.5" fill="#0d5cbf"/>
<circle cx="507.0" cy="576.0" r="1.5" fill="#0d5cbf"/>
<circle cx="515.3" cy="576.5" r="1.5" fill="#0d5cbf"/>
<circle cx="504.2" cy="578.1" r="1.5" fill="#0d5cbf"/>
<circle cx="502.4" cy="578.9" r="1.5" fill="#0d5cbf"/>
<circle cx="521.5" cy="580.3" r="1.5" fill="#0d5cbf"/>
<circle cx="521.9" cy="581.4" r="1.5" fill="#0d5cbf"/>
<circle cx="511.5" cy="581.6" r="1.5" fill="#0d5cbf"/>
<circle cx="507.9" cy="582.6" r="1.5" fill="#0d5cbf"/>
<circle cx="502.5" cy="582.8" r="1.5" fill="#0d5cbf"/>
<circle cx="506.5" cy="584.0" r="1.5" fill="#0d5cbf"/>
<circle cx="504.1" cy="584.3" r="1.5" fill="#0d5cbf"/>
<circle cx="510.6" cy="584.9" r="1.5" fill="#0d5cbf"/>
<circle cx="508.6" cy="585.7" r="1.5" fill="#0d5cbf"/>
<circle cx="516.1" cy="586.7" r="1.5" fill="#0d5cbf"/>
<circle cx="504.7" cy="587.1" r="1.5" fill="#0d5cbf"/>
<circle cx="504.3" cy="587.7" r="1.5" fill="#0d5cbf"/>
<circle cx="506.9" cy="587.4" r="1.5" fill="#0d5cbf"/>
<circle cx="513.5" cy="588.8" r="1.5" fill="#0d5cbf"/>
<circle cx="502.1" cy="588.8" r="1.5" fill="#0d5cbf"/>
<circle cx="512.0" cy="589.4" r="1.5" fill="#0d5cbf"/>
<circle cx="515.7" cy="589.4" r="1.5" fill="#0d5cbf"/>
<circle cx="518.0" cy="589.4" r="1.5" fill="#0d5cbf"/>
<circle cx="505.0" cy="589.4" r="1.5" fill="#0d5cbf"/>
<circle cx="501.8" cy="589.4" r="1.5" fill="#0d5cbf"/>
<circle cx="506.2" cy="589.4" r="1.5" fill="#0d5cbf"/>
<circle cx="501.5" cy="589.4" r="1.5" fill="#0d5cbf"/>
<circle cx="503.9" cy="589.4" r="1.5" fill="#0d5cbf"/>
<circle cx="513.6" cy="589.4" r="1.5" fill="#0d5cbf"/>
<circle cx="515.8" cy="589.4" r="1.5" fill="#0d5cbf"/>
<circle cx="505.7" cy="589.4" r="1.5" fill="#0d5cbf"/>
<circle cx="523.6" cy="589.4" r="1.5" fill="#0d5cbf"/>
<circle cx="501.2" cy="589.4" r="1.5" fill="#0d5cbf"/>
<circle cx="506.1" cy="589.4" r="1.5" fill="#0d5cbf"/>
<circle cx="521.6" cy="589.4" r="1.5" fill="#0d5cbf"/>
<circle cx="516.5" cy="589.4" r="1.5" fill="#0d5cbf"/>
<line x1="579.30" y1="497.60" x2="579.30" y2="549.10" stroke="#ecbe2e" stroke-width="1.0"/>
<line x1="579.30" y1="585.70" x2="579.30" y2="589.40" stroke="#ecbe2e" stroke-width="1.0"/>
<rect x="555.40" y="549.10" width="47.80" height="36.60" fill="none" stroke="#ecbe2e" stroke-width="0.75"/>
<line x1="555.40" y1="565.20" x2="603.20" y2="565.20" stroke="#e7b10c" stroke-width="1.25"/>
<circle cx="584.1" cy="498.7" r="1.5" fill="#e7b10c"/>
<circle cx="581.0" cy="502.3" r="1.5" fill="#e7b10c"/>
<circle cx="572.9" cy="508.4" r="1.5" fill="#e7b10c"/>
<circle cx="581.3" cy="508.5" r="1.5" fill="#e7b10c"/>
<circle cx="583.4" cy="514.9" r="1.5" fill="#e7b10c"/>
<circle cx="568.1" cy="517.3" r="1.5" fill="#e7b10c"/>
<circle cx="577.5" cy="519.5" r="1.5" fill="#e7b10c"/>
<circle cx="579.6" cy="521.6" r="1.5" fill="#e7b10c"/>
<circle cx="567.8" cy="522.4" r="1.5" fill="#e7b10c"/>
<circle cx="577.6" cy="522.5" r="1.5" fill="#e7b10c"/>
<circle cx="576.2" cy="525.1" r="1.5" fill="#e7b10c"/>
<circle cx="589.5" cy="526.1" r="1.5" fill="#e7b10c"/>
<circle cx="571.0" cy="528.0" r="1.5" fill="#e7b10c"/>
<circle cx="586.6" cy="528.7" r="1.5" fill="#e7b10c"/>
<circle cx="581.0" cy="530.3" r="1.5" fill="#e7b10c"/>
<circle cx="578.4" cy="532.0" r="1.5" fill="#e7b10c"/>
<circle cx="572.7" cy="534.7" r="1.5" fill="#e7b10c"/>
<circle cx="566.9" cy="535.4" r="1.5" fill="#e7b10c"/>
<circle cx="586.2" cy="537.5" r="1.5" fill="#e7b10c"/>
<circle cx="577.5" cy="539.1" r="1.5" fill="#e7b10c"/>
<circle cx="591.4" cy="539.5" r="1.5" fill="#e7b10c"/>
<circle cx="591.8" cy="541.8" r="1.5" fill="#e7b10c"/>
<circle cx="590.2" cy="542.1" r="1.5" fill="#e7b10c"/>
<circle cx="586.4" cy="543.8" r="1.5" fill="#e7b10c"/>
<circle cx="568.4" cy="546.2" r="1.5" fill="#e7b10c"/>
<circle cx="586.6" cy="547.4" r="1.5" fill="#e7b10c"/>
<circle cx="570.8" cy="549.1" r="1.5" fill="#e7b10c"/>
<circle cx="569.0" cy="550.1" r="1.5" fill="#e7b10c"/>
<circle cx="581.6" cy="550.7" r="1.5" fill="#e7b10c"/>
<circle cx="585.5" cy="551.4" r="1.5" fill="#e7b10c"/>
<circle cx="587.0" cy="552.0" r="1.5" fill="#e7b10c"/>
<circle cx="567.3" cy="551.6" r="1.5" fill="#e7b10c"/>
<circle cx="571.1" cy="553.1" r="1.5" fill="#e7b10c"/>
<circle cx="571.6" cy="553.1" r="1.5" fill="#e7b10c"/>
<circle cx="572.4" cy="553.9" r="1.5" fill="#e7b10c"/>
<circle cx="583.6" cy="554.9" r="1.5" fill="#e7b10c"/>
<circle cx="580.3" cy="555.0" r="1.5" fill="#e7b10c"/>
<circle cx="572.6" cy="555.7" r="1.5" fill="#e7b10c"/>
<circle cx="566.9" cy="556.5" r="1.5" fill="#e7b10c"/>
<circle cx="567.7" cy="557.5" r="1.5" fill="#e7b10c"/>
<circle cx="571.0" cy="557.1" r="1.5" fill="#e7b10c"/>
<circle cx="576.1" cy="558.4" r="1.5" fill="#e7b10c"/>
<circle cx="568.5" cy="558.9" r="1.5" fill="#e7b10c"/>
<circle cx="577.9" cy="560.0" r="1.5" fill="#e7b10c"/>
<circle cx="589.9" cy="560.2" r="1.5" fill="#e7b10c"/>
<circle cx="577.6" cy="560.3" r="1.5" fill="#e7b10c"/>
<circle cx="570.8" cy="561.2" r="1.5" fill="#e7b10c"/>
<circle cx="587.1" cy="562.7" r="1.5" fill="#e7b10c"/>
<circle cx="587.4" cy="562.6" r="1.5" fill="#e7b10c"/>
<circle cx="591.4" cy="563.0" r="1.5" fill="#e7b10c"/>
<circle cx="588.2" cy="563.6" r="1.5" fill="#e7b10c"/>
<circle cx="570.2" cy="565.0" r="1.5" fill="#e7b10c"/>
<circle cx="569.4" cy="565.0" r="1.5" fill="#e7b10c"/>
<circle cx="572.2" cy="566.0" r="1.5" fill="#e7b10c"/>
<circle cx="572.9" cy="567.1" r="1.5" fill="#e7b10c"/>
<circle cx="568.3" cy="567.4" r="1.5" fill="#e7b10c"/>
<circle cx="589.3" cy="567.4" r="1.5" fill="#e7b10c"/>
<circle cx="581.7" cy="568.2" r="1.5" fill="#e7b10c"/>
<circle cx="580.9" cy="569.8" r="1.5" fill="#e7b10c"/>
<circle cx="591.4" cy="570.2" r="1.5" fill="#e7b10c"/>
<circle cx="580.2" cy="571.1" r="1.5" fill="#e7b10c"/>
<circle cx="585.3" cy="570.8" r="1.5" fill="#e7b10c"/>
<circle cx="580.9" cy="571.5" r="1.5" fill="#e7b10c"/>
<circle cx="583.5" cy="573.0" r="1.5" fill="#e7b10c"/>
<circle cx="577.4" cy="572.5" r="1.5" fill="#e7b10c"/>
<circle cx="573.9" cy="573.5" r="1.5" fill="#e7b10c"/>
<circle cx="577.9" cy="574.4" r="1.5" fill="#e7b10c"/>
<circle cx="584.6" cy="575.1" r="1.5" fill="#e7b10c"/>
<circle cx="580.4" cy="576.1" r="1.5" fill="#e7b10c"/>
<circle cx="567.1" cy="576.7" r="1.5" fill="#e7b10c"/>
<circle cx="584.0" cy="576.8" r="1.5" fill="#e7b10c"/>
<circle cx="584.7" cy="578.3" r="1.5" fill="#e7b10c"/>
<circle cx="575.7" cy="578.0" r="1.5" fill="#e7b10c"/>
<circle cx="591.7" cy="579.5" r="1.5" fill="#e7b10c"/>
<circle cx="573.1" cy="579.9" r="1.5" fill="#e7b10c"/>
<circle cx="580.5" cy="579.8" r="1.5" fill="#e7b10c"/>
<circle cx="577.7" cy="580.9" r="1.5" fill="#e7b10c"/>
<circle cx="588.6" cy="582.2" r="1.5" fill="#e7b10c"/>
<circle cx="575.3" cy="582.5" r="1.5" fill="#e7b10c"/>
<circle cx="585.2" cy="583.2" r="1.5" fill="#e7b10c"/>
<circle cx="571.8" cy="583.1" r="1.5" fill="#e7b10c"/>
<circle cx="570.2" cy="584.1" r="1.5" fill="#e7b10c"/>
<circle cx="590.6" cy="584.8" r="1.5" fill="#e7b10c"/>
<circle cx="570.8" cy="585.2" r="1.5" fill="#e7b10c"/>
<circle cx="575.7" cy="586.3" r="1.5" fill="#e7b10c"/>
<circle cx="573.1" cy="586.3" r="1.5" fill="#e7b10c"/>
<circle cx="568.5" cy="586.2" r="1.5" fill="#e7b10c"/>
<circle cx="586.1" cy="586.6" r="1.5" fill="#e7b10c"/>
<circle cx="573.9" cy="586.9" r="1.5" fill="#e7b10c"/>
<circle cx="590.9" cy="588.1" r="1.5" fill="#e7b10c"/>
<circle cx="571.9" cy="588.0" r="1.5" fill="#e7b10c"/>
<circle cx="570.3" cy="588.6" r="1.5" fill="#e7b10c"/>
<circle cx="568.5" cy="588.2" r="1.5" fill="#e7b10c"/>
<circle cx="581.1" cy="588.7" r="1.5" fill="#e7b10c"/>
<circle cx="570.1" cy="589.0" r="1.5" fill="#e7b10c"/>
<circle cx="584.8" cy="589.4" r="1.5" fill="#e7b10c"/>
<circle cx="588.4" cy="589.4" r="1.5" fill="#e7b10c"/>
<circle cx="572.5" cy="589.4" r="1.5" fill="#e7b10c"/>
<circle cx="578.5" cy="589.4" r="1.5" fill="#e7b10c"/>
<circle cx="586.4" cy="589.4" r="1.5" fill="#e7b10c"/>
<circle cx="589.3" cy="589.4" r="1.5" fill="#e7b10c"/>
<circle cx="569.4" cy="589.4" r="1.5" fill="#e7b10c"/>
<circle cx="581.2" cy="589.4" r="1.5" fill="#e7b10c"/>
<circle cx="579.7" cy="589.4" r="1.5" fill="#e7b10c"/>
<circle cx="588.5" cy="589.4" r="1.5" fill="#e7b10c"/>
<circle cx="568.6" cy="589.4" r="1.5" fill="#e7b10c"/>
<circle cx="578.3" cy="589.4" r="1.5" fill="#e7b10c"/>
<circle cx="572.4" cy="589.4" r="1.5" fill="#e7b10c"/>
<circle cx="577.7" cy="589.4" r="1.5" fill="#e7b10c"/>
<circle cx="592.2" cy="589.4" r="1.5" fill="#e7b10c"/>
<circle cx="590.2" cy="589.4" r="1.5" fill="#e7b10c"/>
<circle cx="566.6" cy="589.4" r="1.5" fill="#e7b10c"/>
<circle cx="572.2" cy="589.4" r="1.5" fill="#e7b10c"/>
<circle cx="574.9" cy="589.4" r="1.5" fill="#e7b10c"/>
<circle cx="576.7" cy="589.4" r="1.5" fill="#e7b10c"/>
<circle cx="583.3" cy="589.4" r="1.5" fill="#e7b10c"/>
<circle cx="577.3" cy="589.4" r="1.5" fill="#e7b10c"/>
<line x1="470.60" y1="477.20" x2="470.60" y2="595.10" stroke="#383838" stroke-width="1.05"/>
<line x1="470.10" y1="594.60" x2="619.60" y2="594.60" stroke="#383838" stroke-width="1.05"/>
<line x1="469.00" y1="589.40" x2="470.60" y2="589.40" stroke="#333" stroke-width="0.7"/>
<text x="467.30" y="592.00" font-size="7.8" fill="#222" stroke="#222" stroke-width="0.18" text-anchor="end" font-weight="normal">0.00</text>
<line x1="469.00" y1="568.30" x2="470.60" y2="568.30" stroke="#333" stroke-width="0.7"/>
<text x="467.30" y="570.90" font-size="7.8" fill="#222" stroke="#222" stroke-width="0.18" text-anchor="end" font-weight="normal">0.05</text>
<line x1="469.00" y1="546.90" x2="470.60" y2="546.90" stroke="#333" stroke-width="0.7"/>
<text x="467.30" y="549.50" font-size="7.8" fill="#222" stroke="#222" stroke-width="0.18" text-anchor="end" font-weight="normal">0.10</text>
<line x1="469.00" y1="525.60" x2="470.60" y2="525.60" stroke="#333" stroke-width="0.7"/>
<text x="467.30" y="528.20" font-size="7.8" fill="#222" stroke="#222" stroke-width="0.18" text-anchor="end" font-weight="normal">0.15</text>
<line x1="469.00" y1="504.30" x2="470.60" y2="504.30" stroke="#333" stroke-width="0.7"/>
<text x="467.30" y="506.90" font-size="7.8" fill="#222" stroke="#222" stroke-width="0.18" text-anchor="end" font-weight="normal">0.20</text>
<line x1="469.00" y1="483.30" x2="470.60" y2="483.30" stroke="#333" stroke-width="0.7"/>
<text x="467.30" y="485.90" font-size="7.8" fill="#222" stroke="#222" stroke-width="0.18" text-anchor="end" font-weight="normal">0.25</text>
<line x1="511.60" y1="594.60" x2="511.60" y2="596.40" stroke="#333" stroke-width="0.7"/>
<text x="511.60" y="603.90" font-size="7.8" fill="#222" stroke="#222" stroke-width="0.18" text-anchor="middle" font-weight="normal">SlowAging</text>
<line x1="579.30" y1="594.60" x2="579.30" y2="596.40" stroke="#333" stroke-width="0.7"/>
<text x="579.30" y="603.90" font-size="7.8" fill="#222" stroke="#222" stroke-width="0.18" text-anchor="middle" font-weight="normal">QuickAging</text>
<text x="545.20" y="612.70" font-size="7.8" fill="#222" stroke="#222" stroke-width="0.18" text-anchor="middle" font-weight="normal">deltagroup</text>
<text x="448.70" y="535.40" font-size="7.8" fill="#222" stroke="#222" stroke-width="0.18" text-anchor="middle" font-weight="normal" transform="rotate(-90 448.70 535.40)">value</text>
<text x="545.60" y="445.05" font-size="9.3" fill="#111" stroke="#111" stroke-width="0.18" text-anchor="middle" font-weight="normal">T.cells.CD4.memory.resting</text>
<text x="498.90" y="482.40" font-size="7.06" fill="#111" stroke="#111" stroke-width="0.18" text-anchor="start" font-weight="normal">Wilcoxon, p = 0.017</text>
<text x="478.10" y="462.00" font-size="7.7" fill="#222" stroke="#222" stroke-width="0.18" text-anchor="start" font-weight="normal">deltagroup</text>
<rect x="519.30" y="456.50" width="9.30" height="6.60" fill="none" stroke="#3f7fd0" stroke-width="0.7"/>
<line x1="523.95" y1="455.20" x2="523.95" y2="464.40" stroke="#3f7fd0" stroke-width="0.7"/>
<line x1="519.30" y1="459.80" x2="528.60" y2="459.80" stroke="#3f7fd0" stroke-width="0.8"/>
<circle cx="523.95" cy="459.80" r="1.45" fill="#0d5cbf"/>
<rect x="566.90" y="456.50" width="9.30" height="6.60" fill="none" stroke="#ecbe2e" stroke-width="0.7"/>
<line x1="571.55" y1="455.20" x2="571.55" y2="464.40" stroke="#ecbe2e" stroke-width="0.7"/>
<line x1="566.90" y1="459.80" x2="576.20" y2="459.80" stroke="#ecbe2e" stroke-width="0.8"/>
<circle cx="571.55" cy="459.80" r="1.45" fill="#e7b10c"/>
<text x="533.10" y="461.70" font-size="6.2" fill="#222" stroke="#222" stroke-width="0.18" text-anchor="start" font-weight="normal">SlowAging</text>
<text x="580.70" y="461.70" font-size="6.2" fill="#222" stroke="#222" stroke-width="0.18" text-anchor="start" font-weight="normal">QuickAging</text>
<text x="446.40" y="444.20" font-size="14" fill="#000" stroke="#000" stroke-width="0.18" text-anchor="start" font-weight="bold">G</text>
</g>
</svg>
<div class="cap">Figure 3. Construction of Biological-meaningful Aging Clock predicted population based Quick-aging and Slow-aging<br>group.</div>
<div class="cap2">(A) A deep-learning-trained algorithm to draw a chart predicted age by training sets, respectively; red/black dots are test and train</div>
</body></html>
